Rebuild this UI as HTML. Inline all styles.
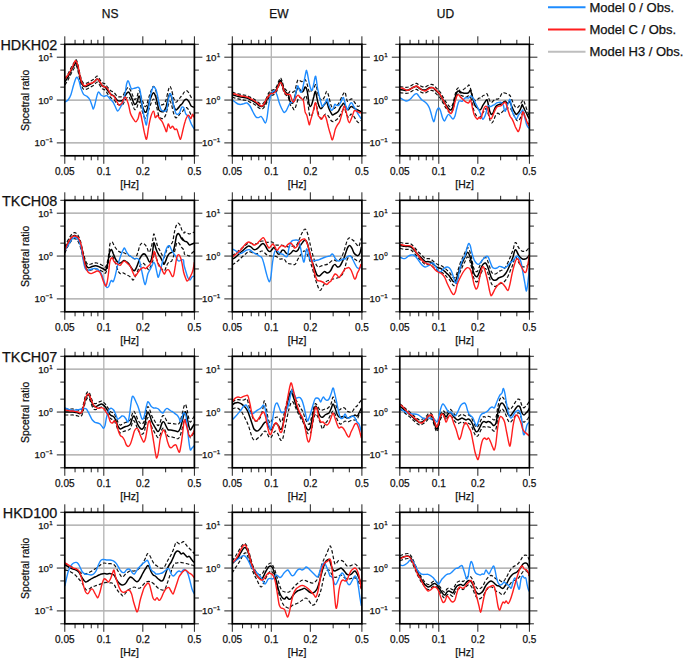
<!DOCTYPE html>
<html><head><meta charset="utf-8"><style>
html,body{margin:0;padding:0;background:#fff;}
svg{display:block;font-family:"Liberation Sans", sans-serif;}
svg text{fill:#111;stroke:#111;stroke-width:0.25px;}
</style></head><body>
<svg width="685" height="658" viewBox="0 0 685 658">
<line x1="64.80" y1="57.20" x2="194.40" y2="57.20" stroke="#a0a0a0" stroke-width="1.2"/>
<line x1="64.80" y1="100.05" x2="194.40" y2="100.05" stroke="#a0a0a0" stroke-width="1.2"/>
<line x1="64.80" y1="142.90" x2="194.40" y2="142.90" stroke="#a0a0a0" stroke-width="1.2"/>
<line x1="103.81" y1="44.30" x2="103.81" y2="155.80" stroke="#b4b4b4" stroke-width="1.3"/>
<clipPath id="cp00"><rect x="64.80" y="44.30" width="129.60" height="111.50"/></clipPath>
<g clip-path="url(#cp00)">
<path d="M64.8,85.0C65.3,84.2 66.8,82.2 68.0,80.0C69.2,77.8 70.8,74.2 72.0,72.0C73.2,69.8 74.3,68.0 75.0,67.0C75.7,66.0 75.9,65.3 76.4,66.0C76.9,66.7 77.3,68.3 78.0,71.0C78.7,73.7 79.6,79.1 80.4,82.0C81.2,84.9 82.1,87.4 83.0,88.6C83.9,89.8 84.8,89.6 86.0,89.4C87.2,89.2 88.7,88.1 90.0,87.4C91.3,86.7 92.8,85.9 94.0,85.0C95.2,84.1 96.2,82.2 97.0,82.0C97.8,81.8 98.2,82.9 99.0,84.0C99.8,85.1 101.0,87.6 102.0,88.6C103.0,89.6 104.0,89.1 105.0,90.1C106.0,91.0 107.0,93.0 108.0,94.3C109.0,95.6 110.0,97.0 111.0,97.9C112.0,98.8 113.0,98.7 114.0,99.7C115.0,100.7 116.0,103.0 117.0,103.9C118.0,104.8 119.0,105.0 120.0,105.1C121.0,105.1 122.2,105.1 123.0,104.3C123.8,103.5 124.1,101.6 125.0,100.3C125.9,99.1 127.3,96.9 128.2,96.8C129.1,96.7 129.6,98.0 130.4,99.6C131.2,101.2 132.4,104.6 133.1,106.3C133.8,108.0 134.1,109.4 134.7,109.6C135.4,109.9 136.2,109.0 136.9,107.6C137.6,106.2 138.3,101.2 139.0,101.3C139.8,101.3 140.5,105.7 141.2,107.9C141.9,110.1 142.7,112.9 143.4,114.5C144.0,116.2 144.4,117.5 145.0,117.9C145.5,118.3 146.0,118.3 146.6,116.9C147.2,115.5 148.0,112.0 148.8,109.5C149.6,107.0 150.7,103.9 151.5,102.1C152.3,100.4 152.9,98.8 153.6,99.0C154.3,99.2 155.2,101.6 155.8,103.5C156.4,105.3 156.9,107.9 157.4,110.1C157.9,112.3 158.4,115.3 159.0,116.7C159.7,118.0 160.4,118.2 161.2,118.4C162.0,118.7 163.1,118.8 163.9,118.1C164.7,117.3 165.3,116.0 166.1,113.9C166.8,111.8 167.6,107.5 168.2,105.4C168.8,103.3 169.3,101.3 169.8,101.2C170.4,101.0 170.8,102.5 171.5,104.5C172.1,106.5 172.9,111.1 173.6,113.3C174.3,115.5 175.1,117.3 175.8,117.8C176.5,118.3 177.2,117.0 177.9,116.3C178.7,115.6 179.4,114.5 180.1,113.7C180.8,113.0 181.5,112.6 182.3,111.7C183.0,110.9 183.7,109.3 184.4,108.6C185.1,108.0 185.9,107.5 186.6,107.7C187.3,107.9 188.0,108.9 188.7,110.0C189.5,111.1 190.3,113.5 190.9,114.5C191.5,115.4 192.0,115.3 192.5,115.6C193.1,115.9 193.9,116.2 194.1,116.3" fill="none" stroke="#111" stroke-width="1.2" stroke-linejoin="round" stroke-dasharray="3.5,2"/>
<path d="M64.8,79.0C65.3,78.2 66.8,76.2 68.0,74.0C69.2,71.8 70.8,68.2 72.0,66.0C73.2,63.8 74.3,62.0 75.0,61.0C75.7,60.0 75.9,59.3 76.4,60.0C76.9,60.7 77.3,62.3 78.0,65.0C78.7,67.7 79.6,73.1 80.4,76.0C81.2,78.9 82.1,81.4 83.0,82.6C83.9,83.8 84.8,83.6 86.0,83.4C87.2,83.2 88.7,82.1 90.0,81.4C91.3,80.7 92.8,79.9 94.0,79.0C95.2,78.1 96.2,76.2 97.0,76.0C97.8,75.8 98.2,76.9 99.0,78.0C99.8,79.1 101.0,81.6 102.0,82.6C103.0,83.6 104.0,83.1 105.0,83.9C106.0,84.8 107.0,86.6 108.0,87.7C109.0,88.9 110.0,90.2 111.0,90.9C112.0,91.7 113.0,91.5 114.0,92.3C115.0,93.2 116.0,95.4 117.0,96.1C118.0,96.9 119.0,97.0 120.0,96.9C121.0,96.9 122.2,96.6 123.0,95.7C123.8,94.8 124.1,92.9 125.0,91.5C125.9,90.1 127.3,87.8 128.2,87.5C129.1,87.3 129.6,88.6 130.4,90.1C131.2,91.5 132.4,94.8 133.1,96.4C133.8,97.9 134.1,99.4 134.7,99.5C135.4,99.6 136.2,98.7 136.9,97.2C137.6,95.7 138.3,90.6 139.0,90.6C139.8,90.5 140.5,94.8 141.2,96.9C141.9,99.0 142.7,101.7 143.4,103.3C144.0,104.8 144.4,106.1 145.0,106.4C145.5,106.7 146.0,106.7 146.6,105.2C147.2,103.7 148.0,100.1 148.8,97.5C149.6,94.9 150.7,91.6 151.5,89.7C152.3,87.9 152.9,86.2 153.6,86.4C154.3,86.5 155.2,88.8 155.8,90.5C156.4,92.3 156.9,94.8 157.4,96.9C157.9,99.0 158.4,102.0 159.0,103.3C159.7,104.6 160.4,104.6 161.2,104.8C162.0,104.9 163.1,104.9 163.9,104.0C164.7,103.2 165.3,101.8 166.1,99.6C166.8,97.4 167.6,93.0 168.2,90.8C168.8,88.6 169.3,86.6 169.8,86.4C170.4,86.1 170.8,87.6 171.5,89.5C172.1,91.4 172.9,95.9 173.6,98.0C174.3,100.1 175.1,101.8 175.8,102.2C176.5,102.6 177.2,101.2 177.9,100.4C178.7,99.6 179.4,98.4 180.1,97.6C180.8,96.7 181.5,96.2 182.3,95.3C183.0,94.3 183.7,92.6 184.4,91.9C185.1,91.1 185.9,90.5 186.6,90.6C187.3,90.8 188.0,91.6 188.7,92.7C189.5,93.7 190.3,96.0 190.9,96.8C191.5,97.7 192.0,97.6 192.5,97.8C193.1,98.1 193.9,98.2 194.1,98.3" fill="none" stroke="#111" stroke-width="1.2" stroke-linejoin="round" stroke-dasharray="3.5,2"/>
<path d="M64.8,82.0C65.3,81.2 66.8,79.2 68.0,77.0C69.2,74.8 70.8,71.2 72.0,69.0C73.2,66.8 74.3,65.0 75.0,64.0C75.7,63.0 75.9,62.3 76.4,63.0C76.9,63.7 77.3,65.3 78.0,68.0C78.7,70.7 79.6,76.1 80.4,79.0C81.2,81.9 82.1,84.4 83.0,85.6C83.9,86.8 84.8,86.6 86.0,86.4C87.2,86.2 88.7,85.1 90.0,84.4C91.3,83.7 92.8,82.9 94.0,82.0C95.2,81.1 96.2,79.2 97.0,79.0C97.8,78.8 98.2,79.9 99.0,81.0C99.8,82.1 101.0,84.6 102.0,85.6C103.0,86.6 104.0,86.1 105.0,87.0C106.0,87.9 107.0,89.8 108.0,91.0C109.0,92.2 110.0,93.6 111.0,94.4C112.0,95.2 113.0,95.1 114.0,96.0C115.0,96.9 116.0,99.2 117.0,100.0C118.0,100.8 119.0,101.0 120.0,101.0C121.0,101.0 122.2,100.8 123.0,100.0C123.8,99.2 124.1,97.2 125.0,95.9C125.9,94.6 127.3,92.3 128.2,92.1C129.1,92.0 129.6,93.3 130.4,94.8C131.2,96.4 132.4,99.7 133.1,101.3C133.8,102.9 134.1,104.4 134.7,104.6C135.4,104.7 136.2,103.8 136.9,102.4C137.6,101.0 138.3,95.9 139.0,95.9C139.8,95.9 140.5,100.2 141.2,102.4C141.9,104.6 142.7,107.3 143.4,108.9C144.0,110.5 144.4,111.8 145.0,112.1C145.5,112.5 146.0,112.5 146.6,111.1C147.2,109.6 148.0,106.0 148.8,103.5C149.6,101.0 150.7,97.7 151.5,95.9C152.3,94.1 152.9,92.5 153.6,92.7C154.3,92.9 155.2,95.2 155.8,97.0C156.4,98.8 156.9,101.3 157.4,103.5C157.9,105.6 158.4,108.6 159.0,110.0C159.7,111.3 160.4,111.4 161.2,111.6C162.0,111.8 163.1,111.9 163.9,111.1C164.7,110.2 165.3,108.9 166.1,106.7C166.8,104.6 167.6,100.2 168.2,98.1C168.8,95.9 169.3,93.9 169.8,93.8C170.4,93.6 170.8,95.0 171.5,97.0C172.1,99.0 172.9,103.5 173.6,105.6C174.3,107.8 175.1,109.5 175.8,110.0C176.5,110.4 177.2,109.1 177.9,108.4C178.7,107.6 179.4,106.5 180.1,105.6C180.8,104.8 181.5,104.4 182.3,103.5C183.0,102.6 183.7,101.0 184.4,100.2C185.1,99.5 185.9,99.0 186.6,99.2C187.3,99.3 188.0,100.2 188.7,101.3C189.5,102.4 190.3,104.7 190.9,105.6C191.5,106.5 192.0,106.5 192.5,106.7C193.1,107.0 193.9,107.2 194.1,107.3" fill="none" stroke="#000" stroke-width="1.5" stroke-linejoin="round"/>
<path d="M64.8,102.0C65.3,101.7 67.0,101.3 68.0,100.0C69.0,98.7 70.1,96.9 71.0,94.4C71.9,91.9 72.8,87.6 73.6,85.0C74.4,82.4 75.0,80.3 75.6,79.0C76.2,77.7 76.4,76.9 77.0,77.2C77.6,77.5 78.3,79.1 79.0,81.0C79.7,82.9 80.2,86.2 81.0,88.4C81.8,90.6 82.6,93.1 83.6,94.4C84.6,95.7 85.9,95.5 87.0,96.4C88.1,97.3 89.2,98.5 90.0,100.0C90.8,101.5 91.4,104.1 92.0,105.6C92.6,107.1 92.9,109.3 93.4,109.0C93.9,108.7 94.4,106.2 95.0,104.0C95.6,101.8 96.4,97.6 97.0,95.6C97.6,93.6 97.9,92.1 98.6,92.0C99.3,91.9 100.1,94.3 101.0,95.0C101.9,95.7 103.0,96.3 104.0,96.4C105.0,96.5 106.0,95.2 107.0,95.6C108.0,96.0 109.0,97.9 110.0,99.0C111.0,100.1 112.2,100.8 113.0,102.0C113.8,103.2 114.2,104.5 115.0,106.0C115.8,107.5 116.8,110.7 117.6,111.0C118.4,111.3 119.1,109.5 120.0,108.0C120.9,106.5 122.2,104.4 123.0,102.0C123.8,99.6 124.4,96.8 125.0,93.8C125.6,90.8 126.1,86.2 126.6,84.0C127.2,81.9 127.7,80.6 128.2,80.8C128.8,81.0 129.3,83.8 129.9,85.1C130.4,86.5 130.9,88.4 131.5,88.9C132.1,89.4 132.8,88.5 133.6,88.4C134.5,88.2 135.5,88.0 136.3,87.8C137.2,87.6 137.9,86.8 138.5,87.3C139.1,87.7 139.6,88.0 140.1,90.5C140.7,93.0 141.2,98.6 141.7,102.4C142.3,106.2 142.7,109.8 143.4,113.2C144.0,116.6 145.0,121.1 145.5,122.9C146.1,124.7 146.2,126.0 146.6,124.0C147.1,122.0 147.6,115.7 148.2,111.1C148.9,106.4 149.7,99.7 150.4,95.9C151.1,92.1 152.0,89.9 152.5,88.4C153.1,86.8 153.1,86.6 153.6,86.7C154.2,86.9 155.2,88.1 155.8,89.4C156.4,90.8 156.9,92.5 157.4,94.8C157.9,97.2 158.4,101.0 159.0,103.5C159.7,106.0 160.4,108.7 161.2,110.0C162.0,111.2 163.0,111.1 163.9,111.1C164.8,111.1 165.9,111.8 166.6,110.0C167.3,108.2 167.7,102.9 168.2,100.2C168.8,97.5 169.3,94.5 169.8,93.8C170.4,93.0 170.8,93.9 171.5,95.9C172.1,97.9 172.9,102.8 173.6,105.6C174.3,108.5 175.1,111.8 175.8,113.2C176.5,114.7 177.3,114.4 177.9,114.3C178.6,114.2 178.9,113.8 179.6,112.7C180.2,111.5 181.0,108.1 181.7,107.3C182.4,106.5 183.2,106.8 183.9,107.8C184.5,108.8 185.0,112.0 185.5,113.2C186.0,114.5 186.6,114.7 187.1,115.4C187.7,116.1 188.1,116.3 188.7,117.5C189.4,118.8 190.3,121.5 190.9,122.9C191.5,124.4 192.0,125.2 192.5,126.2C193.1,127.2 193.9,128.4 194.1,128.9" fill="none" stroke="#1e8cff" stroke-width="1.4" stroke-linejoin="round"/>
<path d="M64.8,79.0C65.3,78.3 66.8,76.8 68.0,75.0C69.2,73.2 70.9,70.2 72.0,68.0C73.1,65.8 73.9,63.2 74.6,62.0C75.3,60.8 75.4,60.3 76.0,61.0C76.6,61.7 77.3,63.5 78.0,66.0C78.7,68.5 79.3,73.2 80.0,76.0C80.7,78.8 81.2,81.3 82.0,83.0C82.8,84.7 84.0,85.8 85.0,86.0C86.0,86.2 86.8,84.5 88.0,84.0C89.2,83.5 90.8,83.5 92.0,83.0C93.2,82.5 94.1,81.7 95.0,81.0C95.9,80.3 96.8,78.8 97.6,79.0C98.4,79.2 99.1,80.8 100.0,82.0C100.9,83.2 102.0,85.6 103.0,86.4C104.0,87.2 105.1,86.4 106.0,87.0C106.9,87.6 107.6,88.7 108.4,90.0C109.2,91.3 110.1,94.0 111.0,95.0C111.9,96.0 112.8,95.2 113.6,96.0C114.4,96.8 115.1,98.5 116.0,100.0C116.9,101.5 118.0,104.5 119.0,105.0C120.0,105.5 121.0,104.3 122.0,103.0C123.0,101.7 124.0,96.9 125.0,97.0C126.0,97.1 127.3,100.8 128.2,103.5C129.1,106.2 129.6,110.7 130.4,113.2C131.2,115.7 132.2,117.2 133.1,118.6C134.0,120.1 135.0,121.9 135.8,121.9C136.6,121.9 137.2,120.2 138.0,118.6C138.7,117.0 139.4,111.6 140.1,112.1C140.8,112.7 141.6,118.4 142.3,121.9C143.0,125.3 143.7,129.8 144.4,132.7C145.2,135.5 145.9,140.2 146.6,139.1C147.3,138.1 148.0,130.0 148.8,126.2C149.5,122.4 150.1,119.0 150.9,116.5C151.7,113.9 152.9,110.9 153.6,111.1C154.3,111.2 154.6,116.8 155.2,117.5C155.9,118.3 156.7,115.2 157.4,115.4C158.1,115.6 158.8,117.5 159.6,118.6C160.4,119.7 161.4,120.2 162.3,121.9C163.2,123.5 164.3,126.7 165.0,128.3C165.7,130.0 166.1,132.3 166.6,131.6C167.1,130.9 167.6,124.6 168.2,124.0C168.8,123.5 169.7,128.0 170.4,128.3C171.1,128.7 171.8,126.0 172.5,126.2C173.3,126.4 174.0,128.9 174.7,129.4C175.4,130.0 176.1,128.3 176.9,129.4C177.6,130.5 178.4,134.3 179.0,135.9C179.6,137.5 180.0,140.0 180.6,139.1C181.3,138.2 182.1,133.4 182.8,130.5C183.5,127.6 184.2,124.2 185.0,121.9C185.7,119.5 186.5,117.5 187.1,116.5C187.7,115.4 188.1,115.0 188.7,115.4C189.4,115.7 190.3,118.8 190.9,118.6C191.5,118.4 192.0,114.5 192.5,114.3C193.1,114.1 193.9,117.0 194.1,117.5" fill="none" stroke="#ff1e1e" stroke-width="1.4" stroke-linejoin="round"/>
</g>
<line x1="64.80" y1="44.30" x2="64.80" y2="36.30" stroke="#222" stroke-width="1"/>
<line x1="64.80" y1="155.80" x2="64.80" y2="163.80" stroke="#222" stroke-width="1"/>
<line x1="75.06" y1="44.30" x2="75.06" y2="39.80" stroke="#222" stroke-width="1"/>
<line x1="75.06" y1="155.80" x2="75.06" y2="160.30" stroke="#222" stroke-width="1"/>
<line x1="83.74" y1="44.30" x2="83.74" y2="39.80" stroke="#222" stroke-width="1"/>
<line x1="83.74" y1="155.80" x2="83.74" y2="160.30" stroke="#222" stroke-width="1"/>
<line x1="91.25" y1="44.30" x2="91.25" y2="39.80" stroke="#222" stroke-width="1"/>
<line x1="91.25" y1="155.80" x2="91.25" y2="160.30" stroke="#222" stroke-width="1"/>
<line x1="97.88" y1="44.30" x2="97.88" y2="39.80" stroke="#222" stroke-width="1"/>
<line x1="97.88" y1="155.80" x2="97.88" y2="160.30" stroke="#222" stroke-width="1"/>
<line x1="103.81" y1="44.30" x2="103.81" y2="36.30" stroke="#222" stroke-width="1"/>
<line x1="103.81" y1="155.80" x2="103.81" y2="163.80" stroke="#222" stroke-width="1"/>
<line x1="142.83" y1="44.30" x2="142.83" y2="36.30" stroke="#222" stroke-width="1"/>
<line x1="142.83" y1="155.80" x2="142.83" y2="163.80" stroke="#222" stroke-width="1"/>
<line x1="165.65" y1="44.30" x2="165.65" y2="39.80" stroke="#222" stroke-width="1"/>
<line x1="165.65" y1="155.80" x2="165.65" y2="160.30" stroke="#222" stroke-width="1"/>
<line x1="181.84" y1="44.30" x2="181.84" y2="39.80" stroke="#222" stroke-width="1"/>
<line x1="181.84" y1="155.80" x2="181.84" y2="160.30" stroke="#222" stroke-width="1"/>
<line x1="194.40" y1="44.30" x2="194.40" y2="36.30" stroke="#222" stroke-width="1"/>
<line x1="194.40" y1="155.80" x2="194.40" y2="163.80" stroke="#222" stroke-width="1"/>
<line x1="64.80" y1="44.30" x2="60.30" y2="44.30" stroke="#222" stroke-width="1"/>
<line x1="194.40" y1="44.30" x2="198.90" y2="44.30" stroke="#222" stroke-width="1"/>
<line x1="64.80" y1="57.20" x2="56.80" y2="57.20" stroke="#222" stroke-width="1"/>
<line x1="194.40" y1="57.20" x2="202.40" y2="57.20" stroke="#222" stroke-width="1"/>
<line x1="64.80" y1="70.10" x2="60.30" y2="70.10" stroke="#222" stroke-width="1"/>
<line x1="194.40" y1="70.10" x2="198.90" y2="70.10" stroke="#222" stroke-width="1"/>
<line x1="64.80" y1="87.15" x2="60.30" y2="87.15" stroke="#222" stroke-width="1"/>
<line x1="194.40" y1="87.15" x2="198.90" y2="87.15" stroke="#222" stroke-width="1"/>
<line x1="64.80" y1="100.05" x2="56.80" y2="100.05" stroke="#222" stroke-width="1"/>
<line x1="194.40" y1="100.05" x2="202.40" y2="100.05" stroke="#222" stroke-width="1"/>
<line x1="64.80" y1="112.95" x2="60.30" y2="112.95" stroke="#222" stroke-width="1"/>
<line x1="194.40" y1="112.95" x2="198.90" y2="112.95" stroke="#222" stroke-width="1"/>
<line x1="64.80" y1="130.00" x2="60.30" y2="130.00" stroke="#222" stroke-width="1"/>
<line x1="194.40" y1="130.00" x2="198.90" y2="130.00" stroke="#222" stroke-width="1"/>
<line x1="64.80" y1="142.90" x2="56.80" y2="142.90" stroke="#222" stroke-width="1"/>
<line x1="194.40" y1="142.90" x2="202.40" y2="142.90" stroke="#222" stroke-width="1"/>
<line x1="64.80" y1="155.80" x2="60.30" y2="155.80" stroke="#222" stroke-width="1"/>
<line x1="194.40" y1="155.80" x2="198.90" y2="155.80" stroke="#222" stroke-width="1"/>
<rect x="64.80" y="44.30" width="129.60" height="111.50" fill="none" stroke="#000" stroke-width="1.7"/>
<text x="64.80" y="174.80" text-anchor="middle" font-size="10">0.05</text>
<text x="103.81" y="174.80" text-anchor="middle" font-size="10">0.1</text>
<text x="142.83" y="174.80" text-anchor="middle" font-size="10">0.2</text>
<text x="194.40" y="174.80" text-anchor="middle" font-size="10">0.5</text>
<text x="129.60" y="187.80" text-anchor="middle" font-size="10.4">[Hz]</text>
<text x="52.80" y="60.70" text-anchor="end" font-size="9.7">10<tspan font-size="6.2" dy="-4.0" dx="0.4">1</tspan></text>
<text x="52.80" y="103.55" text-anchor="end" font-size="9.7">10<tspan font-size="6.2" dy="-4.0" dx="0.4">0</tspan></text>
<text x="52.80" y="146.40" text-anchor="end" font-size="9.7">10<tspan font-size="6.2" dy="-4.0" dx="0.4">−1</tspan></text>
<text transform="translate(28.6,100.35) rotate(-90)" text-anchor="middle" font-size="10.4">Spcetral ratio</text>
<line x1="232.30" y1="57.20" x2="361.90" y2="57.20" stroke="#a0a0a0" stroke-width="1.2"/>
<line x1="232.30" y1="100.05" x2="361.90" y2="100.05" stroke="#a0a0a0" stroke-width="1.2"/>
<line x1="232.30" y1="142.90" x2="361.90" y2="142.90" stroke="#a0a0a0" stroke-width="1.2"/>
<line x1="271.31" y1="44.30" x2="271.31" y2="155.80" stroke="#b4b4b4" stroke-width="1.3"/>
<clipPath id="cp01"><rect x="232.30" y="44.30" width="129.60" height="111.50"/></clipPath>
<g clip-path="url(#cp01)">
<path d="M232.2,96.9C232.7,97.1 234.0,97.8 235.0,98.1C236.0,98.4 237.0,98.7 238.0,98.9C239.0,99.1 240.0,99.3 241.0,99.5C242.0,99.7 243.0,99.9 244.0,100.1C245.0,100.3 246.0,100.2 247.0,100.5C248.0,100.8 249.0,101.6 250.0,102.1C251.0,102.6 252.0,102.9 253.0,103.5C254.0,104.1 255.0,104.7 256.0,105.5C257.0,106.3 258.1,107.5 259.0,108.1C259.9,108.7 260.7,108.9 261.4,108.9C262.1,108.9 262.6,108.9 263.4,108.1C264.2,107.3 265.1,105.8 266.0,104.1C266.9,102.4 267.8,99.5 268.6,98.1C269.4,96.7 270.1,96.1 271.0,95.5C271.9,94.9 273.1,95.2 274.0,94.5C274.9,93.8 275.8,93.0 276.6,91.5C277.4,90.0 278.3,86.9 279.0,85.5C279.7,84.1 280.1,82.7 280.6,82.9C281.1,83.1 281.6,84.9 282.2,86.5C282.8,88.1 283.3,91.0 284.0,92.5C284.7,94.0 285.8,94.6 286.6,95.5C287.4,96.4 288.0,96.6 288.6,98.1C289.2,99.6 289.4,102.9 290.0,104.3C290.6,105.7 291.4,105.6 292.2,106.5C292.9,107.4 293.6,110.1 294.3,109.7C295.0,109.3 295.8,106.3 296.5,104.3C297.2,102.3 297.9,98.9 298.6,97.8C299.4,96.7 300.1,97.5 300.8,97.8C301.5,98.2 302.2,100.3 303.0,100.0C303.8,99.6 304.9,95.1 305.7,95.6C306.5,96.2 307.2,100.2 307.8,103.2C308.5,106.3 308.9,111.9 309.4,114.0C310.0,116.2 310.4,116.5 311.1,116.2C311.7,115.8 312.5,114.0 313.2,111.9C313.9,109.7 314.8,103.9 315.4,103.2C316.0,102.5 316.4,105.4 317.0,107.5C317.6,109.7 318.4,114.4 319.2,116.2C319.9,118.0 320.6,118.3 321.3,118.3C322.0,118.3 322.8,116.9 323.5,116.2C324.2,115.5 324.8,114.0 325.6,114.0C326.5,114.0 327.5,115.1 328.4,116.2C329.3,117.3 330.2,119.6 331.1,120.5C331.9,121.4 332.5,121.6 333.2,121.6C333.9,121.6 334.6,121.0 335.4,120.5C336.2,120.0 337.3,119.2 338.1,118.3C338.9,117.4 339.5,116.4 340.2,115.1C341.0,113.8 341.7,111.9 342.4,110.8C343.1,109.7 343.8,107.9 344.6,108.6C345.3,109.3 346.0,113.7 346.7,115.1C347.4,116.5 348.2,117.4 348.9,117.3C349.6,117.1 350.2,114.2 351.0,114.0C351.8,113.8 352.8,115.1 353.7,116.2C354.6,117.3 355.6,119.4 356.4,120.5C357.2,121.6 357.9,122.7 358.6,122.7C359.3,122.7 360.4,120.9 360.8,120.5" fill="none" stroke="#111" stroke-width="1.2" stroke-linejoin="round" stroke-dasharray="3.5,2"/>
<path d="M232.2,91.9C232.7,92.1 234.0,92.8 235.0,93.1C236.0,93.4 237.0,93.7 238.0,93.9C239.0,94.1 240.0,94.3 241.0,94.5C242.0,94.7 243.0,94.9 244.0,95.1C245.0,95.3 246.0,95.2 247.0,95.5C248.0,95.8 249.0,96.6 250.0,97.1C251.0,97.6 252.0,97.9 253.0,98.5C254.0,99.1 255.0,99.7 256.0,100.5C257.0,101.3 258.1,102.5 259.0,103.1C259.9,103.7 260.7,103.9 261.4,103.9C262.1,103.9 262.6,103.9 263.4,103.1C264.2,102.3 265.1,100.8 266.0,99.1C266.9,97.4 267.8,94.5 268.6,93.1C269.4,91.7 270.1,91.1 271.0,90.5C271.9,89.9 273.1,90.2 274.0,89.5C274.9,88.8 275.8,88.0 276.6,86.5C277.4,85.0 278.3,81.9 279.0,80.5C279.7,79.1 280.1,77.7 280.6,77.9C281.1,78.1 281.6,79.9 282.2,81.5C282.8,83.1 283.3,86.0 284.0,87.5C284.7,89.0 285.8,89.6 286.6,90.5C287.4,91.4 288.0,93.0 288.6,93.1C289.2,93.2 289.4,91.4 290.0,91.3C290.6,91.2 291.4,92.6 292.2,92.4C293.0,92.2 294.0,92.2 294.9,90.2C295.8,88.3 296.8,82.1 297.6,80.5C298.4,78.9 299.0,80.3 299.7,80.5C300.4,80.7 301.0,81.8 301.9,81.6C302.8,81.4 304.2,78.9 305.1,79.4C306.0,80.0 306.6,82.7 307.3,84.8C308.0,87.0 308.7,91.5 309.4,92.4C310.2,93.3 310.9,91.0 311.6,90.2C312.3,89.5 313.0,89.0 313.8,88.1C314.5,87.2 315.2,83.8 315.9,84.8C316.6,85.9 317.4,92.2 318.1,94.6C318.8,96.9 319.5,98.0 320.2,98.9C321.0,99.8 321.7,100.3 322.4,100.0C323.1,99.6 323.8,98.2 324.6,96.7C325.3,95.3 326.0,91.3 326.7,91.3C327.5,91.3 328.2,94.4 328.9,96.7C329.6,99.1 330.3,103.4 331.1,105.4C331.8,107.4 332.5,108.3 333.2,108.6C333.9,109.0 334.6,108.3 335.4,107.5C336.2,106.8 337.2,105.7 338.1,104.3C339.0,102.9 340.0,100.5 340.8,98.9C341.6,97.3 342.2,95.6 342.9,94.6C343.7,93.5 344.4,91.3 345.1,92.4C345.8,93.5 346.5,99.8 347.3,101.1C348.0,102.3 348.7,100.3 349.4,100.0C350.1,99.6 350.9,98.7 351.6,98.9C352.3,99.1 353.0,100.2 353.7,101.1C354.5,102.0 355.2,103.4 355.9,104.3C356.6,105.2 357.3,106.3 358.1,106.5C358.8,106.6 359.6,105.7 360.2,105.4C360.8,105.0 361.6,104.5 361.8,104.3" fill="none" stroke="#111" stroke-width="1.2" stroke-linejoin="round" stroke-dasharray="3.5,2"/>
<path d="M232.2,94.4C232.7,94.6 234.0,95.3 235.0,95.6C236.0,95.9 237.0,96.2 238.0,96.4C239.0,96.6 240.0,96.8 241.0,97.0C242.0,97.2 243.0,97.4 244.0,97.6C245.0,97.8 246.0,97.7 247.0,98.0C248.0,98.3 249.0,99.1 250.0,99.6C251.0,100.1 252.0,100.4 253.0,101.0C254.0,101.6 255.0,102.2 256.0,103.0C257.0,103.8 258.1,105.0 259.0,105.6C259.9,106.2 260.7,106.4 261.4,106.4C262.1,106.4 262.6,106.4 263.4,105.6C264.2,104.8 265.1,103.3 266.0,101.6C266.9,99.9 267.8,97.0 268.6,95.6C269.4,94.2 270.1,93.6 271.0,93.0C271.9,92.4 273.1,92.7 274.0,92.0C274.9,91.3 275.8,90.5 276.6,89.0C277.4,87.5 278.3,84.4 279.0,83.0C279.7,81.6 280.1,80.2 280.6,80.4C281.1,80.6 281.6,82.4 282.2,84.0C282.8,85.6 283.3,88.5 284.0,90.0C284.7,91.5 285.8,92.1 286.6,93.0C287.4,93.9 288.0,94.3 288.6,95.6C289.2,96.9 289.4,99.8 290.0,101.1C290.6,102.3 291.5,103.2 292.2,103.2C292.8,103.2 293.2,102.5 293.8,101.1C294.3,99.6 294.9,96.5 295.4,94.6C295.9,92.6 296.5,90.2 297.0,89.2C297.6,88.1 298.1,87.9 298.6,88.1C299.2,88.3 299.7,89.6 300.3,90.2C300.8,90.9 301.3,91.8 301.9,91.9C302.4,92.0 303.0,91.6 303.5,90.8C304.0,90.0 304.6,87.3 305.1,87.0C305.7,86.7 306.3,87.9 306.7,89.2C307.2,90.4 307.5,92.2 307.8,94.6C308.2,96.9 308.5,101.2 308.9,103.2C309.4,105.2 310.0,106.5 310.5,106.5C311.1,106.5 311.6,104.8 312.1,103.2C312.7,101.6 313.2,98.7 313.8,96.7C314.3,94.7 314.9,91.5 315.4,91.3C315.8,91.1 316.0,93.7 316.5,95.6C316.9,97.6 317.5,101.2 318.1,103.2C318.6,105.2 319.2,106.6 319.7,107.5C320.2,108.4 320.8,108.8 321.3,108.6C321.9,108.4 322.4,107.2 322.9,106.5C323.5,105.7 323.9,105.0 324.6,104.3C325.2,103.6 326.0,101.4 326.7,102.1C327.5,102.9 328.2,106.8 328.9,108.6C329.6,110.4 330.4,111.9 331.1,112.9C331.7,114.0 332.1,114.9 332.7,115.1C333.2,115.3 333.7,114.4 334.3,114.0C334.9,113.7 335.7,113.5 336.5,112.9C337.2,112.4 338.0,111.7 338.6,110.8C339.2,109.9 339.7,108.4 340.2,107.5C340.8,106.6 341.3,106.1 341.9,105.4C342.4,104.7 342.9,103.2 343.5,103.2C344.0,103.2 344.6,104.5 345.1,105.4C345.6,106.3 346.2,107.9 346.7,108.6C347.3,109.3 347.8,109.9 348.3,109.7C348.9,109.5 349.4,108.1 350.0,107.5C350.5,107.0 351.0,106.5 351.6,106.5C352.1,106.5 352.7,107.2 353.2,107.5C353.7,107.9 354.2,108.3 354.8,108.6C355.4,109.0 356.3,109.3 357.0,109.7C357.7,110.1 358.4,110.4 359.1,110.8C359.9,111.1 360.9,111.7 361.3,111.9" fill="none" stroke="#000" stroke-width="1.5" stroke-linejoin="round"/>
<path d="M232.2,100.0C232.7,100.3 234.0,101.3 235.0,102.0C236.0,102.7 237.0,103.6 238.0,104.0C239.0,104.4 240.0,104.5 241.0,104.4C242.0,104.3 243.0,103.8 244.0,103.6C245.0,103.4 246.0,102.6 247.0,103.0C248.0,103.4 249.0,104.5 250.0,106.0C251.0,107.5 252.0,110.2 253.0,112.0C254.0,113.8 255.1,116.1 256.0,117.0C256.9,117.9 257.8,117.7 258.6,117.6C259.4,117.5 260.3,116.2 261.0,116.4C261.7,116.6 262.3,117.9 263.0,119.0C263.7,120.1 264.7,123.2 265.4,123.0C266.1,122.8 266.5,120.8 267.0,118.0C267.5,115.2 268.0,109.7 268.6,106.0C269.2,102.3 269.9,98.3 270.6,96.0C271.3,93.7 271.9,92.8 272.6,92.0C273.3,91.2 274.3,90.5 275.0,91.0C275.7,91.5 276.3,93.2 277.0,95.0C277.7,96.8 278.3,99.8 279.0,102.0C279.7,104.2 280.6,106.3 281.4,108.0C282.2,109.7 283.2,111.9 284.0,112.4C284.8,112.9 285.3,111.9 286.0,111.0C286.7,110.1 287.3,108.3 288.0,107.0C288.7,105.7 289.3,104.0 290.0,103.2C290.7,102.4 291.4,102.7 292.2,102.1C292.9,101.6 293.7,101.6 294.3,100.0C295.0,98.4 295.4,94.7 295.9,92.4C296.5,90.1 297.0,86.5 297.6,85.9C298.1,85.4 298.6,88.1 299.2,89.2C299.7,90.2 300.3,92.4 300.8,92.4C301.3,92.4 301.9,91.0 302.4,89.2C303.0,87.4 303.5,84.3 304.0,81.6C304.6,78.9 305.3,74.9 305.7,73.0C306.1,71.1 306.2,70.3 306.4,70.3C306.7,70.3 306.9,71.1 307.3,73.0C307.7,74.9 308.4,79.1 308.9,81.6C309.4,84.1 310.0,86.6 310.5,88.1C311.1,89.5 311.6,91.0 312.1,90.2C312.7,89.5 313.2,86.1 313.8,83.8C314.3,81.4 314.9,76.7 315.4,76.2C315.8,75.7 316.1,78.5 316.5,80.5C316.8,82.5 317.1,85.6 317.5,88.1C318.0,90.6 318.6,93.3 319.2,95.6C319.7,98.0 320.2,100.3 320.8,102.1C321.3,103.9 321.9,106.1 322.4,106.5C322.9,106.8 323.5,105.0 324.0,104.3C324.6,103.6 325.1,103.0 325.6,102.1C326.2,101.2 326.8,98.7 327.3,98.9C327.7,99.1 327.9,101.8 328.4,103.2C328.8,104.7 329.4,106.4 330.0,107.5C330.5,108.7 331.1,110.1 331.6,110.2C332.1,110.4 332.7,109.6 333.2,108.6C333.8,107.6 334.3,104.8 334.8,104.3C335.4,103.8 335.8,105.2 336.5,105.4C337.1,105.6 337.9,105.9 338.6,105.4C339.3,104.8 340.1,103.4 340.8,102.1C341.5,100.9 342.4,98.4 342.9,97.8C343.5,97.3 343.6,97.6 344.0,98.9C344.5,100.2 345.1,103.6 345.6,105.4C346.2,107.2 346.7,109.5 347.3,109.7C347.8,109.9 348.3,107.5 348.9,106.5C349.4,105.4 350.0,103.8 350.5,103.2C351.0,102.7 351.6,102.7 352.1,103.2C352.7,103.8 353.1,105.4 353.7,106.5C354.4,107.5 355.2,108.4 355.9,109.7C356.6,111.0 357.3,112.8 358.1,114.0C358.8,115.3 359.6,116.4 360.2,117.3C360.8,118.2 361.6,119.1 361.8,119.4" fill="none" stroke="#1e8cff" stroke-width="1.4" stroke-linejoin="round"/>
<path d="M232.2,93.6C232.7,93.7 234.0,93.8 235.0,94.0C236.0,94.2 237.0,94.7 238.0,95.0C239.0,95.3 240.0,95.8 241.0,96.0C242.0,96.2 243.0,96.2 244.0,96.4C245.0,96.6 246.0,96.7 247.0,97.0C248.0,97.3 249.0,97.9 250.0,98.4C251.0,98.9 252.0,99.4 253.0,100.0C254.0,100.6 255.0,101.3 256.0,102.0C257.0,102.7 258.1,103.7 259.0,104.4C259.9,105.1 260.7,105.9 261.4,106.0C262.1,106.1 262.6,106.0 263.4,105.0C264.2,104.0 265.1,101.5 266.0,100.0C266.9,98.5 267.8,97.1 268.6,96.0C269.4,94.9 270.1,94.1 271.0,93.6C271.9,93.1 273.1,93.6 274.0,93.0C274.9,92.4 275.8,91.4 276.6,90.0C277.4,88.6 278.3,85.7 279.0,84.4C279.7,83.1 280.1,82.3 280.6,82.4C281.1,82.5 281.6,83.6 282.2,85.0C282.8,86.4 283.3,89.4 284.0,91.0C284.7,92.6 285.6,93.8 286.6,94.4C287.6,95.0 289.2,93.8 290.0,94.6C290.8,95.3 291.1,97.6 291.6,98.9C292.2,100.2 292.7,102.0 293.2,102.1C293.8,102.3 294.3,100.9 294.9,100.0C295.4,99.1 295.9,97.5 296.5,96.7C297.0,95.9 297.6,95.1 298.1,95.1C298.6,95.1 299.1,96.1 299.7,96.7C300.4,97.4 301.3,98.2 301.9,98.9C302.5,99.6 303.0,98.9 303.5,101.1C304.0,103.2 304.6,109.5 305.1,111.9C305.7,114.2 306.2,113.5 306.7,115.1C307.3,116.7 307.9,120.0 308.4,121.6C308.8,123.2 309.1,125.0 309.4,124.8C309.8,124.6 310.1,122.1 310.5,120.5C311.0,118.9 311.6,117.1 312.1,115.1C312.7,113.1 313.2,110.7 313.8,108.6C314.3,106.5 314.9,103.0 315.4,102.7C315.8,102.3 316.0,104.4 316.5,106.5C316.9,108.5 317.5,113.3 318.1,115.1C318.6,116.9 319.2,116.5 319.7,117.3C320.2,118.0 320.8,119.4 321.3,119.4C321.9,119.4 322.4,118.0 322.9,117.3C323.5,116.5 324.0,114.9 324.6,115.1C325.1,115.3 325.6,116.7 326.2,118.3C326.7,120.0 327.4,123.0 327.8,124.8C328.3,126.6 328.4,127.5 328.9,129.1C329.3,130.8 330.0,132.7 330.5,134.5C331.1,136.3 331.6,139.8 332.1,139.9C332.7,140.1 333.2,137.4 333.8,135.6C334.3,133.8 334.7,130.9 335.4,129.1C336.0,127.3 336.8,126.1 337.5,124.8C338.3,123.6 339.0,123.4 339.7,121.6C340.4,119.8 341.2,116.4 341.9,114.0C342.5,111.7 343.0,108.8 343.5,107.5C343.9,106.3 344.1,105.7 344.6,106.5C345.0,107.2 345.6,109.7 346.2,111.9C346.7,114.0 347.3,117.6 347.8,119.4C348.3,121.2 348.9,122.7 349.4,122.7C350.0,122.7 350.5,120.7 351.0,119.4C351.6,118.2 352.1,116.5 352.7,115.1C353.2,113.7 353.7,111.5 354.3,110.8C354.8,110.1 355.3,110.6 355.9,110.8C356.5,111.0 357.3,111.5 358.1,111.9C358.8,112.2 359.6,112.8 360.2,112.9C360.8,113.0 361.6,112.5 361.8,112.4" fill="none" stroke="#ff1e1e" stroke-width="1.4" stroke-linejoin="round"/>
</g>
<line x1="232.30" y1="44.30" x2="232.30" y2="36.30" stroke="#222" stroke-width="1"/>
<line x1="232.30" y1="155.80" x2="232.30" y2="163.80" stroke="#222" stroke-width="1"/>
<line x1="242.56" y1="44.30" x2="242.56" y2="39.80" stroke="#222" stroke-width="1"/>
<line x1="242.56" y1="155.80" x2="242.56" y2="160.30" stroke="#222" stroke-width="1"/>
<line x1="251.24" y1="44.30" x2="251.24" y2="39.80" stroke="#222" stroke-width="1"/>
<line x1="251.24" y1="155.80" x2="251.24" y2="160.30" stroke="#222" stroke-width="1"/>
<line x1="258.75" y1="44.30" x2="258.75" y2="39.80" stroke="#222" stroke-width="1"/>
<line x1="258.75" y1="155.80" x2="258.75" y2="160.30" stroke="#222" stroke-width="1"/>
<line x1="265.38" y1="44.30" x2="265.38" y2="39.80" stroke="#222" stroke-width="1"/>
<line x1="265.38" y1="155.80" x2="265.38" y2="160.30" stroke="#222" stroke-width="1"/>
<line x1="271.31" y1="44.30" x2="271.31" y2="36.30" stroke="#222" stroke-width="1"/>
<line x1="271.31" y1="155.80" x2="271.31" y2="163.80" stroke="#222" stroke-width="1"/>
<line x1="310.33" y1="44.30" x2="310.33" y2="36.30" stroke="#222" stroke-width="1"/>
<line x1="310.33" y1="155.80" x2="310.33" y2="163.80" stroke="#222" stroke-width="1"/>
<line x1="333.15" y1="44.30" x2="333.15" y2="39.80" stroke="#222" stroke-width="1"/>
<line x1="333.15" y1="155.80" x2="333.15" y2="160.30" stroke="#222" stroke-width="1"/>
<line x1="349.34" y1="44.30" x2="349.34" y2="39.80" stroke="#222" stroke-width="1"/>
<line x1="349.34" y1="155.80" x2="349.34" y2="160.30" stroke="#222" stroke-width="1"/>
<line x1="361.90" y1="44.30" x2="361.90" y2="36.30" stroke="#222" stroke-width="1"/>
<line x1="361.90" y1="155.80" x2="361.90" y2="163.80" stroke="#222" stroke-width="1"/>
<line x1="232.30" y1="44.30" x2="227.80" y2="44.30" stroke="#222" stroke-width="1"/>
<line x1="361.90" y1="44.30" x2="366.40" y2="44.30" stroke="#222" stroke-width="1"/>
<line x1="232.30" y1="57.20" x2="224.30" y2="57.20" stroke="#222" stroke-width="1"/>
<line x1="361.90" y1="57.20" x2="369.90" y2="57.20" stroke="#222" stroke-width="1"/>
<line x1="232.30" y1="70.10" x2="227.80" y2="70.10" stroke="#222" stroke-width="1"/>
<line x1="361.90" y1="70.10" x2="366.40" y2="70.10" stroke="#222" stroke-width="1"/>
<line x1="232.30" y1="87.15" x2="227.80" y2="87.15" stroke="#222" stroke-width="1"/>
<line x1="361.90" y1="87.15" x2="366.40" y2="87.15" stroke="#222" stroke-width="1"/>
<line x1="232.30" y1="100.05" x2="224.30" y2="100.05" stroke="#222" stroke-width="1"/>
<line x1="361.90" y1="100.05" x2="369.90" y2="100.05" stroke="#222" stroke-width="1"/>
<line x1="232.30" y1="112.95" x2="227.80" y2="112.95" stroke="#222" stroke-width="1"/>
<line x1="361.90" y1="112.95" x2="366.40" y2="112.95" stroke="#222" stroke-width="1"/>
<line x1="232.30" y1="130.00" x2="227.80" y2="130.00" stroke="#222" stroke-width="1"/>
<line x1="361.90" y1="130.00" x2="366.40" y2="130.00" stroke="#222" stroke-width="1"/>
<line x1="232.30" y1="142.90" x2="224.30" y2="142.90" stroke="#222" stroke-width="1"/>
<line x1="361.90" y1="142.90" x2="369.90" y2="142.90" stroke="#222" stroke-width="1"/>
<line x1="232.30" y1="155.80" x2="227.80" y2="155.80" stroke="#222" stroke-width="1"/>
<line x1="361.90" y1="155.80" x2="366.40" y2="155.80" stroke="#222" stroke-width="1"/>
<rect x="232.30" y="44.30" width="129.60" height="111.50" fill="none" stroke="#000" stroke-width="1.7"/>
<text x="232.30" y="174.80" text-anchor="middle" font-size="10">0.05</text>
<text x="271.31" y="174.80" text-anchor="middle" font-size="10">0.1</text>
<text x="310.33" y="174.80" text-anchor="middle" font-size="10">0.2</text>
<text x="361.90" y="174.80" text-anchor="middle" font-size="10">0.5</text>
<text x="297.10" y="187.80" text-anchor="middle" font-size="10.4">[Hz]</text>
<text x="220.30" y="60.70" text-anchor="end" font-size="9.7">10<tspan font-size="6.2" dy="-4.0" dx="0.4">1</tspan></text>
<text x="220.30" y="103.55" text-anchor="end" font-size="9.7">10<tspan font-size="6.2" dy="-4.0" dx="0.4">0</tspan></text>
<text x="220.30" y="146.40" text-anchor="end" font-size="9.7">10<tspan font-size="6.2" dy="-4.0" dx="0.4">−1</tspan></text>
<line x1="399.80" y1="57.20" x2="529.40" y2="57.20" stroke="#a0a0a0" stroke-width="1.2"/>
<line x1="399.80" y1="100.05" x2="529.40" y2="100.05" stroke="#a0a0a0" stroke-width="1.2"/>
<line x1="399.80" y1="142.90" x2="529.40" y2="142.90" stroke="#a0a0a0" stroke-width="1.2"/>
<line x1="438.50" y1="44.30" x2="438.50" y2="155.80" stroke="#6e6e6e" stroke-width="1.0"/>
<clipPath id="cp02"><rect x="399.80" y="44.30" width="129.60" height="111.50"/></clipPath>
<g clip-path="url(#cp02)">
<path d="M399.8,92.6C400.3,92.7 402.0,92.9 403.0,93.0C404.0,93.1 405.1,93.4 406.0,93.4C406.9,93.4 407.7,93.3 408.6,93.0C409.5,92.7 410.5,91.9 411.4,91.4C412.3,90.9 413.1,90.3 414.0,90.0C414.9,89.7 415.8,89.2 416.6,89.4C417.4,89.6 418.1,90.5 419.0,91.0C419.9,91.5 421.0,92.3 422.0,92.6C423.0,92.9 424.1,93.1 425.0,93.0C425.9,92.9 426.6,92.2 427.4,91.8C428.2,91.4 429.1,90.8 430.0,90.6C430.9,90.4 431.8,90.3 432.6,90.6C433.4,90.9 434.3,91.9 435.0,92.6C435.7,93.3 436.3,93.9 437.0,94.6C437.7,95.3 438.3,95.8 439.0,96.6C439.7,97.4 440.3,98.3 441.0,99.4C441.7,100.5 442.3,101.8 443.0,103.0C443.7,104.2 444.3,105.5 445.0,106.6C445.7,107.7 446.3,108.5 447.0,109.4C447.7,110.3 448.3,111.4 449.0,112.0C449.7,112.6 450.3,113.4 451.0,113.0C451.7,112.6 452.3,111.4 453.0,109.4C453.7,107.4 454.3,103.4 455.0,101.0C455.7,98.6 456.3,96.2 457.0,95.0C457.7,93.8 458.5,94.0 459.0,94.0C459.5,94.0 459.5,94.5 460.0,94.8C460.5,95.2 461.4,95.7 462.2,95.9C462.9,96.2 463.6,96.3 464.3,96.5C465.0,96.6 465.8,97.1 466.5,97.0C467.2,96.9 467.9,95.7 468.6,95.9C469.4,96.1 470.2,96.8 470.8,98.1C471.4,99.3 471.9,101.3 472.4,103.5C473.0,105.6 473.4,109.1 474.0,111.1C474.7,113.0 475.5,114.3 476.2,115.4C476.9,116.5 477.6,117.4 478.4,117.5C479.1,117.7 479.8,117.2 480.5,116.5C481.2,115.7 482.0,114.3 482.7,113.2C483.4,112.1 484.2,110.7 484.8,110.0C485.5,109.3 485.8,108.0 486.5,108.9C487.1,109.8 488.0,113.4 488.6,115.4C489.3,117.4 489.7,119.5 490.2,120.8C490.8,122.0 491.3,122.9 491.9,122.9C492.4,122.9 492.9,122.0 493.5,120.8C494.1,119.5 494.9,116.6 495.6,115.4C496.4,114.1 497.1,113.4 497.8,113.2C498.5,113.0 499.3,114.5 500.0,114.3C500.7,114.1 501.4,112.9 502.1,112.1C502.9,111.4 503.6,110.5 504.3,110.0C505.0,109.4 505.7,109.3 506.5,108.9C507.2,108.5 507.9,107.8 508.6,107.8C509.3,107.8 510.1,108.0 510.8,108.9C511.5,109.8 512.2,111.8 512.9,113.2C513.7,114.7 514.4,116.3 515.1,117.5C515.8,118.8 516.5,120.4 517.3,120.8C518.0,121.1 518.7,120.6 519.4,119.7C520.1,118.8 520.9,116.8 521.6,115.4C522.2,113.9 522.7,110.9 523.2,111.1C523.7,111.2 524.2,114.7 524.8,116.5C525.4,118.3 526.3,120.6 527.0,121.9C527.7,123.1 528.8,123.7 529.1,124.0" fill="none" stroke="#111" stroke-width="1.2" stroke-linejoin="round" stroke-dasharray="3.5,2"/>
<path d="M399.8,86.6C400.3,86.7 402.0,86.9 403.0,87.0C404.0,87.1 405.1,87.4 406.0,87.4C406.9,87.4 407.7,87.3 408.6,87.0C409.5,86.7 410.5,85.9 411.4,85.4C412.3,84.9 413.1,84.3 414.0,84.0C414.9,83.7 415.8,83.2 416.6,83.4C417.4,83.6 418.1,84.5 419.0,85.0C419.9,85.5 421.0,86.3 422.0,86.6C423.0,86.9 424.1,87.1 425.0,87.0C425.9,86.9 426.6,86.2 427.4,85.8C428.2,85.4 429.1,84.8 430.0,84.6C430.9,84.4 431.8,84.3 432.6,84.6C433.4,84.9 434.3,85.9 435.0,86.6C435.7,87.3 436.3,87.9 437.0,88.6C437.7,89.3 438.3,89.8 439.0,90.6C439.7,91.4 440.3,92.3 441.0,93.4C441.7,94.5 442.3,95.8 443.0,97.0C443.7,98.2 444.3,99.5 445.0,100.6C445.7,101.7 446.3,102.5 447.0,103.4C447.7,104.3 448.3,105.4 449.0,106.0C449.7,106.6 450.3,107.4 451.0,107.0C451.7,106.6 452.3,105.4 453.0,103.4C453.7,101.4 454.3,97.4 455.0,95.0C455.7,92.6 456.3,90.2 457.0,89.0C457.7,87.8 458.5,87.6 459.0,88.0C459.5,88.4 459.5,91.2 460.0,91.6C460.5,92.0 461.4,91.1 462.2,90.5C463.0,90.0 464.0,89.1 464.9,88.4C465.8,87.6 466.8,86.7 467.6,86.2C468.3,85.7 468.6,84.6 469.2,85.1C469.7,85.7 470.3,87.6 470.8,89.4C471.3,91.2 471.8,94.1 472.4,95.9C473.1,97.7 473.9,99.5 474.6,100.2C475.3,101.0 476.0,100.6 476.7,100.2C477.5,99.9 478.2,98.4 478.9,98.1C479.6,97.7 480.4,98.4 481.1,98.1C481.7,97.7 482.1,96.5 482.7,95.9C483.3,95.4 484.1,95.2 484.8,94.8C485.6,94.5 486.4,93.2 487.0,93.8C487.6,94.3 488.0,96.6 488.6,98.1C489.3,99.5 490.1,101.9 490.8,102.4C491.5,102.9 492.2,101.9 492.9,101.3C493.7,100.8 494.4,99.5 495.1,99.2C495.8,98.8 496.5,99.3 497.3,99.2C498.0,99.0 498.7,99.0 499.4,98.1C500.2,97.2 501.0,94.7 501.6,93.8C502.2,92.9 502.6,92.8 503.2,92.7C503.8,92.6 504.6,93.0 505.4,93.2C506.2,93.5 507.3,93.9 508.1,94.3C508.9,94.8 509.4,94.6 510.2,95.9C511.0,97.3 512.1,100.6 512.9,102.4C513.7,104.2 514.4,105.8 515.1,106.7C515.8,107.6 516.5,108.0 517.3,107.8C518.0,107.6 518.7,106.5 519.4,105.6C520.1,104.7 520.9,103.3 521.6,102.4C522.2,101.5 522.7,100.1 523.2,100.2C523.7,100.4 524.2,101.9 524.8,103.5C525.4,105.1 526.3,108.0 527.0,110.0C527.7,112.0 528.8,114.5 529.1,115.4" fill="none" stroke="#111" stroke-width="1.2" stroke-linejoin="round" stroke-dasharray="3.5,2"/>
<path d="M399.8,89.6C400.3,89.7 402.0,89.9 403.0,90.0C404.0,90.1 405.1,90.4 406.0,90.4C406.9,90.4 407.7,90.3 408.6,90.0C409.5,89.7 410.5,88.9 411.4,88.4C412.3,87.9 413.1,87.3 414.0,87.0C414.9,86.7 415.8,86.2 416.6,86.4C417.4,86.6 418.1,87.5 419.0,88.0C419.9,88.5 421.0,89.3 422.0,89.6C423.0,89.9 424.1,90.1 425.0,90.0C425.9,89.9 426.6,89.2 427.4,88.8C428.2,88.4 429.1,87.8 430.0,87.6C430.9,87.4 431.8,87.3 432.6,87.6C433.4,87.9 434.3,88.9 435.0,89.6C435.7,90.3 436.3,90.9 437.0,91.6C437.7,92.3 438.3,92.8 439.0,93.6C439.7,94.4 440.3,95.3 441.0,96.4C441.7,97.5 442.3,98.8 443.0,100.0C443.7,101.2 444.3,102.5 445.0,103.6C445.7,104.7 446.3,105.5 447.0,106.4C447.7,107.3 448.3,108.4 449.0,109.0C449.7,109.6 450.3,110.4 451.0,110.0C451.7,109.6 452.3,108.4 453.0,106.4C453.7,104.4 454.3,100.4 455.0,98.0C455.7,95.6 456.3,93.2 457.0,92.0C457.7,90.8 458.5,90.9 459.0,91.0C459.5,91.1 459.5,92.4 460.0,92.7C460.5,93.0 461.4,92.6 462.2,92.7C462.9,92.8 463.6,93.1 464.3,93.2C465.0,93.3 465.8,93.3 466.5,93.2C467.2,93.1 468.0,93.2 468.6,92.7C469.3,92.1 469.8,90.0 470.3,90.0C470.7,90.0 470.9,91.2 471.3,92.7C471.8,94.2 472.3,97.0 473.0,99.2C473.6,101.3 474.4,104.2 475.1,105.6C475.8,107.1 476.6,107.1 477.3,107.8C478.0,108.5 478.8,109.8 479.4,110.0C480.1,110.2 480.5,109.6 481.1,108.9C481.6,108.2 482.1,106.7 482.7,105.6C483.3,104.6 484.1,103.4 484.8,102.4C485.6,101.4 486.4,99.3 487.0,99.7C487.6,100.1 487.9,102.7 488.3,104.6C488.8,106.5 489.2,109.4 489.7,111.1C490.2,112.7 490.8,113.9 491.3,114.3C491.9,114.7 492.4,114.1 492.9,113.2C493.5,112.3 493.9,110.2 494.6,108.9C495.2,107.6 496.0,106.4 496.7,105.6C497.5,104.9 498.2,104.8 498.9,104.6C499.6,104.3 500.3,104.4 501.1,104.0C501.8,103.7 502.5,102.9 503.2,102.4C503.9,102.0 504.7,101.1 505.4,101.3C506.1,101.5 506.9,103.5 507.5,103.5C508.2,103.5 508.7,101.5 509.2,101.3C509.6,101.1 509.8,101.5 510.2,102.4C510.7,103.3 511.2,105.3 511.9,106.7C512.5,108.2 513.3,109.8 514.0,111.1C514.7,112.3 515.5,113.9 516.2,114.3C516.8,114.7 517.3,113.8 517.8,113.2C518.3,112.7 518.9,112.0 519.4,111.1C520.0,110.2 520.6,108.9 521.0,107.8C521.5,106.7 521.8,104.7 522.1,104.6C522.5,104.4 522.7,105.8 523.2,106.7C523.6,107.6 524.2,108.7 524.8,110.0C525.4,111.2 526.3,112.9 527.0,114.3C527.7,115.7 528.8,117.9 529.1,118.6" fill="none" stroke="#000" stroke-width="1.5" stroke-linejoin="round"/>
<path d="M399.8,97.6C400.3,97.9 402.0,99.0 403.0,99.6C404.0,100.2 405.1,100.9 406.0,101.0C406.9,101.1 407.7,100.9 408.6,100.4C409.5,99.9 410.5,98.9 411.4,98.0C412.3,97.1 413.1,95.7 414.0,95.0C414.9,94.3 415.8,93.4 416.6,93.6C417.4,93.8 418.1,95.3 419.0,96.4C419.9,97.5 421.0,99.1 422.0,100.0C423.0,100.9 424.1,101.3 425.0,102.0C425.9,102.7 426.7,103.4 427.4,104.4C428.1,105.4 428.8,106.6 429.4,108.0C430.0,109.4 430.5,111.2 431.0,113.0C431.5,114.8 432.1,117.6 432.6,119.0C433.1,120.4 433.5,122.1 434.0,121.6C434.5,121.1 434.9,117.9 435.4,116.0C435.9,114.1 436.4,111.3 437.0,110.0C437.6,108.7 438.4,107.8 439.0,108.0C439.6,108.2 440.0,109.3 440.6,111.0C441.2,112.7 441.9,116.3 442.6,118.0C443.3,119.7 443.9,121.2 444.6,121.0C445.3,120.8 445.9,118.1 446.6,117.0C447.3,115.9 447.9,114.5 448.6,114.4C449.3,114.3 449.9,115.6 450.6,116.4C451.3,117.2 452.3,119.1 453.0,119.0C453.7,118.9 454.4,117.7 455.0,116.0C455.6,114.3 456.0,111.3 456.6,109.0C457.2,106.7 458.0,103.4 458.6,102.0C459.2,100.6 459.4,100.9 460.0,100.8C460.6,100.7 461.4,101.7 462.2,101.3C462.9,101.0 463.6,99.3 464.3,98.6C465.0,98.0 465.8,97.6 466.5,97.5C467.2,97.5 467.9,98.4 468.6,98.1C469.4,97.8 470.1,95.9 470.8,95.9C471.5,95.9 472.2,97.0 473.0,98.1C473.7,99.2 474.4,101.0 475.1,102.4C475.8,103.8 476.6,105.3 477.3,106.7C478.0,108.2 478.8,109.6 479.4,111.1C480.1,112.5 480.5,114.0 481.1,115.4C481.6,116.7 482.1,118.8 482.7,119.2C483.2,119.5 483.8,118.5 484.3,117.5C484.8,116.5 485.4,115.0 485.9,113.2C486.5,111.4 487.0,108.0 487.5,106.7C488.1,105.5 488.6,105.6 489.2,105.6C489.7,105.6 490.2,106.7 490.8,106.7C491.3,106.7 491.8,106.0 492.4,105.6C493.0,105.3 493.8,105.0 494.6,104.6C495.3,104.1 496.0,103.3 496.7,102.9C497.5,102.6 498.2,102.5 498.9,102.4C499.6,102.3 500.3,102.0 501.1,102.4C501.8,102.8 502.7,103.3 503.2,104.6C503.8,105.8 503.9,108.9 504.3,110.0C504.7,111.1 505.0,111.4 505.4,111.1C505.7,110.7 506.0,109.1 506.5,107.8C506.9,106.5 507.5,104.9 508.1,103.5C508.6,102.0 509.2,99.3 509.7,99.2C510.1,99.0 510.4,100.6 510.8,102.4C511.1,104.2 511.4,108.0 511.9,110.0C512.3,112.0 512.9,113.0 513.5,114.3C514.0,115.6 514.6,116.8 515.1,117.5C515.6,118.3 516.2,119.0 516.7,118.6C517.3,118.3 517.8,116.3 518.3,115.4C518.9,114.5 519.4,113.8 520.0,113.2C520.5,112.6 521.1,112.1 521.6,111.6C522.0,111.1 522.3,109.7 522.7,110.0C523.0,110.2 523.4,112.0 523.7,113.2C524.1,114.5 524.4,115.7 524.8,117.5C525.3,119.3 525.9,122.4 526.4,124.0C527.0,125.6 527.5,126.5 528.1,127.3C528.6,128.0 529.4,128.2 529.7,128.3" fill="none" stroke="#1e8cff" stroke-width="1.4" stroke-linejoin="round"/>
<path d="M399.8,87.6C400.3,87.7 402.0,88.0 403.0,88.4C404.0,88.8 405.1,89.7 406.0,90.0C406.9,90.3 407.7,90.3 408.6,90.0C409.5,89.7 410.5,88.9 411.4,88.4C412.3,87.9 413.1,87.4 414.0,87.0C414.9,86.6 415.8,85.9 416.6,86.0C417.4,86.1 418.1,86.9 419.0,87.6C419.9,88.3 421.0,89.4 422.0,90.0C423.0,90.6 424.1,91.1 425.0,91.0C425.9,90.9 426.6,90.1 427.4,89.6C428.2,89.1 429.1,88.3 430.0,88.0C430.9,87.7 431.8,87.4 432.6,87.6C433.4,87.8 434.3,88.4 435.0,89.0C435.7,89.6 436.3,90.3 437.0,91.0C437.7,91.7 438.3,92.2 439.0,93.0C439.7,93.8 440.3,94.8 441.0,96.0C441.7,97.2 442.3,98.7 443.0,100.0C443.7,101.3 444.3,102.7 445.0,104.0C445.7,105.3 446.3,106.7 447.0,108.0C447.7,109.3 448.3,110.7 449.0,111.6C449.7,112.5 450.3,113.9 451.0,113.6C451.7,113.3 452.3,111.9 453.0,110.0C453.7,108.1 454.3,104.4 455.0,102.0C455.7,99.6 456.3,96.8 457.0,95.6C457.7,94.4 458.5,94.9 459.0,95.0C459.5,95.1 459.5,95.9 460.0,96.5C460.5,97.1 461.4,97.9 462.2,98.6C462.9,99.3 463.6,100.2 464.3,100.8C465.0,101.4 465.8,102.0 466.5,102.4C467.2,102.8 468.0,103.3 468.6,102.9C469.3,102.6 469.8,100.3 470.3,100.2C470.7,100.2 471.0,101.1 471.3,102.4C471.7,103.7 472.0,105.8 472.4,107.8C472.9,109.8 473.5,112.7 474.0,114.3C474.6,115.9 475.1,116.7 475.7,117.5C476.2,118.3 476.7,119.2 477.3,119.2C477.8,119.2 478.4,117.6 478.9,117.5C479.4,117.4 480.1,118.8 480.5,118.6C481.0,118.4 481.2,117.5 481.6,116.5C482.0,115.4 482.2,113.6 482.7,112.1C483.1,110.7 483.8,108.8 484.3,107.8C484.8,106.8 485.4,106.2 485.9,106.2C486.5,106.2 487.1,106.6 487.5,107.8C488.0,109.0 488.3,111.6 488.6,113.2C489.0,114.8 489.3,116.6 489.7,117.5C490.2,118.4 490.8,119.0 491.3,118.6C491.9,118.3 492.4,116.6 492.9,115.4C493.5,114.1 493.9,112.4 494.6,111.1C495.2,109.7 496.0,108.1 496.7,107.3C497.5,106.5 498.2,106.5 498.9,106.2C499.6,105.9 500.3,106.1 501.1,105.6C501.8,105.2 502.5,104.0 503.2,103.5C503.9,102.9 504.7,101.9 505.4,102.4C506.0,102.9 506.5,105.1 507.0,106.7C507.5,108.4 508.1,110.5 508.6,112.1C509.2,113.8 509.7,115.4 510.2,116.5C510.8,117.5 511.3,117.7 511.9,118.6C512.4,119.5 512.9,120.6 513.5,121.9C514.0,123.1 514.6,124.9 515.1,126.2C515.6,127.4 516.2,128.5 516.7,129.4C517.3,130.3 517.8,131.9 518.3,131.6C518.9,131.2 519.4,129.4 520.0,127.3C520.5,125.1 521.1,121.1 521.6,118.6C522.0,116.1 522.3,113.0 522.7,112.1C523.0,111.2 523.3,112.3 523.7,113.2C524.2,114.1 524.8,116.1 525.4,117.5C525.9,119.0 526.3,120.4 527.0,121.9C527.6,123.3 528.8,125.5 529.1,126.2" fill="none" stroke="#ff1e1e" stroke-width="1.4" stroke-linejoin="round"/>
</g>
<line x1="399.80" y1="44.30" x2="399.80" y2="36.30" stroke="#222" stroke-width="1"/>
<line x1="399.80" y1="155.80" x2="399.80" y2="163.80" stroke="#222" stroke-width="1"/>
<line x1="410.06" y1="44.30" x2="410.06" y2="39.80" stroke="#222" stroke-width="1"/>
<line x1="410.06" y1="155.80" x2="410.06" y2="160.30" stroke="#222" stroke-width="1"/>
<line x1="418.74" y1="44.30" x2="418.74" y2="39.80" stroke="#222" stroke-width="1"/>
<line x1="418.74" y1="155.80" x2="418.74" y2="160.30" stroke="#222" stroke-width="1"/>
<line x1="426.25" y1="44.30" x2="426.25" y2="39.80" stroke="#222" stroke-width="1"/>
<line x1="426.25" y1="155.80" x2="426.25" y2="160.30" stroke="#222" stroke-width="1"/>
<line x1="432.88" y1="44.30" x2="432.88" y2="39.80" stroke="#222" stroke-width="1"/>
<line x1="432.88" y1="155.80" x2="432.88" y2="160.30" stroke="#222" stroke-width="1"/>
<line x1="438.81" y1="44.30" x2="438.81" y2="36.30" stroke="#222" stroke-width="1"/>
<line x1="438.81" y1="155.80" x2="438.81" y2="163.80" stroke="#222" stroke-width="1"/>
<line x1="477.83" y1="44.30" x2="477.83" y2="36.30" stroke="#222" stroke-width="1"/>
<line x1="477.83" y1="155.80" x2="477.83" y2="163.80" stroke="#222" stroke-width="1"/>
<line x1="500.65" y1="44.30" x2="500.65" y2="39.80" stroke="#222" stroke-width="1"/>
<line x1="500.65" y1="155.80" x2="500.65" y2="160.30" stroke="#222" stroke-width="1"/>
<line x1="516.84" y1="44.30" x2="516.84" y2="39.80" stroke="#222" stroke-width="1"/>
<line x1="516.84" y1="155.80" x2="516.84" y2="160.30" stroke="#222" stroke-width="1"/>
<line x1="529.40" y1="44.30" x2="529.40" y2="36.30" stroke="#222" stroke-width="1"/>
<line x1="529.40" y1="155.80" x2="529.40" y2="163.80" stroke="#222" stroke-width="1"/>
<line x1="399.80" y1="44.30" x2="395.30" y2="44.30" stroke="#222" stroke-width="1"/>
<line x1="529.40" y1="44.30" x2="533.90" y2="44.30" stroke="#222" stroke-width="1"/>
<line x1="399.80" y1="57.20" x2="391.80" y2="57.20" stroke="#222" stroke-width="1"/>
<line x1="529.40" y1="57.20" x2="537.40" y2="57.20" stroke="#222" stroke-width="1"/>
<line x1="399.80" y1="70.10" x2="395.30" y2="70.10" stroke="#222" stroke-width="1"/>
<line x1="529.40" y1="70.10" x2="533.90" y2="70.10" stroke="#222" stroke-width="1"/>
<line x1="399.80" y1="87.15" x2="395.30" y2="87.15" stroke="#222" stroke-width="1"/>
<line x1="529.40" y1="87.15" x2="533.90" y2="87.15" stroke="#222" stroke-width="1"/>
<line x1="399.80" y1="100.05" x2="391.80" y2="100.05" stroke="#222" stroke-width="1"/>
<line x1="529.40" y1="100.05" x2="537.40" y2="100.05" stroke="#222" stroke-width="1"/>
<line x1="399.80" y1="112.95" x2="395.30" y2="112.95" stroke="#222" stroke-width="1"/>
<line x1="529.40" y1="112.95" x2="533.90" y2="112.95" stroke="#222" stroke-width="1"/>
<line x1="399.80" y1="130.00" x2="395.30" y2="130.00" stroke="#222" stroke-width="1"/>
<line x1="529.40" y1="130.00" x2="533.90" y2="130.00" stroke="#222" stroke-width="1"/>
<line x1="399.80" y1="142.90" x2="391.80" y2="142.90" stroke="#222" stroke-width="1"/>
<line x1="529.40" y1="142.90" x2="537.40" y2="142.90" stroke="#222" stroke-width="1"/>
<line x1="399.80" y1="155.80" x2="395.30" y2="155.80" stroke="#222" stroke-width="1"/>
<line x1="529.40" y1="155.80" x2="533.90" y2="155.80" stroke="#222" stroke-width="1"/>
<rect x="399.80" y="44.30" width="129.60" height="111.50" fill="none" stroke="#000" stroke-width="1.7"/>
<text x="399.80" y="174.80" text-anchor="middle" font-size="10">0.05</text>
<text x="438.81" y="174.80" text-anchor="middle" font-size="10">0.1</text>
<text x="477.83" y="174.80" text-anchor="middle" font-size="10">0.2</text>
<text x="529.40" y="174.80" text-anchor="middle" font-size="10">0.5</text>
<text x="464.60" y="187.80" text-anchor="middle" font-size="10.4">[Hz]</text>
<text x="387.80" y="60.70" text-anchor="end" font-size="9.7">10<tspan font-size="6.2" dy="-4.0" dx="0.4">1</tspan></text>
<text x="387.80" y="103.55" text-anchor="end" font-size="9.7">10<tspan font-size="6.2" dy="-4.0" dx="0.4">0</tspan></text>
<text x="387.80" y="146.40" text-anchor="end" font-size="9.7">10<tspan font-size="6.2" dy="-4.0" dx="0.4">−1</tspan></text>
<text x="57.2" y="49.60" text-anchor="end" font-size="14.4">HDKH02</text>
<line x1="64.80" y1="213.20" x2="194.40" y2="213.20" stroke="#a0a0a0" stroke-width="1.2"/>
<line x1="64.80" y1="256.05" x2="194.40" y2="256.05" stroke="#a0a0a0" stroke-width="1.2"/>
<line x1="64.80" y1="298.90" x2="194.40" y2="298.90" stroke="#a0a0a0" stroke-width="1.2"/>
<line x1="103.81" y1="200.30" x2="103.81" y2="311.80" stroke="#b4b4b4" stroke-width="1.3"/>
<clipPath id="cp10"><rect x="64.80" y="200.30" width="129.60" height="111.50"/></clipPath>
<g clip-path="url(#cp10)">
<path d="M64.8,253.0C65.2,252.2 66.2,249.6 67.0,248.0C67.8,246.4 68.8,244.7 69.6,243.4C70.4,242.1 71.2,240.8 72.0,240.0C72.8,239.2 73.7,238.7 74.4,238.6C75.1,238.5 75.7,238.8 76.4,239.4C77.1,240.0 77.7,240.7 78.4,242.0C79.1,243.3 79.8,245.1 80.4,247.0C81.0,248.9 81.5,251.2 82.0,253.4C82.5,255.6 83.0,257.7 83.6,260.0C84.2,262.3 84.9,265.2 85.6,267.0C86.3,268.8 87.1,270.1 88.0,270.6C88.9,271.1 90.0,270.3 91.0,270.0C92.0,269.7 93.0,269.2 94.0,269.0C95.0,268.8 96.1,268.8 97.0,269.0C97.9,269.2 98.8,269.7 99.6,270.0C100.4,270.3 100.9,270.7 101.6,271.0C102.3,271.3 102.9,271.7 103.6,272.0C104.3,272.3 104.9,273.8 105.6,273.0C106.3,272.2 107.0,269.7 107.6,267.0C108.2,264.3 108.8,258.7 109.2,257.0C109.6,255.3 109.5,257.0 110.0,256.7C110.5,256.5 111.4,255.1 112.2,255.6C112.9,256.2 113.6,258.2 114.3,260.0C115.0,261.8 115.8,264.5 116.5,266.5C117.2,268.4 117.9,270.6 118.6,271.9C119.4,273.1 120.1,273.8 120.8,274.0C121.5,274.2 122.2,272.9 123.0,272.9C123.7,272.9 124.4,273.7 125.1,274.0C125.8,274.4 126.6,274.7 127.3,275.1C128.0,275.5 128.7,275.6 129.4,276.2C130.2,276.7 131.0,277.7 131.6,278.3C132.2,279.0 132.6,280.3 133.2,280.0C133.9,279.6 134.6,277.9 135.4,276.2C136.2,274.5 137.3,271.5 138.1,269.7C138.9,267.9 139.5,266.5 140.2,265.4C141.0,264.3 141.7,263.4 142.4,263.2C143.1,263.0 143.8,263.6 144.6,264.3C145.3,265.0 146.0,266.6 146.7,267.5C147.5,268.4 148.2,270.1 148.9,269.7C149.6,269.3 150.3,267.2 151.1,265.4C151.8,263.6 152.7,261.1 153.2,258.9C153.8,256.7 153.8,252.8 154.3,252.4C154.7,252.0 155.3,254.9 155.9,256.7C156.5,258.5 157.4,261.6 158.1,263.2C158.8,264.8 159.5,265.4 160.2,266.5C161.0,267.5 161.7,269.0 162.4,269.7C163.1,270.4 163.8,271.5 164.6,270.8C165.3,270.1 166.0,266.8 166.7,265.4C167.4,263.9 168.1,262.9 168.9,262.1C169.7,261.4 170.8,262.1 171.6,261.1C172.4,260.0 173.1,257.8 173.7,255.6C174.4,253.5 174.8,250.2 175.4,248.1C175.9,245.9 176.3,243.5 177.0,242.7C177.6,241.9 178.4,242.5 179.1,243.2C179.9,243.9 180.5,245.8 181.3,247.0C182.1,248.2 183.5,249.1 184.0,250.2C184.5,251.4 183.9,253.2 184.4,254.0C184.9,254.8 186.1,254.7 187.0,255.0C187.9,255.3 188.8,256.3 189.6,256.0C190.4,255.7 191.2,253.8 192.0,253.0C192.8,252.2 194.0,251.3 194.4,251.0" fill="none" stroke="#111" stroke-width="1.2" stroke-linejoin="round" stroke-dasharray="3.5,2"/>
<path d="M64.8,247.0C65.2,246.2 66.2,243.6 67.0,242.0C67.8,240.4 68.8,238.7 69.6,237.4C70.4,236.1 71.2,234.8 72.0,234.0C72.8,233.2 73.7,232.7 74.4,232.6C75.1,232.5 75.7,232.8 76.4,233.4C77.1,234.0 77.7,234.7 78.4,236.0C79.1,237.3 79.8,239.1 80.4,241.0C81.0,242.9 81.5,245.2 82.0,247.4C82.5,249.6 83.0,251.7 83.6,254.0C84.2,256.3 84.9,259.2 85.6,261.0C86.3,262.8 87.1,264.1 88.0,264.6C88.9,265.1 90.0,264.3 91.0,264.0C92.0,263.7 93.0,263.2 94.0,263.0C95.0,262.8 96.1,262.8 97.0,263.0C97.9,263.2 98.8,263.7 99.6,264.0C100.4,264.3 100.9,264.7 101.6,265.0C102.3,265.3 102.9,265.7 103.6,266.0C104.3,266.3 104.9,267.8 105.6,267.0C106.3,266.2 107.0,263.7 107.6,261.0C108.2,258.3 108.8,253.9 109.2,251.0C109.6,248.1 109.5,245.2 110.0,243.8C110.5,242.3 111.4,241.8 112.2,242.1C112.9,242.5 113.6,244.8 114.3,245.9C115.0,247.1 115.8,248.3 116.5,249.2C117.2,250.1 117.9,250.8 118.6,251.3C119.4,251.9 120.1,252.2 120.8,252.4C121.5,252.6 121.9,252.0 123.0,252.4C124.0,252.8 125.8,253.8 127.3,254.6C128.7,255.3 130.3,256.0 131.6,256.7C132.9,257.5 133.9,259.4 134.8,258.9C135.8,258.4 136.7,255.6 137.5,253.5C138.4,251.3 139.0,247.6 139.7,245.9C140.4,244.2 141.1,243.6 141.9,243.2C142.6,242.9 143.2,243.1 144.0,243.8C144.8,244.4 145.9,245.6 146.7,247.0C147.5,248.4 148.2,252.2 148.9,252.4C149.6,252.6 150.4,250.1 151.1,248.1C151.7,246.1 152.2,242.9 152.7,240.5C153.1,238.2 153.3,234.4 153.8,234.0C154.2,233.7 154.7,236.4 155.4,238.4C156.0,240.3 156.8,243.9 157.5,245.9C158.3,247.9 159.0,248.8 159.7,250.2C160.4,251.7 161.1,253.3 161.9,254.6C162.6,255.8 163.3,258.4 164.0,257.8C164.7,257.3 165.5,253.1 166.2,251.3C166.9,249.5 167.6,248.1 168.3,247.0C169.1,245.9 169.8,245.7 170.5,244.8C171.2,243.9 172.0,243.6 172.7,241.6C173.3,239.6 173.7,235.5 174.3,233.0C174.8,230.4 175.3,228.1 175.9,226.5C176.5,224.9 177.3,223.4 178.1,223.2C178.8,223.1 179.6,224.3 180.2,225.4C180.8,226.5 181.2,228.5 181.8,229.7C182.5,231.0 183.6,232.6 184.0,233.0C184.4,233.3 183.9,232.0 184.4,232.0C184.9,232.0 186.1,232.7 187.0,233.0C187.9,233.3 188.8,234.0 189.6,234.0C190.4,234.0 191.2,233.3 192.0,233.0C192.8,232.7 194.0,232.2 194.4,232.0" fill="none" stroke="#111" stroke-width="1.2" stroke-linejoin="round" stroke-dasharray="3.5,2"/>
<path d="M64.8,250.0C65.2,249.2 66.2,246.6 67.0,245.0C67.8,243.4 68.8,241.7 69.6,240.4C70.4,239.1 71.2,237.8 72.0,237.0C72.8,236.2 73.7,235.7 74.4,235.6C75.1,235.5 75.7,235.8 76.4,236.4C77.1,237.0 77.7,237.7 78.4,239.0C79.1,240.3 79.8,242.1 80.4,244.0C81.0,245.9 81.5,248.2 82.0,250.4C82.5,252.6 83.0,254.7 83.6,257.0C84.2,259.3 84.9,262.2 85.6,264.0C86.3,265.8 87.1,267.1 88.0,267.6C88.9,268.1 90.0,267.3 91.0,267.0C92.0,266.7 93.0,266.2 94.0,266.0C95.0,265.8 96.1,265.8 97.0,266.0C97.9,266.2 98.8,266.7 99.6,267.0C100.4,267.3 100.9,267.7 101.6,268.0C102.3,268.3 102.9,268.7 103.6,269.0C104.3,269.3 104.9,270.8 105.6,270.0C106.3,269.2 107.0,266.7 107.6,264.0C108.2,261.3 108.8,256.1 109.2,254.0C109.6,251.9 109.6,252.0 110.0,251.3C110.4,250.6 111.1,249.3 111.6,249.7C112.2,250.1 112.6,252.0 113.2,253.5C113.9,255.0 114.7,257.5 115.4,258.9C116.1,260.3 116.8,261.4 117.6,262.1C118.3,262.9 119.0,263.2 119.7,263.2C120.4,263.2 121.2,262.6 121.9,262.1C122.6,261.7 123.3,260.6 124.0,260.5C124.8,260.4 125.5,261.1 126.2,261.6C126.9,262.0 127.6,262.4 128.4,263.2C129.1,264.0 129.8,265.4 130.5,266.5C131.2,267.5 132.1,269.0 132.7,269.7C133.3,270.4 133.8,271.0 134.3,270.8C134.8,270.6 135.3,269.9 135.9,268.6C136.6,267.4 137.4,265.0 138.1,263.2C138.8,261.4 139.5,259.3 140.2,257.8C141.0,256.4 141.7,255.2 142.4,254.6C143.1,253.9 143.8,253.7 144.6,254.0C145.3,254.4 146.0,255.6 146.7,256.7C147.5,257.9 148.3,260.2 148.9,261.1C149.5,261.9 150.0,262.5 150.5,261.6C151.1,260.7 151.7,258.1 152.1,255.6C152.6,253.2 152.9,249.2 153.2,247.0C153.5,244.8 153.5,243.0 153.8,242.7C154.0,242.3 154.4,243.6 154.8,244.8C155.3,246.1 155.8,248.6 156.5,250.2C157.1,251.9 157.9,253.3 158.6,254.6C159.3,255.8 160.1,256.5 160.8,257.8C161.5,259.1 162.4,261.1 162.9,262.1C163.5,263.2 163.6,264.5 164.0,264.3C164.5,264.1 165.1,262.3 165.6,261.1C166.2,259.8 166.6,258.0 167.3,256.7C167.9,255.5 168.7,254.2 169.4,253.5C170.1,252.8 170.9,252.8 171.6,252.4C172.2,252.0 172.7,252.6 173.2,251.3C173.7,250.1 174.3,247.4 174.8,244.8C175.4,242.3 175.9,238.1 176.4,236.2C177.0,234.3 177.5,233.7 178.1,233.5C178.6,233.3 179.1,234.3 179.7,235.1C180.2,235.9 180.7,237.5 181.3,238.4C181.9,239.3 183.3,240.6 183.5,240.5C183.6,240.5 181.8,237.9 182.0,238.0C182.2,238.1 183.6,240.3 184.4,241.0C185.2,241.7 186.1,241.3 187.0,242.0C187.9,242.7 188.8,244.7 189.6,245.0C190.4,245.3 191.2,244.3 192.0,244.0C192.8,243.7 194.0,243.2 194.4,243.0" fill="none" stroke="#000" stroke-width="1.5" stroke-linejoin="round"/>
<path d="M64.8,251.0C65.2,250.3 66.2,248.3 67.0,247.0C67.8,245.7 68.8,244.3 69.6,243.0C70.4,241.7 71.2,239.9 72.0,239.0C72.8,238.1 73.7,237.8 74.4,237.6C75.1,237.4 75.7,237.6 76.4,238.0C77.1,238.4 77.7,238.8 78.4,240.0C79.1,241.2 79.8,243.0 80.4,245.0C81.0,247.0 81.5,249.2 82.0,252.0C82.5,254.8 83.1,259.3 83.6,262.0C84.1,264.7 84.4,266.6 85.0,268.0C85.6,269.4 86.3,270.1 87.0,270.4C87.7,270.7 88.2,270.2 89.0,270.0C89.8,269.8 91.0,269.3 92.0,269.0C93.0,268.7 94.0,268.3 95.0,268.4C96.0,268.5 97.0,268.8 98.0,269.6C99.0,270.4 100.2,271.6 101.0,273.0C101.8,274.4 102.3,276.2 103.0,278.0C103.7,279.8 104.3,282.4 105.0,284.0C105.7,285.6 106.3,287.3 107.0,287.6C107.7,287.9 108.5,286.8 109.0,286.0C109.5,285.2 109.6,283.6 110.0,282.7C110.4,281.7 111.1,280.7 111.6,280.5C112.2,280.3 112.6,282.5 113.2,281.6C113.9,280.7 114.7,277.8 115.4,275.1C116.1,272.4 116.8,268.1 117.6,265.4C118.3,262.7 119.0,261.1 119.7,258.9C120.4,256.7 121.3,254.0 121.9,252.4C122.5,250.8 123.1,249.9 123.5,249.2C124.0,248.4 124.1,247.7 124.6,248.1C125.0,248.4 125.6,250.2 126.2,251.3C126.8,252.4 127.6,253.8 128.4,254.6C129.1,255.4 129.8,255.6 130.5,256.2C131.2,256.7 132.0,257.4 132.7,257.8C133.4,258.3 134.1,258.8 134.8,258.9C135.6,259.0 136.3,258.2 137.0,258.4C137.7,258.5 138.5,258.6 139.2,260.0C139.8,261.3 140.2,264.1 140.8,266.5C141.3,268.8 141.9,271.5 142.4,274.0C142.9,276.5 143.6,279.8 144.0,281.6C144.5,283.4 144.7,284.8 145.1,284.8C145.5,284.8 145.7,283.4 146.2,281.6C146.6,279.8 147.2,276.0 147.8,274.0C148.4,272.0 149.3,271.1 150.0,269.7C150.7,268.3 151.5,266.6 152.1,265.4C152.8,264.1 153.2,262.1 153.8,262.1C154.3,262.1 154.8,263.6 155.4,265.4C155.9,267.2 156.5,271.0 157.0,272.9C157.4,274.9 157.7,276.9 158.1,277.3C158.4,277.6 158.7,276.5 159.2,275.1C159.6,273.7 160.2,270.8 160.8,268.6C161.3,266.5 161.9,264.1 162.4,262.1C162.9,260.2 163.4,258.9 164.0,256.7C164.6,254.6 165.5,251.0 166.2,249.2C166.9,247.4 167.7,246.4 168.3,245.9C169.0,245.5 169.4,245.7 170.0,246.5C170.5,247.2 170.9,249.1 171.6,250.2C172.2,251.4 173.0,252.4 173.7,253.5C174.5,254.6 175.3,255.6 175.9,256.7C176.5,257.8 177.0,259.3 177.5,260.0C178.1,260.7 178.5,261.1 179.1,261.1C179.8,261.1 180.6,260.2 181.3,260.0C182.0,259.8 183.0,259.1 183.5,260.0C183.9,260.8 183.6,263.0 184.0,265.0C184.4,267.0 185.3,269.8 186.0,272.0C186.7,274.2 187.3,276.7 188.0,278.0C188.7,279.3 189.3,280.2 190.0,280.0C190.7,279.8 191.3,277.7 192.0,277.0C192.7,276.3 194.0,276.2 194.4,276.0" fill="none" stroke="#1e8cff" stroke-width="1.4" stroke-linejoin="round"/>
<path d="M64.8,250.4C65.2,249.5 66.2,246.7 67.0,245.0C67.8,243.3 68.8,241.3 69.6,240.0C70.4,238.7 71.2,237.7 72.0,237.0C72.8,236.3 73.7,236.1 74.4,236.0C75.1,235.9 75.7,236.1 76.4,236.4C77.1,236.7 77.7,237.0 78.4,238.0C79.1,239.0 79.8,240.6 80.4,242.4C81.0,244.2 81.5,246.4 82.0,249.0C82.5,251.6 83.0,255.0 83.6,258.0C84.2,261.0 84.9,264.7 85.6,267.0C86.3,269.3 87.1,270.9 88.0,272.0C88.9,273.1 90.0,273.5 91.0,273.6C92.0,273.7 93.0,272.8 94.0,272.4C95.0,272.0 96.1,271.1 97.0,271.0C97.9,270.9 98.8,271.2 99.6,272.0C100.4,272.8 100.9,274.3 101.6,276.0C102.3,277.7 102.9,280.3 103.6,282.0C104.3,283.7 105.0,285.8 105.6,286.0C106.2,286.2 106.5,285.0 107.0,283.0C107.5,281.0 107.9,277.7 108.4,274.0C108.9,270.3 109.4,263.7 110.0,261.1C110.6,258.4 111.5,257.8 112.2,257.8C112.8,257.8 113.2,260.2 113.8,261.1C114.4,262.0 115.2,262.7 115.9,263.2C116.7,263.8 117.4,263.9 118.1,264.3C118.8,264.7 119.6,265.6 120.3,265.4C120.9,265.2 121.3,263.9 121.9,263.2C122.5,262.5 123.3,261.2 124.0,261.1C124.8,260.9 125.5,261.6 126.2,262.1C126.9,262.7 127.6,263.6 128.4,264.3C129.1,265.0 129.8,265.2 130.5,266.5C131.2,267.7 132.0,270.2 132.7,271.9C133.4,273.5 134.1,275.8 134.8,276.2C135.6,276.5 136.3,274.9 137.0,274.0C137.7,273.1 138.4,271.7 139.2,270.8C139.9,269.9 140.6,269.2 141.3,268.6C142.0,268.1 142.8,267.5 143.5,267.5C144.2,267.5 144.9,268.8 145.6,268.6C146.4,268.4 147.1,267.2 147.8,266.5C148.5,265.7 149.3,265.4 150.0,264.3C150.7,263.2 151.5,262.0 152.1,260.0C152.8,258.0 153.3,253.7 153.8,252.4C154.2,251.1 154.4,251.3 154.8,252.4C155.3,253.5 155.8,256.7 156.5,258.9C157.1,261.1 157.9,263.9 158.6,265.4C159.3,266.8 160.1,266.5 160.8,267.5C161.5,268.6 162.3,270.8 162.9,271.9C163.6,272.9 164.0,274.2 164.6,274.0C165.1,273.8 165.5,271.5 166.2,270.8C166.8,270.1 167.7,269.5 168.3,269.7C169.0,269.9 169.3,270.8 170.0,271.9C170.6,272.9 171.5,275.6 172.1,276.2C172.7,276.7 173.2,276.9 173.7,275.1C174.3,273.3 174.8,268.4 175.4,265.4C175.9,262.3 176.4,258.5 177.0,256.7C177.5,254.9 178.1,254.6 178.6,254.6C179.1,254.6 179.7,255.5 180.2,256.7C180.8,258.0 181.3,259.6 181.8,262.1C182.4,264.7 183.0,269.4 183.6,272.0C184.2,274.6 185.0,276.5 185.6,278.0C186.2,279.5 186.4,280.8 187.0,281.0C187.6,281.2 188.2,280.2 189.0,279.0C189.8,277.8 190.9,275.5 191.6,274.0C192.3,272.5 192.5,272.0 193.0,270.0C193.5,268.0 194.2,263.3 194.4,262.0" fill="none" stroke="#ff1e1e" stroke-width="1.4" stroke-linejoin="round"/>
</g>
<line x1="64.80" y1="200.30" x2="64.80" y2="192.30" stroke="#222" stroke-width="1"/>
<line x1="64.80" y1="311.80" x2="64.80" y2="319.80" stroke="#222" stroke-width="1"/>
<line x1="75.06" y1="200.30" x2="75.06" y2="195.80" stroke="#222" stroke-width="1"/>
<line x1="75.06" y1="311.80" x2="75.06" y2="316.30" stroke="#222" stroke-width="1"/>
<line x1="83.74" y1="200.30" x2="83.74" y2="195.80" stroke="#222" stroke-width="1"/>
<line x1="83.74" y1="311.80" x2="83.74" y2="316.30" stroke="#222" stroke-width="1"/>
<line x1="91.25" y1="200.30" x2="91.25" y2="195.80" stroke="#222" stroke-width="1"/>
<line x1="91.25" y1="311.80" x2="91.25" y2="316.30" stroke="#222" stroke-width="1"/>
<line x1="97.88" y1="200.30" x2="97.88" y2="195.80" stroke="#222" stroke-width="1"/>
<line x1="97.88" y1="311.80" x2="97.88" y2="316.30" stroke="#222" stroke-width="1"/>
<line x1="103.81" y1="200.30" x2="103.81" y2="192.30" stroke="#222" stroke-width="1"/>
<line x1="103.81" y1="311.80" x2="103.81" y2="319.80" stroke="#222" stroke-width="1"/>
<line x1="142.83" y1="200.30" x2="142.83" y2="192.30" stroke="#222" stroke-width="1"/>
<line x1="142.83" y1="311.80" x2="142.83" y2="319.80" stroke="#222" stroke-width="1"/>
<line x1="165.65" y1="200.30" x2="165.65" y2="195.80" stroke="#222" stroke-width="1"/>
<line x1="165.65" y1="311.80" x2="165.65" y2="316.30" stroke="#222" stroke-width="1"/>
<line x1="181.84" y1="200.30" x2="181.84" y2="195.80" stroke="#222" stroke-width="1"/>
<line x1="181.84" y1="311.80" x2="181.84" y2="316.30" stroke="#222" stroke-width="1"/>
<line x1="194.40" y1="200.30" x2="194.40" y2="192.30" stroke="#222" stroke-width="1"/>
<line x1="194.40" y1="311.80" x2="194.40" y2="319.80" stroke="#222" stroke-width="1"/>
<line x1="64.80" y1="200.30" x2="60.30" y2="200.30" stroke="#222" stroke-width="1"/>
<line x1="194.40" y1="200.30" x2="198.90" y2="200.30" stroke="#222" stroke-width="1"/>
<line x1="64.80" y1="213.20" x2="56.80" y2="213.20" stroke="#222" stroke-width="1"/>
<line x1="194.40" y1="213.20" x2="202.40" y2="213.20" stroke="#222" stroke-width="1"/>
<line x1="64.80" y1="226.10" x2="60.30" y2="226.10" stroke="#222" stroke-width="1"/>
<line x1="194.40" y1="226.10" x2="198.90" y2="226.10" stroke="#222" stroke-width="1"/>
<line x1="64.80" y1="243.15" x2="60.30" y2="243.15" stroke="#222" stroke-width="1"/>
<line x1="194.40" y1="243.15" x2="198.90" y2="243.15" stroke="#222" stroke-width="1"/>
<line x1="64.80" y1="256.05" x2="56.80" y2="256.05" stroke="#222" stroke-width="1"/>
<line x1="194.40" y1="256.05" x2="202.40" y2="256.05" stroke="#222" stroke-width="1"/>
<line x1="64.80" y1="268.95" x2="60.30" y2="268.95" stroke="#222" stroke-width="1"/>
<line x1="194.40" y1="268.95" x2="198.90" y2="268.95" stroke="#222" stroke-width="1"/>
<line x1="64.80" y1="286.00" x2="60.30" y2="286.00" stroke="#222" stroke-width="1"/>
<line x1="194.40" y1="286.00" x2="198.90" y2="286.00" stroke="#222" stroke-width="1"/>
<line x1="64.80" y1="298.90" x2="56.80" y2="298.90" stroke="#222" stroke-width="1"/>
<line x1="194.40" y1="298.90" x2="202.40" y2="298.90" stroke="#222" stroke-width="1"/>
<line x1="64.80" y1="311.80" x2="60.30" y2="311.80" stroke="#222" stroke-width="1"/>
<line x1="194.40" y1="311.80" x2="198.90" y2="311.80" stroke="#222" stroke-width="1"/>
<rect x="64.80" y="200.30" width="129.60" height="111.50" fill="none" stroke="#000" stroke-width="1.7"/>
<text x="64.80" y="330.80" text-anchor="middle" font-size="10">0.05</text>
<text x="103.81" y="330.80" text-anchor="middle" font-size="10">0.1</text>
<text x="142.83" y="330.80" text-anchor="middle" font-size="10">0.2</text>
<text x="194.40" y="330.80" text-anchor="middle" font-size="10">0.5</text>
<text x="129.60" y="343.80" text-anchor="middle" font-size="10.4">[Hz]</text>
<text x="52.80" y="216.70" text-anchor="end" font-size="9.7">10<tspan font-size="6.2" dy="-4.0" dx="0.4">1</tspan></text>
<text x="52.80" y="259.55" text-anchor="end" font-size="9.7">10<tspan font-size="6.2" dy="-4.0" dx="0.4">0</tspan></text>
<text x="52.80" y="302.40" text-anchor="end" font-size="9.7">10<tspan font-size="6.2" dy="-4.0" dx="0.4">−1</tspan></text>
<text transform="translate(28.6,256.35) rotate(-90)" text-anchor="middle" font-size="10.4">Spcetral ratio</text>
<line x1="232.30" y1="213.20" x2="361.90" y2="213.20" stroke="#a0a0a0" stroke-width="1.2"/>
<line x1="232.30" y1="256.05" x2="361.90" y2="256.05" stroke="#a0a0a0" stroke-width="1.2"/>
<line x1="232.30" y1="298.90" x2="361.90" y2="298.90" stroke="#a0a0a0" stroke-width="1.2"/>
<line x1="271.31" y1="200.30" x2="271.31" y2="311.80" stroke="#b4b4b4" stroke-width="1.3"/>
<clipPath id="cp11"><rect x="232.30" y="200.30" width="129.60" height="111.50"/></clipPath>
<g clip-path="url(#cp11)">
<path d="M232.2,265.0C233.0,264.4 235.5,262.8 237.0,261.6C238.5,260.4 239.7,259.2 241.0,258.0C242.3,256.8 243.7,255.5 245.0,254.4C246.3,253.3 247.7,251.8 249.0,251.6C250.3,251.4 251.7,252.7 253.0,253.0C254.3,253.3 255.5,253.9 257.0,253.6C258.5,253.3 260.3,250.8 262.0,251.0C263.7,251.2 265.5,254.2 267.0,255.0C268.5,255.8 269.5,255.8 271.0,256.0C272.5,256.2 274.5,255.9 276.0,256.4C277.5,256.9 278.7,258.6 280.0,259.0C281.3,259.4 282.8,258.3 284.0,259.0C285.2,259.7 285.8,262.2 287.0,263.0C288.2,263.8 289.7,263.8 291.0,264.0C292.3,264.2 293.8,265.2 295.0,264.4C296.2,263.6 297.0,260.7 298.0,259.0C299.0,257.3 299.9,255.7 301.0,254.4C302.1,253.1 303.4,250.7 304.6,251.0C305.8,251.3 306.9,253.8 308.0,256.0C309.1,258.2 310.0,261.0 311.0,264.0C312.0,267.0 313.0,270.7 314.0,274.0C315.0,277.3 316.0,281.3 317.0,284.0C318.0,286.7 319.0,290.1 320.0,290.4C321.0,290.7 322.0,287.5 323.0,286.0C324.0,284.5 324.8,282.6 326.0,281.6C327.2,280.6 328.8,280.4 330.0,280.0C331.2,279.6 331.8,279.3 333.0,279.0C334.2,278.7 335.7,278.5 337.0,278.0C338.3,277.5 339.8,277.2 341.0,276.0C342.2,274.8 343.0,273.7 344.0,271.0C345.0,268.3 346.0,262.5 347.0,260.0C348.0,257.5 349.0,256.3 350.0,256.0C351.0,255.7 352.0,257.3 353.0,258.0C354.0,258.7 355.0,259.3 356.0,260.0C357.0,260.7 358.1,262.3 359.0,262.0C359.9,261.7 361.0,258.7 361.4,258.0" fill="none" stroke="#111" stroke-width="1.2" stroke-linejoin="round" stroke-dasharray="3.5,2"/>
<path d="M232.2,256.0C233.0,255.3 235.5,253.2 237.0,252.0C238.5,250.8 239.7,250.1 241.0,249.0C242.3,247.9 243.7,246.6 245.0,245.6C246.3,244.6 247.7,243.3 249.0,243.0C250.3,242.7 251.7,243.5 253.0,243.6C254.3,243.7 255.5,244.0 257.0,243.6C258.5,243.2 260.3,241.2 262.0,241.0C263.7,240.8 265.3,242.2 267.0,242.4C268.7,242.6 270.5,241.6 272.0,242.0C273.5,242.4 274.5,244.5 276.0,245.0C277.5,245.5 279.5,244.8 281.0,245.0C282.5,245.2 283.7,245.7 285.0,246.0C286.3,246.3 287.7,247.0 289.0,247.0C290.3,247.0 291.8,246.2 293.0,246.0C294.2,245.8 295.0,247.0 296.0,246.0C297.0,245.0 298.0,242.2 299.0,240.0C300.0,237.8 301.0,234.8 302.0,233.0C303.0,231.2 304.1,229.0 305.0,229.0C305.9,229.0 306.7,231.0 307.4,233.0C308.1,235.0 308.6,237.8 309.4,241.0C310.2,244.2 311.1,248.5 312.0,252.0C312.9,255.5 314.0,259.5 315.0,262.0C316.0,264.5 317.0,266.3 318.0,267.0C319.0,267.7 320.0,266.3 321.0,266.0C322.0,265.7 322.8,265.3 324.0,265.0C325.2,264.7 326.5,264.8 328.0,264.0C329.5,263.2 331.5,260.5 333.0,260.0C334.5,259.5 335.7,261.3 337.0,261.0C338.3,260.7 339.8,259.7 341.0,258.0C342.2,256.3 343.0,253.8 344.0,251.0C345.0,248.2 346.2,243.2 347.0,241.0C347.8,238.8 348.3,238.3 349.0,238.0C349.7,237.7 350.6,238.5 351.4,239.0C352.2,239.5 353.1,240.0 354.0,241.0C354.9,242.0 356.2,244.2 357.0,245.0C357.8,245.8 358.3,247.2 359.0,246.0C359.7,244.8 361.0,239.3 361.4,238.0" fill="none" stroke="#111" stroke-width="1.2" stroke-linejoin="round" stroke-dasharray="3.5,2"/>
<path d="M232.2,259.0C232.7,258.8 234.0,258.3 235.0,257.6C236.0,256.9 237.1,255.9 238.0,255.0C238.9,254.1 239.8,253.2 240.6,252.4C241.4,251.6 242.1,251.2 243.0,250.4C243.9,249.6 245.1,248.3 246.0,247.6C246.9,246.9 247.8,246.1 248.6,246.0C249.4,245.9 250.1,246.4 251.0,247.0C251.9,247.6 253.1,249.3 254.0,249.6C254.9,249.9 255.8,249.4 256.6,249.0C257.4,248.6 258.2,247.8 259.0,247.0C259.8,246.2 260.7,245.0 261.4,244.4C262.1,243.8 262.7,243.3 263.4,243.6C264.1,243.9 264.6,244.9 265.4,246.0C266.2,247.1 267.2,249.5 268.0,250.4C268.8,251.3 269.3,251.7 270.0,251.6C270.7,251.5 271.3,250.3 272.0,249.6C272.7,248.9 273.3,247.5 274.0,247.6C274.7,247.7 275.3,249.3 276.0,250.4C276.7,251.5 277.3,253.5 278.0,254.0C278.7,254.5 279.3,254.2 280.0,253.6C280.7,253.0 281.3,250.9 282.0,250.4C282.7,249.9 283.3,250.0 284.0,250.4C284.7,250.8 285.2,252.3 286.0,253.0C286.8,253.7 287.8,254.4 288.6,254.4C289.4,254.4 290.2,253.7 291.0,253.0C291.8,252.3 292.6,250.6 293.4,250.4C294.2,250.2 295.2,251.7 296.0,251.6C296.8,251.5 297.3,250.9 298.0,250.0C298.7,249.1 299.2,247.3 300.0,246.0C300.8,244.7 301.8,243.4 302.6,242.4C303.4,241.4 304.3,240.0 305.0,240.0C305.7,240.0 306.3,240.8 307.0,242.4C307.7,244.0 308.3,247.0 309.0,249.6C309.7,252.2 310.3,255.6 311.0,258.0C311.7,260.4 312.3,262.0 313.0,264.0C313.7,266.0 314.3,268.2 315.0,270.0C315.7,271.8 316.3,274.0 317.0,275.0C317.7,276.0 318.6,276.2 319.4,276.0C320.2,275.8 321.1,274.3 322.0,273.6C322.9,272.9 323.8,271.7 324.6,271.6C325.4,271.5 326.3,272.9 327.0,273.0C327.7,273.1 328.3,272.9 329.0,272.4C329.7,271.9 330.3,271.1 331.0,270.0C331.7,268.9 332.3,266.9 333.0,266.0C333.7,265.1 334.3,264.2 335.0,264.4C335.7,264.6 336.6,266.7 337.4,267.0C338.2,267.3 339.2,266.8 340.0,266.0C340.8,265.2 341.3,263.7 342.0,262.4C342.7,261.1 343.3,259.7 344.0,258.0C344.7,256.3 345.3,253.8 346.0,252.0C346.7,250.2 347.3,248.1 348.0,247.0C348.7,245.9 349.3,245.4 350.0,245.6C350.7,245.8 351.3,247.2 352.0,248.4C352.7,249.6 353.3,251.9 354.0,253.0C354.7,254.1 355.3,254.6 356.0,255.0C356.7,255.4 357.3,255.9 358.0,255.6C358.7,255.3 359.4,254.4 360.0,253.0C360.6,251.6 361.2,248.0 361.4,247.0" fill="none" stroke="#000" stroke-width="1.5" stroke-linejoin="round"/>
<path d="M232.2,249.0C232.7,249.2 234.0,249.8 235.0,250.4C236.0,251.0 237.1,251.9 238.0,252.4C238.9,252.9 239.8,253.6 240.6,253.6C241.4,253.6 242.1,252.9 243.0,252.4C243.9,251.9 245.0,250.9 246.0,250.4C247.0,249.9 248.1,249.5 249.0,249.6C249.9,249.7 250.6,250.4 251.4,251.0C252.2,251.6 253.1,252.4 254.0,253.0C254.9,253.6 256.1,253.9 257.0,254.4C257.9,254.9 258.6,255.4 259.4,256.0C260.2,256.6 261.2,256.7 262.0,258.0C262.8,259.3 263.3,261.7 264.0,264.0C264.7,266.3 265.3,269.5 266.0,272.0C266.7,274.5 267.4,277.4 268.0,279.0C268.6,280.6 269.1,282.1 269.6,281.6C270.1,281.1 270.5,279.3 271.0,276.0C271.5,272.7 272.0,266.0 272.6,262.0C273.2,258.0 273.9,253.9 274.6,252.0C275.3,250.1 275.9,250.4 276.6,250.4C277.3,250.4 277.9,251.5 278.6,252.0C279.3,252.5 279.9,253.2 280.6,253.6C281.3,254.0 282.2,253.9 283.0,254.4C283.8,254.9 284.7,256.1 285.4,256.4C286.1,256.7 286.8,257.4 287.4,256.0C288.0,254.6 288.4,250.3 289.0,248.0C289.6,245.7 290.3,243.3 291.0,242.0C291.7,240.7 292.2,240.7 293.0,240.4C293.8,240.1 295.2,240.0 296.0,240.0C296.8,240.0 297.4,239.9 298.0,240.4C298.6,240.9 298.9,241.4 299.4,243.0C299.9,244.6 300.5,247.5 301.0,250.0C301.5,252.5 302.1,256.0 302.6,258.0C303.1,260.0 303.5,262.5 304.0,262.0C304.5,261.5 305.0,257.2 305.4,255.0C305.8,252.8 306.2,249.5 306.6,249.0C307.0,248.5 307.5,250.5 308.0,252.0C308.5,253.5 308.9,256.6 309.4,258.0C309.9,259.4 310.4,259.9 311.0,260.4C311.6,260.9 312.3,261.0 313.0,261.0C313.7,261.0 314.6,260.6 315.4,260.4C316.2,260.2 317.1,260.2 318.0,260.0C318.9,259.8 319.8,259.3 320.6,259.0C321.4,258.7 322.2,258.3 323.0,258.0C323.8,257.7 324.6,257.3 325.4,257.0C326.2,256.7 327.2,256.6 328.0,256.4C328.8,256.2 329.3,256.4 330.0,256.0C330.7,255.6 331.4,254.2 332.0,254.0C332.6,253.8 332.9,254.3 333.4,255.0C333.9,255.7 334.4,257.1 335.0,258.0C335.6,258.9 336.3,259.9 337.0,260.4C337.7,260.9 338.3,261.1 339.0,261.0C339.7,260.9 340.3,260.3 341.0,260.0C341.7,259.7 342.3,259.2 343.0,259.0C343.7,258.8 344.3,259.3 345.0,259.0C345.7,258.7 346.3,257.5 347.0,257.0C347.7,256.5 348.3,256.1 349.0,256.0C349.7,255.9 350.3,255.7 351.0,256.4C351.7,257.1 352.3,258.7 353.0,260.0C353.7,261.3 354.3,262.7 355.0,264.0C355.7,265.3 356.3,266.9 357.0,267.6C357.7,268.3 358.3,268.5 359.0,268.4C359.7,268.3 360.7,267.2 361.0,267.0" fill="none" stroke="#1e8cff" stroke-width="1.4" stroke-linejoin="round"/>
<path d="M232.2,257.0C232.7,256.7 234.0,255.8 235.0,255.0C236.0,254.2 237.1,253.2 238.0,252.4C238.9,251.6 239.8,250.9 240.6,250.0C241.4,249.1 242.1,248.1 243.0,247.0C243.9,245.9 245.1,244.4 246.0,243.6C246.9,242.8 247.8,242.1 248.6,242.0C249.4,241.9 250.1,242.5 251.0,243.0C251.9,243.5 253.1,244.8 254.0,245.0C254.9,245.2 255.8,244.6 256.6,244.0C257.4,243.4 258.2,242.4 259.0,241.6C259.8,240.8 260.7,239.7 261.4,239.0C262.1,238.3 262.8,237.4 263.4,237.6C264.0,237.8 264.4,238.8 265.0,240.0C265.6,241.2 266.3,243.7 267.0,245.0C267.7,246.3 268.3,247.8 269.0,248.0C269.7,248.2 270.3,246.7 271.0,246.0C271.7,245.3 272.3,243.8 273.0,244.0C273.7,244.2 274.3,245.9 275.0,247.0C275.7,248.1 276.3,250.2 277.0,250.4C277.7,250.6 278.3,248.8 279.0,248.0C279.7,247.2 280.7,245.9 281.4,245.6C282.1,245.3 282.7,245.8 283.4,246.0C284.1,246.2 284.6,247.3 285.4,247.0C286.2,246.7 287.1,245.1 288.0,244.4C288.9,243.7 289.8,242.9 290.6,243.0C291.4,243.1 291.9,244.2 292.6,245.0C293.3,245.8 293.9,247.8 294.6,248.0C295.3,248.2 296.2,247.4 297.0,246.4C297.8,245.4 298.6,243.1 299.4,242.0C300.2,240.9 301.1,240.1 302.0,239.6C302.9,239.1 303.8,238.6 304.6,239.0C305.4,239.4 305.9,240.5 306.6,242.0C307.3,243.5 307.9,245.7 308.6,248.0C309.3,250.3 309.9,253.3 310.6,256.0C311.3,258.7 311.9,261.2 312.6,264.0C313.3,266.8 313.9,270.3 314.6,273.0C315.3,275.7 316.1,278.7 317.0,280.0C317.9,281.3 319.1,280.7 320.0,281.0C320.9,281.3 321.8,281.6 322.6,282.0C323.4,282.4 324.3,283.2 325.0,283.6C325.7,284.0 326.3,284.6 327.0,284.4C327.7,284.2 328.3,283.0 329.0,282.4C329.7,281.8 330.3,281.9 331.0,281.0C331.7,280.1 332.3,278.2 333.0,277.0C333.7,275.8 334.3,274.3 335.0,274.0C335.7,273.7 336.3,274.4 337.0,275.0C337.7,275.6 338.3,277.6 339.0,277.6C339.7,277.6 340.3,275.9 341.0,275.0C341.7,274.1 342.3,273.0 343.0,272.0C343.7,271.0 344.3,269.7 345.0,269.0C345.7,268.3 346.3,268.2 347.0,268.0C347.7,267.8 348.3,267.3 349.0,267.6C349.7,267.9 350.3,268.8 351.0,270.0C351.7,271.2 352.4,273.5 353.0,275.0C353.6,276.5 354.1,278.6 354.6,279.0C355.1,279.4 355.5,278.6 356.0,277.6C356.5,276.6 356.9,274.3 357.4,273.0C357.9,271.7 358.4,271.5 359.0,270.0C359.6,268.5 360.7,265.0 361.0,264.0" fill="none" stroke="#ff1e1e" stroke-width="1.4" stroke-linejoin="round"/>
</g>
<line x1="232.30" y1="200.30" x2="232.30" y2="192.30" stroke="#222" stroke-width="1"/>
<line x1="232.30" y1="311.80" x2="232.30" y2="319.80" stroke="#222" stroke-width="1"/>
<line x1="242.56" y1="200.30" x2="242.56" y2="195.80" stroke="#222" stroke-width="1"/>
<line x1="242.56" y1="311.80" x2="242.56" y2="316.30" stroke="#222" stroke-width="1"/>
<line x1="251.24" y1="200.30" x2="251.24" y2="195.80" stroke="#222" stroke-width="1"/>
<line x1="251.24" y1="311.80" x2="251.24" y2="316.30" stroke="#222" stroke-width="1"/>
<line x1="258.75" y1="200.30" x2="258.75" y2="195.80" stroke="#222" stroke-width="1"/>
<line x1="258.75" y1="311.80" x2="258.75" y2="316.30" stroke="#222" stroke-width="1"/>
<line x1="265.38" y1="200.30" x2="265.38" y2="195.80" stroke="#222" stroke-width="1"/>
<line x1="265.38" y1="311.80" x2="265.38" y2="316.30" stroke="#222" stroke-width="1"/>
<line x1="271.31" y1="200.30" x2="271.31" y2="192.30" stroke="#222" stroke-width="1"/>
<line x1="271.31" y1="311.80" x2="271.31" y2="319.80" stroke="#222" stroke-width="1"/>
<line x1="310.33" y1="200.30" x2="310.33" y2="192.30" stroke="#222" stroke-width="1"/>
<line x1="310.33" y1="311.80" x2="310.33" y2="319.80" stroke="#222" stroke-width="1"/>
<line x1="333.15" y1="200.30" x2="333.15" y2="195.80" stroke="#222" stroke-width="1"/>
<line x1="333.15" y1="311.80" x2="333.15" y2="316.30" stroke="#222" stroke-width="1"/>
<line x1="349.34" y1="200.30" x2="349.34" y2="195.80" stroke="#222" stroke-width="1"/>
<line x1="349.34" y1="311.80" x2="349.34" y2="316.30" stroke="#222" stroke-width="1"/>
<line x1="361.90" y1="200.30" x2="361.90" y2="192.30" stroke="#222" stroke-width="1"/>
<line x1="361.90" y1="311.80" x2="361.90" y2="319.80" stroke="#222" stroke-width="1"/>
<line x1="232.30" y1="200.30" x2="227.80" y2="200.30" stroke="#222" stroke-width="1"/>
<line x1="361.90" y1="200.30" x2="366.40" y2="200.30" stroke="#222" stroke-width="1"/>
<line x1="232.30" y1="213.20" x2="224.30" y2="213.20" stroke="#222" stroke-width="1"/>
<line x1="361.90" y1="213.20" x2="369.90" y2="213.20" stroke="#222" stroke-width="1"/>
<line x1="232.30" y1="226.10" x2="227.80" y2="226.10" stroke="#222" stroke-width="1"/>
<line x1="361.90" y1="226.10" x2="366.40" y2="226.10" stroke="#222" stroke-width="1"/>
<line x1="232.30" y1="243.15" x2="227.80" y2="243.15" stroke="#222" stroke-width="1"/>
<line x1="361.90" y1="243.15" x2="366.40" y2="243.15" stroke="#222" stroke-width="1"/>
<line x1="232.30" y1="256.05" x2="224.30" y2="256.05" stroke="#222" stroke-width="1"/>
<line x1="361.90" y1="256.05" x2="369.90" y2="256.05" stroke="#222" stroke-width="1"/>
<line x1="232.30" y1="268.95" x2="227.80" y2="268.95" stroke="#222" stroke-width="1"/>
<line x1="361.90" y1="268.95" x2="366.40" y2="268.95" stroke="#222" stroke-width="1"/>
<line x1="232.30" y1="286.00" x2="227.80" y2="286.00" stroke="#222" stroke-width="1"/>
<line x1="361.90" y1="286.00" x2="366.40" y2="286.00" stroke="#222" stroke-width="1"/>
<line x1="232.30" y1="298.90" x2="224.30" y2="298.90" stroke="#222" stroke-width="1"/>
<line x1="361.90" y1="298.90" x2="369.90" y2="298.90" stroke="#222" stroke-width="1"/>
<line x1="232.30" y1="311.80" x2="227.80" y2="311.80" stroke="#222" stroke-width="1"/>
<line x1="361.90" y1="311.80" x2="366.40" y2="311.80" stroke="#222" stroke-width="1"/>
<rect x="232.30" y="200.30" width="129.60" height="111.50" fill="none" stroke="#000" stroke-width="1.7"/>
<text x="232.30" y="330.80" text-anchor="middle" font-size="10">0.05</text>
<text x="271.31" y="330.80" text-anchor="middle" font-size="10">0.1</text>
<text x="310.33" y="330.80" text-anchor="middle" font-size="10">0.2</text>
<text x="361.90" y="330.80" text-anchor="middle" font-size="10">0.5</text>
<text x="297.10" y="343.80" text-anchor="middle" font-size="10.4">[Hz]</text>
<text x="220.30" y="216.70" text-anchor="end" font-size="9.7">10<tspan font-size="6.2" dy="-4.0" dx="0.4">1</tspan></text>
<text x="220.30" y="259.55" text-anchor="end" font-size="9.7">10<tspan font-size="6.2" dy="-4.0" dx="0.4">0</tspan></text>
<text x="220.30" y="302.40" text-anchor="end" font-size="9.7">10<tspan font-size="6.2" dy="-4.0" dx="0.4">−1</tspan></text>
<line x1="399.80" y1="213.20" x2="529.40" y2="213.20" stroke="#a0a0a0" stroke-width="1.2"/>
<line x1="399.80" y1="256.05" x2="529.40" y2="256.05" stroke="#a0a0a0" stroke-width="1.2"/>
<line x1="399.80" y1="298.90" x2="529.40" y2="298.90" stroke="#a0a0a0" stroke-width="1.2"/>
<line x1="438.50" y1="200.30" x2="438.50" y2="311.80" stroke="#6e6e6e" stroke-width="1.0"/>
<clipPath id="cp12"><rect x="399.80" y="200.30" width="129.60" height="111.50"/></clipPath>
<g clip-path="url(#cp12)">
<path d="M399.8,248.4C400.3,248.5 401.7,248.8 402.6,249.0C403.5,249.2 404.5,249.3 405.4,249.4C406.3,249.5 407.1,249.3 408.0,249.4C408.9,249.5 410.0,249.4 411.0,250.0C412.0,250.6 413.1,252.0 414.0,253.0C414.9,254.0 415.7,255.0 416.6,256.0C417.5,257.0 418.4,258.0 419.4,259.0C420.4,260.0 421.6,261.1 422.6,262.0C423.6,262.9 424.5,264.2 425.4,264.6C426.3,265.0 427.1,264.5 428.0,264.6C428.9,264.7 429.8,264.6 430.6,265.0C431.4,265.4 432.2,266.3 433.0,267.0C433.8,267.7 434.6,268.4 435.4,269.0C436.2,269.6 437.1,270.2 438.0,270.6C438.9,271.0 439.8,271.1 440.6,271.5C441.4,271.9 442.3,272.7 443.0,273.2C443.7,273.8 444.3,274.3 445.0,274.9C445.7,275.6 446.3,276.3 447.0,277.1C447.7,277.8 448.7,278.6 449.4,279.6C450.1,280.5 450.7,281.7 451.4,282.7C452.1,283.7 452.7,285.0 453.4,285.4C454.1,285.8 454.7,285.8 455.4,284.9C456.1,284.0 456.6,282.2 457.4,280.0C458.2,277.9 459.1,274.5 460.0,272.2C460.9,269.9 461.8,268.1 462.6,266.3C463.4,264.5 464.2,263.0 465.0,261.5C465.8,259.9 466.7,257.3 467.4,257.0C468.1,256.7 468.7,258.1 469.4,259.7C470.1,261.3 470.7,263.9 471.4,266.8C472.1,269.7 472.7,274.6 473.4,276.9C474.1,279.3 474.7,280.3 475.4,281.0C476.1,281.8 476.7,282.2 477.4,281.5C478.1,280.9 478.7,278.8 479.4,277.3C480.1,275.7 480.7,273.7 481.4,272.4C482.1,271.1 482.7,270.1 483.4,269.5C484.1,268.8 484.7,268.2 485.4,268.6C486.1,269.0 486.7,270.2 487.4,271.7C488.1,273.2 488.7,275.8 489.4,277.8C490.1,279.8 490.7,282.2 491.4,283.5C492.1,284.9 492.6,285.6 493.4,286.0C494.2,286.5 495.1,286.5 496.0,286.2C496.9,285.9 497.8,284.8 498.6,284.3C499.4,283.9 500.2,283.7 501.0,283.5C501.8,283.2 502.6,283.2 503.4,282.6C504.2,282.0 505.1,281.0 506.0,279.7C506.9,278.4 507.8,276.7 508.6,274.9C509.4,273.1 510.3,270.8 511.0,269.0C511.7,267.2 512.4,265.9 513.0,264.1C513.6,262.3 514.1,259.4 514.6,258.2C515.1,257.1 515.4,256.8 516.0,257.3C516.6,257.8 517.3,260.2 518.0,261.4C518.7,262.6 519.2,263.6 520.0,264.5C520.8,265.4 521.8,266.3 522.6,266.7C523.4,267.0 524.3,266.9 525.0,266.8C525.7,266.7 526.3,266.5 527.0,265.9C527.7,265.3 529.0,263.5 529.4,263.0" fill="none" stroke="#111" stroke-width="1.2" stroke-linejoin="round" stroke-dasharray="3.5,2"/>
<path d="M399.8,242.4C400.3,242.5 401.7,242.8 402.6,243.0C403.5,243.2 404.5,243.3 405.4,243.4C406.3,243.5 407.1,243.3 408.0,243.4C408.9,243.5 410.0,243.4 411.0,244.0C412.0,244.6 413.1,246.0 414.0,247.0C414.9,248.0 415.7,249.0 416.6,250.0C417.5,251.0 418.4,252.0 419.4,253.0C420.4,254.0 421.6,255.1 422.6,256.0C423.6,256.9 424.5,258.2 425.4,258.6C426.3,259.0 427.1,258.5 428.0,258.6C428.9,258.7 429.8,258.6 430.6,259.0C431.4,259.4 432.2,260.3 433.0,261.0C433.8,261.7 434.6,262.4 435.4,263.0C436.2,263.6 437.1,264.2 438.0,264.6C438.9,265.0 439.8,264.9 440.6,265.3C441.4,265.7 442.3,266.3 443.0,266.8C443.7,267.3 444.3,267.7 445.0,268.3C445.7,268.8 446.3,269.5 447.0,270.1C447.7,270.8 448.7,271.6 449.4,272.4C450.1,273.3 450.7,274.4 451.4,275.3C452.1,276.2 452.7,277.5 453.4,277.8C454.1,278.1 454.7,278.0 455.4,277.1C456.1,276.1 456.6,274.2 457.4,272.0C458.2,269.8 459.1,266.2 460.0,263.8C460.9,261.4 461.8,259.6 462.6,257.7C463.4,255.8 464.2,254.2 465.0,252.5C465.8,250.9 466.7,248.2 467.4,247.8C468.1,247.4 468.7,248.7 469.4,250.3C470.1,251.9 470.7,254.4 471.4,257.2C472.1,260.0 472.7,264.8 473.4,267.1C474.1,269.4 474.7,270.3 475.4,271.0C476.1,271.7 476.7,272.0 477.4,271.3C478.1,270.6 478.7,268.3 479.4,266.7C480.1,265.1 480.7,263.0 481.4,261.6C482.1,260.3 482.7,259.2 483.4,258.5C484.1,257.8 484.7,257.1 485.4,257.4C486.1,257.7 486.7,258.8 487.4,260.3C488.1,261.8 488.7,264.3 489.4,266.2C490.1,268.1 490.7,270.4 491.4,271.7C492.1,273.0 492.6,273.6 493.4,274.0C494.2,274.3 495.1,274.2 496.0,273.8C496.9,273.4 497.8,272.2 498.6,271.7C499.4,271.1 500.2,270.9 501.0,270.5C501.8,270.2 502.6,270.1 503.4,269.4C504.2,268.7 505.1,267.6 506.0,266.3C506.9,264.9 507.8,263.0 508.6,261.1C509.4,259.2 510.3,256.9 511.0,255.0C511.7,253.1 512.4,251.7 513.0,249.9C513.6,248.0 514.1,245.0 514.6,243.8C515.1,242.6 515.4,242.2 516.0,242.7C516.6,243.2 517.3,245.5 518.0,246.6C518.7,247.7 519.2,248.7 520.0,249.5C520.8,250.3 521.8,251.1 522.6,251.3C523.4,251.6 524.3,251.4 525.0,251.2C525.7,251.0 526.3,250.8 527.0,250.1C527.7,249.4 529.0,247.5 529.4,247.0" fill="none" stroke="#111" stroke-width="1.2" stroke-linejoin="round" stroke-dasharray="3.5,2"/>
<path d="M399.8,245.4C400.3,245.5 401.7,245.8 402.6,246.0C403.5,246.2 404.5,246.3 405.4,246.4C406.3,246.5 407.1,246.3 408.0,246.4C408.9,246.5 410.0,246.4 411.0,247.0C412.0,247.6 413.1,249.0 414.0,250.0C414.9,251.0 415.7,252.0 416.6,253.0C417.5,254.0 418.4,255.0 419.4,256.0C420.4,257.0 421.6,258.1 422.6,259.0C423.6,259.9 424.5,261.2 425.4,261.6C426.3,262.0 427.1,261.5 428.0,261.6C428.9,261.7 429.8,261.6 430.6,262.0C431.4,262.4 432.2,263.3 433.0,264.0C433.8,264.7 434.6,265.4 435.4,266.0C436.2,266.6 437.1,267.2 438.0,267.6C438.9,268.0 439.8,268.0 440.6,268.4C441.4,268.8 442.3,269.5 443.0,270.0C443.7,270.5 444.3,271.0 445.0,271.6C445.7,272.2 446.3,272.9 447.0,273.6C447.7,274.3 448.7,275.1 449.4,276.0C450.1,276.9 450.7,278.1 451.4,279.0C452.1,279.9 452.7,281.3 453.4,281.6C454.1,281.9 454.7,281.9 455.4,281.0C456.1,280.1 456.6,278.2 457.4,276.0C458.2,273.8 459.1,270.3 460.0,268.0C460.9,265.7 461.8,263.8 462.6,262.0C463.4,260.2 464.2,258.6 465.0,257.0C465.8,255.4 466.7,252.7 467.4,252.4C468.1,252.1 468.7,253.4 469.4,255.0C470.1,256.6 470.7,259.2 471.4,262.0C472.1,264.8 472.7,269.7 473.4,272.0C474.1,274.3 474.7,275.3 475.4,276.0C476.1,276.7 476.7,277.1 477.4,276.4C478.1,275.7 478.7,273.6 479.4,272.0C480.1,270.4 480.7,268.3 481.4,267.0C482.1,265.7 482.7,264.7 483.4,264.0C484.1,263.3 484.7,262.7 485.4,263.0C486.1,263.3 486.7,264.5 487.4,266.0C488.1,267.5 488.7,270.1 489.4,272.0C490.1,273.9 490.7,276.3 491.4,277.6C492.1,278.9 492.6,279.6 493.4,280.0C494.2,280.4 495.1,280.3 496.0,280.0C496.9,279.7 497.8,278.5 498.6,278.0C499.4,277.5 500.2,277.3 501.0,277.0C501.8,276.7 502.6,276.7 503.4,276.0C504.2,275.3 505.1,274.3 506.0,273.0C506.9,271.7 507.8,269.8 508.6,268.0C509.4,266.2 510.3,263.8 511.0,262.0C511.7,260.2 512.4,258.8 513.0,257.0C513.6,255.2 514.1,252.2 514.6,251.0C515.1,249.8 515.4,249.5 516.0,250.0C516.6,250.5 517.3,252.8 518.0,254.0C518.7,255.2 519.2,256.2 520.0,257.0C520.8,257.8 521.8,258.7 522.6,259.0C523.4,259.3 524.3,259.2 525.0,259.0C525.7,258.8 526.3,258.7 527.0,258.0C527.7,257.3 529.0,255.5 529.4,255.0" fill="none" stroke="#000" stroke-width="1.5" stroke-linejoin="round"/>
<path d="M399.8,257.0C400.3,257.2 401.7,258.2 402.6,258.4C403.5,258.6 404.5,258.7 405.4,258.4C406.3,258.1 407.1,257.0 408.0,256.4C408.9,255.8 410.1,255.2 411.0,255.0C411.9,254.8 412.6,254.7 413.4,255.0C414.2,255.3 415.1,256.0 416.0,257.0C416.9,258.0 418.0,259.7 419.0,261.0C420.0,262.3 421.0,264.0 422.0,265.0C423.0,266.0 424.0,266.8 425.0,267.0C426.0,267.2 427.1,266.6 428.0,266.0C428.9,265.4 429.8,264.1 430.6,263.6C431.4,263.1 432.2,262.6 433.0,263.0C433.8,263.4 434.6,264.8 435.4,266.0C436.2,267.2 437.2,269.4 438.0,270.4C438.8,271.4 439.2,272.1 440.0,272.0C440.8,271.9 441.8,270.7 442.6,270.0C443.4,269.3 444.2,268.1 445.0,267.6C445.8,267.1 446.7,266.9 447.4,267.0C448.1,267.1 448.7,267.3 449.4,268.0C450.1,268.7 450.7,269.5 451.4,271.0C452.1,272.5 452.7,275.0 453.4,277.0C454.1,279.0 454.8,282.3 455.4,283.0C456.0,283.7 456.4,282.7 457.0,281.0C457.6,279.3 458.3,275.8 459.0,273.0C459.7,270.2 460.3,266.3 461.0,264.0C461.7,261.7 462.3,260.3 463.0,259.0C463.7,257.7 464.3,257.8 465.0,256.0C465.7,254.2 466.4,250.1 467.0,248.0C467.6,245.9 468.1,244.0 468.6,243.6C469.1,243.2 469.6,243.9 470.2,245.6C470.8,247.3 471.5,251.6 472.2,254.0C472.9,256.4 473.5,258.5 474.2,260.0C474.9,261.5 475.5,262.3 476.2,263.0C476.9,263.7 477.5,264.4 478.2,264.4C478.9,264.4 479.5,263.7 480.2,263.0C480.9,262.3 481.5,261.2 482.2,260.4C482.9,259.6 483.5,258.7 484.2,258.0C484.9,257.3 485.5,256.6 486.2,256.4C486.9,256.2 487.5,256.1 488.2,257.0C488.9,257.9 489.5,260.3 490.2,262.0C490.9,263.7 491.5,265.9 492.2,267.0C492.9,268.1 493.8,268.2 494.6,268.4C495.4,268.6 496.2,268.3 497.0,268.0C497.8,267.7 498.6,266.6 499.4,266.4C500.2,266.2 501.1,266.7 502.0,267.0C502.9,267.3 504.1,268.2 505.0,268.0C505.9,267.8 506.6,266.8 507.4,266.0C508.2,265.2 509.1,263.8 510.0,263.0C510.9,262.2 511.8,261.8 512.6,261.0C513.4,260.2 514.3,258.8 515.0,258.0C515.7,257.2 516.3,256.0 517.0,256.0C517.7,256.0 518.3,257.0 519.0,258.0C519.7,259.0 520.3,259.5 521.0,262.0C521.7,264.5 522.3,269.3 523.0,273.0C523.7,276.7 524.5,281.0 525.0,284.0C525.5,287.0 525.8,290.7 526.2,291.0C526.6,291.3 527.0,288.5 527.4,286.0C527.8,283.5 528.3,279.0 528.6,276.0C528.9,273.0 529.3,269.3 529.4,268.0" fill="none" stroke="#1e8cff" stroke-width="1.4" stroke-linejoin="round"/>
<path d="M399.8,244.4C400.3,244.5 401.7,244.8 402.6,245.0C403.5,245.2 404.5,245.5 405.4,245.6C406.3,245.7 407.1,245.5 408.0,245.6C408.9,245.7 410.0,245.4 411.0,246.0C412.0,246.6 413.1,247.8 414.0,249.0C414.9,250.2 415.7,251.7 416.6,253.0C417.5,254.3 418.4,255.7 419.4,257.0C420.4,258.3 421.6,260.0 422.6,261.0C423.6,262.0 424.5,262.5 425.4,263.0C426.3,263.5 427.1,263.7 428.0,264.0C428.9,264.3 429.8,264.5 430.6,265.0C431.4,265.5 432.2,266.2 433.0,267.0C433.8,267.8 434.6,269.2 435.4,270.0C436.2,270.8 437.1,271.5 438.0,272.0C438.9,272.5 439.8,272.5 440.6,273.0C441.4,273.5 442.3,274.2 443.0,275.0C443.7,275.8 444.3,276.7 445.0,278.0C445.7,279.3 446.3,281.3 447.0,283.0C447.7,284.7 448.7,286.5 449.4,288.0C450.1,289.5 450.7,290.9 451.4,292.0C452.1,293.1 452.7,294.6 453.4,294.6C454.1,294.6 454.7,293.8 455.4,292.0C456.1,290.2 456.6,286.3 457.4,284.0C458.2,281.7 459.1,279.8 460.0,278.0C460.9,276.2 461.8,274.4 462.6,273.0C463.4,271.6 464.2,270.5 465.0,269.6C465.8,268.7 466.6,267.7 467.4,267.6C468.2,267.5 469.2,267.8 470.0,269.0C470.8,270.2 471.3,272.5 472.0,275.0C472.7,277.5 473.3,281.7 474.0,284.0C474.7,286.3 475.3,288.7 476.0,289.0C476.7,289.3 477.3,288.2 478.0,286.0C478.7,283.8 479.3,279.0 480.0,276.0C480.7,273.0 481.4,269.5 482.0,268.0C482.6,266.5 483.0,266.3 483.6,267.0C484.2,267.7 484.8,269.8 485.4,272.0C486.0,274.2 486.7,277.0 487.4,280.0C488.1,283.0 488.8,287.4 489.4,290.0C490.0,292.6 490.4,295.1 491.0,295.6C491.6,296.1 492.3,294.1 493.0,293.0C493.7,291.9 494.3,290.2 495.0,289.0C495.7,287.8 496.3,286.8 497.0,286.0C497.7,285.2 498.3,284.6 499.0,284.0C499.7,283.4 500.3,282.4 501.0,282.4C501.7,282.4 502.3,283.2 503.0,284.0C503.7,284.8 504.6,285.9 505.4,287.0C506.2,288.1 507.2,290.9 508.0,290.4C508.8,289.9 509.3,286.7 510.0,284.0C510.7,281.3 511.3,277.0 512.0,274.0C512.7,271.0 513.3,268.3 514.0,266.0C514.7,263.7 515.3,261.2 516.0,260.0C516.7,258.8 517.3,258.3 518.0,259.0C518.7,259.7 519.3,262.5 520.0,264.0C520.7,265.5 521.3,266.7 522.0,268.0C522.7,269.3 523.3,270.9 524.0,271.6C524.7,272.3 525.3,273.3 526.0,272.0C526.7,270.7 527.4,266.8 528.0,264.0C528.6,261.2 529.2,256.5 529.4,255.0" fill="none" stroke="#ff1e1e" stroke-width="1.4" stroke-linejoin="round"/>
</g>
<line x1="399.80" y1="200.30" x2="399.80" y2="192.30" stroke="#222" stroke-width="1"/>
<line x1="399.80" y1="311.80" x2="399.80" y2="319.80" stroke="#222" stroke-width="1"/>
<line x1="410.06" y1="200.30" x2="410.06" y2="195.80" stroke="#222" stroke-width="1"/>
<line x1="410.06" y1="311.80" x2="410.06" y2="316.30" stroke="#222" stroke-width="1"/>
<line x1="418.74" y1="200.30" x2="418.74" y2="195.80" stroke="#222" stroke-width="1"/>
<line x1="418.74" y1="311.80" x2="418.74" y2="316.30" stroke="#222" stroke-width="1"/>
<line x1="426.25" y1="200.30" x2="426.25" y2="195.80" stroke="#222" stroke-width="1"/>
<line x1="426.25" y1="311.80" x2="426.25" y2="316.30" stroke="#222" stroke-width="1"/>
<line x1="432.88" y1="200.30" x2="432.88" y2="195.80" stroke="#222" stroke-width="1"/>
<line x1="432.88" y1="311.80" x2="432.88" y2="316.30" stroke="#222" stroke-width="1"/>
<line x1="438.81" y1="200.30" x2="438.81" y2="192.30" stroke="#222" stroke-width="1"/>
<line x1="438.81" y1="311.80" x2="438.81" y2="319.80" stroke="#222" stroke-width="1"/>
<line x1="477.83" y1="200.30" x2="477.83" y2="192.30" stroke="#222" stroke-width="1"/>
<line x1="477.83" y1="311.80" x2="477.83" y2="319.80" stroke="#222" stroke-width="1"/>
<line x1="500.65" y1="200.30" x2="500.65" y2="195.80" stroke="#222" stroke-width="1"/>
<line x1="500.65" y1="311.80" x2="500.65" y2="316.30" stroke="#222" stroke-width="1"/>
<line x1="516.84" y1="200.30" x2="516.84" y2="195.80" stroke="#222" stroke-width="1"/>
<line x1="516.84" y1="311.80" x2="516.84" y2="316.30" stroke="#222" stroke-width="1"/>
<line x1="529.40" y1="200.30" x2="529.40" y2="192.30" stroke="#222" stroke-width="1"/>
<line x1="529.40" y1="311.80" x2="529.40" y2="319.80" stroke="#222" stroke-width="1"/>
<line x1="399.80" y1="200.30" x2="395.30" y2="200.30" stroke="#222" stroke-width="1"/>
<line x1="529.40" y1="200.30" x2="533.90" y2="200.30" stroke="#222" stroke-width="1"/>
<line x1="399.80" y1="213.20" x2="391.80" y2="213.20" stroke="#222" stroke-width="1"/>
<line x1="529.40" y1="213.20" x2="537.40" y2="213.20" stroke="#222" stroke-width="1"/>
<line x1="399.80" y1="226.10" x2="395.30" y2="226.10" stroke="#222" stroke-width="1"/>
<line x1="529.40" y1="226.10" x2="533.90" y2="226.10" stroke="#222" stroke-width="1"/>
<line x1="399.80" y1="243.15" x2="395.30" y2="243.15" stroke="#222" stroke-width="1"/>
<line x1="529.40" y1="243.15" x2="533.90" y2="243.15" stroke="#222" stroke-width="1"/>
<line x1="399.80" y1="256.05" x2="391.80" y2="256.05" stroke="#222" stroke-width="1"/>
<line x1="529.40" y1="256.05" x2="537.40" y2="256.05" stroke="#222" stroke-width="1"/>
<line x1="399.80" y1="268.95" x2="395.30" y2="268.95" stroke="#222" stroke-width="1"/>
<line x1="529.40" y1="268.95" x2="533.90" y2="268.95" stroke="#222" stroke-width="1"/>
<line x1="399.80" y1="286.00" x2="395.30" y2="286.00" stroke="#222" stroke-width="1"/>
<line x1="529.40" y1="286.00" x2="533.90" y2="286.00" stroke="#222" stroke-width="1"/>
<line x1="399.80" y1="298.90" x2="391.80" y2="298.90" stroke="#222" stroke-width="1"/>
<line x1="529.40" y1="298.90" x2="537.40" y2="298.90" stroke="#222" stroke-width="1"/>
<line x1="399.80" y1="311.80" x2="395.30" y2="311.80" stroke="#222" stroke-width="1"/>
<line x1="529.40" y1="311.80" x2="533.90" y2="311.80" stroke="#222" stroke-width="1"/>
<rect x="399.80" y="200.30" width="129.60" height="111.50" fill="none" stroke="#000" stroke-width="1.7"/>
<text x="399.80" y="330.80" text-anchor="middle" font-size="10">0.05</text>
<text x="438.81" y="330.80" text-anchor="middle" font-size="10">0.1</text>
<text x="477.83" y="330.80" text-anchor="middle" font-size="10">0.2</text>
<text x="529.40" y="330.80" text-anchor="middle" font-size="10">0.5</text>
<text x="464.60" y="343.80" text-anchor="middle" font-size="10.4">[Hz]</text>
<text x="387.80" y="216.70" text-anchor="end" font-size="9.7">10<tspan font-size="6.2" dy="-4.0" dx="0.4">1</tspan></text>
<text x="387.80" y="259.55" text-anchor="end" font-size="9.7">10<tspan font-size="6.2" dy="-4.0" dx="0.4">0</tspan></text>
<text x="387.80" y="302.40" text-anchor="end" font-size="9.7">10<tspan font-size="6.2" dy="-4.0" dx="0.4">−1</tspan></text>
<text x="57.2" y="205.60" text-anchor="end" font-size="14.4">TKCH08</text>
<line x1="64.80" y1="369.20" x2="194.40" y2="369.20" stroke="#a0a0a0" stroke-width="1.2"/>
<line x1="64.80" y1="412.05" x2="194.40" y2="412.05" stroke="#a0a0a0" stroke-width="1.2"/>
<line x1="64.80" y1="454.90" x2="194.40" y2="454.90" stroke="#a0a0a0" stroke-width="1.2"/>
<line x1="103.81" y1="356.30" x2="103.81" y2="467.80" stroke="#b4b4b4" stroke-width="1.3"/>
<clipPath id="cp20"><rect x="64.80" y="356.30" width="129.60" height="111.50"/></clipPath>
<g clip-path="url(#cp20)">
<path d="M64.8,415.0C65.3,415.0 66.7,415.0 67.6,415.0C68.5,415.0 69.5,415.0 70.4,415.0C71.3,415.0 72.1,414.9 73.0,415.0C73.9,415.1 74.8,415.2 75.6,415.4C76.4,415.6 77.3,415.8 78.0,416.0C78.7,416.2 79.3,416.8 80.0,416.6C80.7,416.4 81.4,416.2 82.0,415.0C82.6,413.8 83.1,411.5 83.6,409.4C84.1,407.3 84.6,404.4 85.2,402.6C85.8,400.8 86.4,399.4 87.0,398.6C87.6,397.8 88.2,397.5 88.8,398.0C89.4,398.5 89.9,400.1 90.4,401.4C90.9,402.7 91.4,404.7 92.0,406.0C92.6,407.3 93.3,408.8 94.0,409.4C94.7,410.0 95.6,409.6 96.4,409.4C97.2,409.2 98.1,408.4 99.0,408.0C99.9,407.6 100.8,406.9 101.6,407.0C102.4,407.1 103.3,407.9 104.0,408.6C104.7,409.3 105.3,410.0 106.0,411.1C106.7,412.2 107.7,414.0 108.4,415.3C109.1,416.5 109.7,417.7 110.4,418.4C111.1,419.1 111.7,419.0 112.4,419.5C113.1,419.9 113.7,420.2 114.4,421.2C115.1,422.2 115.7,424.1 116.4,425.7C117.1,427.3 117.7,429.6 118.4,430.8C119.1,432.0 119.7,432.7 120.4,432.9C121.1,433.1 121.7,432.3 122.4,432.0C123.1,431.7 123.7,431.4 124.4,431.1C125.1,430.9 125.7,430.9 126.4,430.7C127.1,430.5 127.7,430.3 128.4,430.0C129.1,429.6 129.7,429.7 130.4,428.5C131.1,427.2 131.8,423.9 132.4,422.6C133.0,421.3 133.4,420.3 134.0,420.7C134.6,421.0 135.3,423.3 136.0,424.8C136.7,426.3 137.3,428.5 138.0,429.9C138.7,431.3 139.7,432.7 140.4,433.4C141.1,434.1 141.7,434.5 142.4,434.1C143.1,433.8 143.7,433.4 144.4,431.3C145.1,429.1 145.8,423.7 146.4,421.4C147.0,419.1 147.4,417.4 148.0,417.5C148.6,417.5 149.3,419.9 150.0,421.6C150.7,423.3 151.3,426.0 152.0,427.7C152.7,429.3 153.3,430.2 154.0,431.4C154.7,432.6 155.3,433.9 156.0,434.9C156.7,435.9 157.3,437.6 158.0,437.6C158.7,437.6 159.3,436.5 160.0,435.1C160.7,433.7 161.3,430.4 162.0,429.2C162.7,428.1 163.3,427.8 164.0,428.3C164.7,428.9 165.3,431.2 166.0,432.5C166.7,433.8 167.3,435.5 168.0,436.2C168.7,436.9 169.6,436.5 170.4,436.7C171.2,436.9 172.1,437.0 173.0,437.2C173.9,437.5 174.8,437.7 175.6,438.0C176.4,438.2 177.3,439.0 178.0,438.7C178.7,438.4 179.3,437.8 180.0,436.2C180.7,434.7 181.3,431.8 182.0,429.3C182.7,426.9 183.4,423.1 184.0,421.5C184.6,419.8 185.1,418.8 185.6,419.5C186.1,420.2 186.7,423.3 187.2,425.6C187.7,428.0 188.3,431.7 188.8,433.7C189.3,435.8 189.8,437.6 190.4,437.8C191.0,438.0 191.7,435.9 192.4,434.9C193.1,434.0 194.1,432.5 194.4,432.0" fill="none" stroke="#111" stroke-width="1.2" stroke-linejoin="round" stroke-dasharray="3.5,2"/>
<path d="M64.8,409.0C65.3,409.0 66.7,409.0 67.6,409.0C68.5,409.0 69.5,409.0 70.4,409.0C71.3,409.0 72.1,408.9 73.0,409.0C73.9,409.1 74.8,409.2 75.6,409.4C76.4,409.6 77.3,409.8 78.0,410.0C78.7,410.2 79.3,410.8 80.0,410.6C80.7,410.4 81.4,410.2 82.0,409.0C82.6,407.8 83.1,405.5 83.6,403.4C84.1,401.3 84.6,398.4 85.2,396.6C85.8,394.8 86.4,393.4 87.0,392.6C87.6,391.8 88.2,391.5 88.8,392.0C89.4,392.5 89.9,394.1 90.4,395.4C90.9,396.7 91.4,398.7 92.0,400.0C92.6,401.3 93.3,402.8 94.0,403.4C94.7,404.0 95.6,403.6 96.4,403.4C97.2,403.2 98.1,402.4 99.0,402.0C99.9,401.6 100.8,400.9 101.6,401.0C102.4,401.1 103.3,401.9 104.0,402.6C104.7,403.2 105.3,403.9 106.0,404.9C106.7,405.9 107.7,407.6 108.4,408.7C109.1,409.9 109.7,411.0 110.4,411.6C111.1,412.3 111.7,412.1 112.4,412.5C113.1,412.9 113.7,413.0 114.4,414.0C115.1,415.0 115.7,416.8 116.4,418.3C117.1,419.8 117.7,422.1 118.4,423.2C119.1,424.3 119.7,424.9 120.4,425.1C121.1,425.2 121.7,424.3 122.4,424.0C123.1,423.6 123.7,423.2 124.4,422.9C125.1,422.6 125.7,422.4 126.4,422.1C127.1,421.9 127.7,421.7 128.4,421.2C129.1,420.8 129.7,420.8 130.4,419.5C131.1,418.2 131.8,414.8 132.4,413.4C133.0,412.0 133.4,411.0 134.0,411.3C134.6,411.6 135.3,413.7 136.0,415.2C136.7,416.7 137.3,418.7 138.0,420.1C138.7,421.5 139.7,422.7 140.4,423.4C141.1,424.0 141.7,424.3 142.4,423.9C143.1,423.4 143.7,422.9 144.4,420.7C145.1,418.5 145.8,413.0 146.4,410.6C147.0,408.3 147.4,406.6 148.0,406.5C148.6,406.5 149.3,408.8 150.0,410.4C150.7,412.1 151.3,414.8 152.0,416.3C152.7,417.9 153.3,418.7 154.0,419.8C154.7,420.9 155.3,422.1 156.0,423.1C156.7,424.1 157.3,425.6 158.0,425.6C158.7,425.6 159.3,424.3 160.0,422.9C160.7,421.4 161.3,418.0 162.0,416.8C162.7,415.6 163.3,415.2 164.0,415.7C164.7,416.1 165.3,418.3 166.0,419.5C166.7,420.8 167.3,422.4 168.0,423.0C168.7,423.7 169.6,423.2 170.4,423.3C171.2,423.4 172.1,423.4 173.0,423.6C173.9,423.7 174.8,423.9 175.6,424.0C176.4,424.2 177.3,424.9 178.0,424.5C178.7,424.1 179.3,423.4 180.0,421.8C180.7,420.1 181.3,417.2 182.0,414.7C182.7,412.1 183.4,408.2 184.0,406.5C184.6,404.8 185.1,403.8 185.6,404.5C186.1,405.1 186.7,408.1 187.2,410.4C187.7,412.7 188.3,416.3 188.8,418.3C189.3,420.2 189.8,422.1 190.4,422.2C191.0,422.3 191.7,420.1 192.4,419.1C193.1,418.0 194.1,416.5 194.4,416.0" fill="none" stroke="#111" stroke-width="1.2" stroke-linejoin="round" stroke-dasharray="3.5,2"/>
<path d="M64.8,412.0C65.3,412.0 66.7,412.0 67.6,412.0C68.5,412.0 69.5,412.0 70.4,412.0C71.3,412.0 72.1,411.9 73.0,412.0C73.9,412.1 74.8,412.2 75.6,412.4C76.4,412.6 77.3,412.8 78.0,413.0C78.7,413.2 79.3,413.8 80.0,413.6C80.7,413.4 81.4,413.2 82.0,412.0C82.6,410.8 83.1,408.5 83.6,406.4C84.1,404.3 84.6,401.4 85.2,399.6C85.8,397.8 86.4,396.4 87.0,395.6C87.6,394.8 88.2,394.5 88.8,395.0C89.4,395.5 89.9,397.1 90.4,398.4C90.9,399.7 91.4,401.7 92.0,403.0C92.6,404.3 93.3,405.8 94.0,406.4C94.7,407.0 95.6,406.6 96.4,406.4C97.2,406.2 98.1,405.4 99.0,405.0C99.9,404.6 100.8,403.9 101.6,404.0C102.4,404.1 103.3,404.9 104.0,405.6C104.7,406.3 105.3,406.9 106.0,408.0C106.7,409.1 107.7,410.8 108.4,412.0C109.1,413.2 109.7,414.3 110.4,415.0C111.1,415.7 111.7,415.6 112.4,416.0C113.1,416.4 113.7,416.6 114.4,417.6C115.1,418.6 115.7,420.4 116.4,422.0C117.1,423.6 117.7,425.8 118.4,427.0C119.1,428.2 119.7,428.8 120.4,429.0C121.1,429.2 121.7,428.3 122.4,428.0C123.1,427.7 123.7,427.3 124.4,427.0C125.1,426.7 125.7,426.6 126.4,426.4C127.1,426.2 127.7,426.0 128.4,425.6C129.1,425.2 129.7,425.3 130.4,424.0C131.1,422.7 131.8,419.3 132.4,418.0C133.0,416.7 133.4,415.7 134.0,416.0C134.6,416.3 135.3,418.5 136.0,420.0C136.7,421.5 137.3,423.6 138.0,425.0C138.7,426.4 139.7,427.7 140.4,428.4C141.1,429.1 141.7,429.4 142.4,429.0C143.1,428.6 143.7,428.2 144.4,426.0C145.1,423.8 145.8,418.3 146.4,416.0C147.0,413.7 147.4,412.0 148.0,412.0C148.6,412.0 149.3,414.3 150.0,416.0C150.7,417.7 151.3,420.4 152.0,422.0C152.7,423.6 153.3,424.4 154.0,425.6C154.7,426.8 155.3,428.0 156.0,429.0C156.7,430.0 157.3,431.6 158.0,431.6C158.7,431.6 159.3,430.4 160.0,429.0C160.7,427.6 161.3,424.2 162.0,423.0C162.7,421.8 163.3,421.5 164.0,422.0C164.7,422.5 165.3,424.7 166.0,426.0C166.7,427.3 167.3,428.9 168.0,429.6C168.7,430.3 169.6,429.9 170.4,430.0C171.2,430.1 172.1,430.2 173.0,430.4C173.9,430.6 174.8,430.8 175.6,431.0C176.4,431.2 177.3,431.9 178.0,431.6C178.7,431.3 179.3,430.6 180.0,429.0C180.7,427.4 181.3,424.5 182.0,422.0C182.7,419.5 183.4,415.7 184.0,414.0C184.6,412.3 185.1,411.3 185.6,412.0C186.1,412.7 186.7,415.7 187.2,418.0C187.7,420.3 188.3,424.0 188.8,426.0C189.3,428.0 189.8,429.8 190.4,430.0C191.0,430.2 191.7,428.0 192.4,427.0C193.1,426.0 194.1,424.5 194.4,424.0" fill="none" stroke="#000" stroke-width="1.5" stroke-linejoin="round"/>
<path d="M64.8,408.0C65.3,408.2 66.7,408.7 67.6,409.0C68.5,409.3 69.5,409.8 70.4,410.0C71.3,410.2 72.1,410.4 73.0,410.4C73.9,410.4 74.8,410.1 75.6,410.0C76.4,409.9 77.2,409.7 78.0,409.6C78.8,409.5 79.7,409.3 80.4,409.2C81.1,409.1 81.7,408.9 82.4,408.8C83.1,408.7 83.7,408.4 84.4,408.4C85.1,408.4 85.7,408.3 86.4,409.0C87.1,409.7 87.7,411.2 88.4,412.4C89.1,413.6 89.7,415.1 90.4,416.4C91.1,417.7 91.6,419.0 92.4,420.0C93.2,421.0 94.1,421.9 95.0,422.4C95.9,422.9 96.8,422.7 97.6,423.0C98.4,423.3 99.3,423.4 100.0,424.0C100.7,424.6 101.4,425.7 102.0,426.4C102.6,427.1 103.1,428.5 103.6,428.4C104.1,428.3 104.5,427.3 105.0,425.6C105.5,423.9 105.9,420.3 106.4,418.0C106.9,415.7 107.5,413.5 108.0,412.0C108.5,410.5 109.0,409.6 109.6,409.0C110.2,408.4 110.9,408.2 111.6,408.4C112.3,408.6 112.9,409.1 113.6,410.0C114.3,410.9 114.9,412.5 115.6,414.0C116.3,415.5 116.9,418.4 117.6,419.0C118.3,419.6 119.3,418.1 120.0,417.6C120.7,417.1 121.3,416.2 122.0,416.0C122.7,415.8 123.3,415.9 124.0,416.4C124.7,416.9 125.3,418.1 126.0,419.0C126.7,419.9 127.4,422.8 128.0,422.0C128.6,421.2 129.1,417.3 129.6,414.0C130.1,410.7 130.7,404.9 131.2,402.0C131.7,399.1 131.9,397.1 132.4,396.4C132.9,395.7 133.4,396.7 134.0,397.6C134.6,398.5 135.3,400.5 136.0,402.0C136.7,403.5 137.3,404.6 138.0,406.4C138.7,408.2 139.3,410.9 140.0,413.0C140.7,415.1 141.3,418.3 142.0,419.0C142.7,419.7 143.3,418.8 144.0,417.0C144.7,415.2 145.4,410.5 146.0,408.0C146.6,405.5 147.1,402.8 147.6,402.0C148.1,401.2 148.6,402.3 149.2,403.0C149.8,403.7 150.5,405.6 151.2,406.4C151.9,407.2 152.8,407.7 153.6,408.0C154.4,408.3 155.2,407.8 156.0,408.0C156.8,408.2 157.6,408.3 158.4,409.0C159.2,409.7 160.2,411.3 161.0,412.0C161.8,412.7 162.3,413.3 163.0,413.0C163.7,412.7 164.3,410.8 165.0,410.0C165.7,409.2 166.3,408.5 167.0,408.4C167.7,408.3 168.3,409.2 169.0,409.6C169.7,410.0 170.3,410.6 171.0,411.0C171.7,411.4 172.3,411.6 173.0,412.0C173.7,412.4 174.3,413.1 175.0,413.6C175.7,414.1 176.3,414.3 177.0,415.0C177.7,415.7 178.4,416.8 179.0,418.0C179.6,419.2 180.0,421.7 180.4,422.0C180.8,422.3 181.2,421.3 181.6,420.0C182.0,418.7 182.5,415.2 183.0,414.0C183.5,412.8 183.9,412.7 184.4,413.0C184.9,413.3 185.5,413.2 186.0,416.0C186.5,418.8 187.1,425.3 187.6,430.0C188.1,434.7 188.7,440.7 189.2,444.0C189.7,447.3 189.9,449.3 190.4,450.0C190.9,450.7 191.3,448.7 192.0,448.0C192.7,447.3 194.0,446.0 194.4,445.6" fill="none" stroke="#1e8cff" stroke-width="1.4" stroke-linejoin="round"/>
<path d="M64.8,410.0C65.3,410.1 66.7,410.2 67.6,410.4C68.5,410.6 69.5,410.9 70.4,411.0C71.3,411.1 72.1,410.9 73.0,411.0C73.9,411.1 74.8,411.4 75.6,411.6C76.4,411.8 77.3,411.8 78.0,412.0C78.7,412.2 79.3,413.0 80.0,413.0C80.7,413.0 81.4,413.2 82.0,412.0C82.6,410.8 83.1,408.2 83.6,406.0C84.1,403.8 84.6,400.8 85.2,399.0C85.8,397.2 86.4,395.8 87.0,395.0C87.6,394.2 88.2,393.6 88.8,394.0C89.4,394.4 89.9,396.3 90.4,397.6C90.9,398.9 91.4,400.7 92.0,402.0C92.6,403.3 93.3,404.7 94.0,405.6C94.7,406.5 95.6,407.1 96.4,407.6C97.2,408.1 98.1,408.4 99.0,408.4C99.9,408.4 100.8,407.5 101.6,407.6C102.4,407.7 103.3,408.3 104.0,409.0C104.7,409.7 105.3,410.8 106.0,412.0C106.7,413.2 107.7,414.3 108.4,416.0C109.1,417.7 109.7,420.8 110.4,422.0C111.1,423.2 111.7,423.2 112.4,423.0C113.1,422.8 113.7,421.0 114.4,421.0C115.1,421.0 115.7,421.3 116.4,423.0C117.1,424.7 117.7,428.9 118.4,431.0C119.1,433.1 119.7,434.6 120.4,435.6C121.1,436.6 121.7,436.3 122.4,437.0C123.1,437.7 123.7,438.7 124.4,440.0C125.1,441.3 125.7,443.9 126.4,445.0C127.1,446.1 127.7,446.6 128.4,446.4C129.1,446.2 129.7,445.4 130.4,444.0C131.1,442.6 131.7,440.2 132.4,438.0C133.1,435.8 133.7,432.6 134.4,431.0C135.1,429.4 135.7,428.6 136.4,428.4C137.1,428.2 137.7,428.4 138.4,429.6C139.1,430.8 139.7,433.9 140.4,435.6C141.1,437.3 141.8,438.9 142.4,440.0C143.0,441.1 143.5,442.3 144.0,442.0C144.5,441.7 145.1,440.0 145.6,438.0C146.1,436.0 146.5,432.7 147.0,430.0C147.5,427.3 147.9,423.3 148.4,422.0C148.9,420.7 149.4,420.3 150.0,422.0C150.6,423.7 151.3,428.3 152.0,432.0C152.7,435.7 153.4,440.3 154.0,444.0C154.6,447.7 155.1,451.7 155.6,454.0C156.1,456.3 156.3,458.3 156.8,458.0C157.3,457.7 157.9,455.0 158.4,452.0C158.9,449.0 159.5,443.0 160.0,440.0C160.5,437.0 161.0,435.7 161.6,434.0C162.2,432.3 162.9,430.0 163.6,430.0C164.3,430.0 164.9,432.0 165.6,434.0C166.3,436.0 166.9,439.8 167.6,442.0C168.3,444.2 168.9,446.1 169.6,447.0C170.3,447.9 170.9,447.8 171.6,447.6C172.3,447.4 172.9,446.0 173.6,445.6C174.3,445.2 175.3,444.3 176.0,445.0C176.7,445.7 177.4,448.8 178.0,450.0C178.6,451.2 179.1,453.0 179.6,452.0C180.1,451.0 180.6,447.7 181.2,444.0C181.8,440.3 182.5,434.0 183.0,430.0C183.5,426.0 183.9,421.0 184.4,420.0C184.9,419.0 185.5,422.3 186.0,424.0C186.5,425.7 187.1,428.0 187.6,430.0C188.1,432.0 188.6,435.0 189.2,436.0C189.8,437.0 190.4,436.5 191.0,436.0C191.6,435.5 192.4,434.0 193.0,433.0C193.6,432.0 194.2,430.5 194.4,430.0" fill="none" stroke="#ff1e1e" stroke-width="1.4" stroke-linejoin="round"/>
</g>
<line x1="64.80" y1="356.30" x2="64.80" y2="348.30" stroke="#222" stroke-width="1"/>
<line x1="64.80" y1="467.80" x2="64.80" y2="475.80" stroke="#222" stroke-width="1"/>
<line x1="75.06" y1="356.30" x2="75.06" y2="351.80" stroke="#222" stroke-width="1"/>
<line x1="75.06" y1="467.80" x2="75.06" y2="472.30" stroke="#222" stroke-width="1"/>
<line x1="83.74" y1="356.30" x2="83.74" y2="351.80" stroke="#222" stroke-width="1"/>
<line x1="83.74" y1="467.80" x2="83.74" y2="472.30" stroke="#222" stroke-width="1"/>
<line x1="91.25" y1="356.30" x2="91.25" y2="351.80" stroke="#222" stroke-width="1"/>
<line x1="91.25" y1="467.80" x2="91.25" y2="472.30" stroke="#222" stroke-width="1"/>
<line x1="97.88" y1="356.30" x2="97.88" y2="351.80" stroke="#222" stroke-width="1"/>
<line x1="97.88" y1="467.80" x2="97.88" y2="472.30" stroke="#222" stroke-width="1"/>
<line x1="103.81" y1="356.30" x2="103.81" y2="348.30" stroke="#222" stroke-width="1"/>
<line x1="103.81" y1="467.80" x2="103.81" y2="475.80" stroke="#222" stroke-width="1"/>
<line x1="142.83" y1="356.30" x2="142.83" y2="348.30" stroke="#222" stroke-width="1"/>
<line x1="142.83" y1="467.80" x2="142.83" y2="475.80" stroke="#222" stroke-width="1"/>
<line x1="165.65" y1="356.30" x2="165.65" y2="351.80" stroke="#222" stroke-width="1"/>
<line x1="165.65" y1="467.80" x2="165.65" y2="472.30" stroke="#222" stroke-width="1"/>
<line x1="181.84" y1="356.30" x2="181.84" y2="351.80" stroke="#222" stroke-width="1"/>
<line x1="181.84" y1="467.80" x2="181.84" y2="472.30" stroke="#222" stroke-width="1"/>
<line x1="194.40" y1="356.30" x2="194.40" y2="348.30" stroke="#222" stroke-width="1"/>
<line x1="194.40" y1="467.80" x2="194.40" y2="475.80" stroke="#222" stroke-width="1"/>
<line x1="64.80" y1="356.30" x2="60.30" y2="356.30" stroke="#222" stroke-width="1"/>
<line x1="194.40" y1="356.30" x2="198.90" y2="356.30" stroke="#222" stroke-width="1"/>
<line x1="64.80" y1="369.20" x2="56.80" y2="369.20" stroke="#222" stroke-width="1"/>
<line x1="194.40" y1="369.20" x2="202.40" y2="369.20" stroke="#222" stroke-width="1"/>
<line x1="64.80" y1="382.10" x2="60.30" y2="382.10" stroke="#222" stroke-width="1"/>
<line x1="194.40" y1="382.10" x2="198.90" y2="382.10" stroke="#222" stroke-width="1"/>
<line x1="64.80" y1="399.15" x2="60.30" y2="399.15" stroke="#222" stroke-width="1"/>
<line x1="194.40" y1="399.15" x2="198.90" y2="399.15" stroke="#222" stroke-width="1"/>
<line x1="64.80" y1="412.05" x2="56.80" y2="412.05" stroke="#222" stroke-width="1"/>
<line x1="194.40" y1="412.05" x2="202.40" y2="412.05" stroke="#222" stroke-width="1"/>
<line x1="64.80" y1="424.95" x2="60.30" y2="424.95" stroke="#222" stroke-width="1"/>
<line x1="194.40" y1="424.95" x2="198.90" y2="424.95" stroke="#222" stroke-width="1"/>
<line x1="64.80" y1="442.00" x2="60.30" y2="442.00" stroke="#222" stroke-width="1"/>
<line x1="194.40" y1="442.00" x2="198.90" y2="442.00" stroke="#222" stroke-width="1"/>
<line x1="64.80" y1="454.90" x2="56.80" y2="454.90" stroke="#222" stroke-width="1"/>
<line x1="194.40" y1="454.90" x2="202.40" y2="454.90" stroke="#222" stroke-width="1"/>
<line x1="64.80" y1="467.80" x2="60.30" y2="467.80" stroke="#222" stroke-width="1"/>
<line x1="194.40" y1="467.80" x2="198.90" y2="467.80" stroke="#222" stroke-width="1"/>
<rect x="64.80" y="356.30" width="129.60" height="111.50" fill="none" stroke="#000" stroke-width="1.7"/>
<text x="64.80" y="486.80" text-anchor="middle" font-size="10">0.05</text>
<text x="103.81" y="486.80" text-anchor="middle" font-size="10">0.1</text>
<text x="142.83" y="486.80" text-anchor="middle" font-size="10">0.2</text>
<text x="194.40" y="486.80" text-anchor="middle" font-size="10">0.5</text>
<text x="129.60" y="499.80" text-anchor="middle" font-size="10.4">[Hz]</text>
<text x="52.80" y="372.70" text-anchor="end" font-size="9.7">10<tspan font-size="6.2" dy="-4.0" dx="0.4">1</tspan></text>
<text x="52.80" y="415.55" text-anchor="end" font-size="9.7">10<tspan font-size="6.2" dy="-4.0" dx="0.4">0</tspan></text>
<text x="52.80" y="458.40" text-anchor="end" font-size="9.7">10<tspan font-size="6.2" dy="-4.0" dx="0.4">−1</tspan></text>
<text transform="translate(28.6,412.35) rotate(-90)" text-anchor="middle" font-size="10.4">Spcetral ratio</text>
<line x1="232.30" y1="369.20" x2="361.90" y2="369.20" stroke="#a0a0a0" stroke-width="1.2"/>
<line x1="232.30" y1="412.05" x2="361.90" y2="412.05" stroke="#a0a0a0" stroke-width="1.2"/>
<line x1="232.30" y1="454.90" x2="361.90" y2="454.90" stroke="#a0a0a0" stroke-width="1.2"/>
<line x1="271.31" y1="356.30" x2="271.31" y2="467.80" stroke="#b4b4b4" stroke-width="1.3"/>
<clipPath id="cp21"><rect x="232.30" y="356.30" width="129.60" height="111.50"/></clipPath>
<g clip-path="url(#cp21)">
<path d="M232.2,409.0C232.7,408.8 234.0,408.1 235.0,408.0C236.0,407.9 237.0,407.9 238.0,408.4C239.0,408.9 240.1,409.9 241.0,411.0C241.9,412.1 242.6,413.5 243.4,415.0C244.2,416.5 245.1,418.2 246.0,420.0C246.9,421.8 247.8,423.7 248.6,426.0C249.4,428.3 250.3,431.8 251.0,434.0C251.7,436.2 252.3,438.0 253.0,439.0C253.7,440.0 254.6,440.2 255.4,440.0C256.2,439.8 257.1,438.7 258.0,438.0C258.9,437.3 259.8,436.8 260.6,436.0C261.4,435.2 262.3,433.8 263.0,433.0C263.7,432.2 264.3,431.0 265.0,431.0C265.7,431.0 266.3,432.0 267.0,433.0C267.7,434.0 268.3,436.2 269.0,437.0C269.7,437.8 270.3,438.1 271.0,437.6C271.7,437.1 272.3,435.1 273.0,434.0C273.7,432.9 274.6,431.0 275.4,431.0C276.2,431.0 277.1,432.5 278.0,434.0C278.9,435.5 279.8,439.2 280.6,440.0C281.4,440.8 281.9,440.7 282.6,439.0C283.3,437.3 283.9,433.5 284.6,430.0C285.3,426.5 286.3,421.5 287.0,418.0C287.7,414.5 288.3,411.5 289.0,409.0C289.7,406.5 290.3,404.2 291.0,403.0C291.7,401.8 292.3,401.3 293.0,402.0C293.7,402.7 294.6,405.2 295.4,407.0C296.2,408.8 297.1,411.2 298.0,413.0C298.9,414.8 299.8,416.5 300.6,418.0C301.4,419.5 302.2,420.3 303.0,422.0C303.8,423.7 304.7,426.2 305.4,428.0C306.1,429.8 306.7,432.0 307.4,433.0C308.1,434.0 308.7,434.3 309.4,434.0C310.1,433.7 310.7,433.3 311.4,431.0C312.1,428.7 312.7,422.8 313.4,420.0C314.1,417.2 314.7,414.7 315.4,414.0C316.1,413.3 316.6,414.7 317.4,416.0C318.2,417.3 319.1,419.8 320.0,422.0C320.9,424.2 321.8,428.7 322.6,429.0C323.4,429.3 324.1,425.5 325.0,424.0C325.9,422.5 327.0,421.7 328.0,420.0C329.0,418.3 330.2,415.5 331.0,414.0C331.8,412.5 332.3,411.0 333.0,411.0C333.7,411.0 334.3,412.5 335.0,414.0C335.7,415.5 336.6,418.3 337.4,420.0C338.2,421.7 339.1,423.5 340.0,424.0C340.9,424.5 341.8,423.5 342.6,423.0C343.4,422.5 344.2,421.2 345.0,421.0C345.8,420.8 346.6,422.0 347.4,422.0C348.2,422.0 349.1,421.3 350.0,421.0C350.9,420.7 351.8,420.2 352.6,420.0C353.4,419.8 354.2,420.2 355.0,420.0C355.8,419.8 356.7,420.0 357.4,419.0C358.1,418.0 358.7,415.2 359.4,414.0C360.1,412.8 361.1,412.3 361.4,412.0" fill="none" stroke="#111" stroke-width="1.2" stroke-linejoin="round" stroke-dasharray="3.5,2"/>
<path d="M232.2,402.0C232.7,401.7 234.0,400.8 235.0,400.4C236.0,400.0 237.0,399.7 238.0,399.6C239.0,399.5 240.0,399.9 241.0,400.0C242.0,400.1 243.0,400.2 244.0,400.0C245.0,399.8 246.2,398.0 247.0,399.0C247.8,400.0 248.3,403.5 249.0,406.0C249.7,408.5 250.6,411.7 251.4,414.0C252.2,416.3 253.1,418.8 254.0,420.0C254.9,421.2 256.0,421.3 257.0,421.0C258.0,420.7 259.1,419.8 260.0,418.0C260.9,416.2 261.9,412.8 262.6,410.0C263.3,407.2 263.6,401.7 264.2,401.0C264.8,400.3 265.4,403.2 266.0,406.0C266.6,408.8 267.3,415.2 268.0,418.0C268.7,420.8 269.3,422.7 270.0,423.0C270.7,423.3 271.2,420.8 272.0,420.0C272.8,419.2 273.8,418.5 274.6,418.0C275.4,417.5 276.3,417.0 277.0,417.0C277.7,417.0 278.3,417.2 279.0,418.0C279.7,418.8 280.3,422.0 281.0,422.0C281.7,422.0 282.3,420.3 283.0,418.0C283.7,415.7 284.7,411.0 285.4,408.0C286.1,405.0 286.7,402.2 287.4,400.0C288.1,397.8 288.7,396.8 289.4,395.0C290.1,393.2 290.7,389.2 291.4,389.0C292.1,388.8 292.7,392.3 293.4,394.0C294.1,395.7 294.6,397.5 295.4,399.0C296.2,400.5 297.1,401.5 298.0,403.0C298.9,404.5 299.8,406.5 300.6,408.0C301.4,409.5 302.3,410.3 303.0,412.0C303.7,413.7 304.3,416.2 305.0,418.0C305.7,419.8 306.7,422.0 307.4,423.0C308.1,424.0 308.7,424.8 309.4,424.0C310.1,423.2 310.7,420.5 311.4,418.0C312.1,415.5 312.7,411.4 313.4,409.0C314.1,406.6 314.7,404.1 315.4,403.6C316.1,403.1 316.6,404.9 317.4,406.0C318.2,407.1 319.1,409.3 320.0,410.0C320.9,410.7 321.8,410.2 322.6,410.0C323.4,409.8 324.1,409.3 325.0,409.0C325.9,408.7 327.0,408.8 328.0,408.0C329.0,407.2 330.2,405.8 331.0,404.0C331.8,402.2 332.3,397.3 333.0,397.0C333.7,396.7 334.3,400.2 335.0,402.0C335.7,403.8 336.3,406.7 337.0,408.0C337.7,409.3 338.6,410.0 339.4,410.0C340.2,410.0 341.1,408.3 342.0,408.0C342.9,407.7 343.8,407.5 344.6,408.0C345.4,408.5 346.2,410.3 347.0,411.0C347.8,411.7 348.6,411.8 349.4,412.0C350.2,412.2 351.1,412.7 352.0,412.0C352.9,411.3 353.8,409.0 354.6,408.0C355.4,407.0 356.3,406.8 357.0,406.0C357.7,405.2 358.3,404.0 359.0,403.0C359.7,402.0 361.0,400.5 361.4,400.0" fill="none" stroke="#111" stroke-width="1.2" stroke-linejoin="round" stroke-dasharray="3.5,2"/>
<path d="M232.2,405.0C232.7,404.7 234.0,403.4 235.0,403.0C236.0,402.6 237.0,402.3 238.0,402.4C239.0,402.5 240.1,403.1 241.0,403.6C241.9,404.1 242.6,404.8 243.4,405.6C244.2,406.4 245.2,407.3 246.0,408.4C246.8,409.5 247.3,410.5 248.0,412.0C248.7,413.5 249.3,415.7 250.0,417.6C250.7,419.5 251.3,421.7 252.0,423.6C252.7,425.5 253.2,427.8 254.0,429.0C254.8,430.2 255.8,430.8 256.6,431.0C257.4,431.2 258.2,430.7 259.0,430.0C259.8,429.3 260.7,428.0 261.4,427.0C262.1,426.0 262.7,424.8 263.4,424.0C264.1,423.2 264.7,422.1 265.4,422.0C266.1,421.9 266.7,422.6 267.4,423.6C268.1,424.6 268.8,426.9 269.4,428.0C270.0,429.1 270.5,430.0 271.0,430.0C271.5,430.0 272.0,429.0 272.6,428.0C273.2,427.0 273.9,424.7 274.6,424.0C275.3,423.3 275.9,423.3 276.6,423.6C277.3,423.9 278.0,425.1 278.6,426.0C279.2,426.9 279.6,428.7 280.2,429.0C280.8,429.3 281.4,429.5 282.0,428.0C282.6,426.5 283.3,423.0 284.0,420.0C284.7,417.0 285.3,413.3 286.0,410.0C286.7,406.7 287.3,402.7 288.0,400.0C288.7,397.3 289.4,395.3 290.0,394.0C290.6,392.7 290.9,391.7 291.4,392.0C291.9,392.3 292.4,394.3 293.0,396.0C293.6,397.7 294.3,400.0 295.0,402.0C295.7,404.0 296.3,406.3 297.0,408.0C297.7,409.7 298.3,410.7 299.0,412.0C299.7,413.3 300.3,414.7 301.0,416.0C301.7,417.3 302.3,418.5 303.0,420.0C303.7,421.5 304.3,423.5 305.0,425.0C305.7,426.5 306.4,428.2 307.0,429.0C307.6,429.8 308.1,430.2 308.6,430.0C309.1,429.8 309.6,429.7 310.2,428.0C310.8,426.3 311.4,422.8 312.0,420.0C312.6,417.2 313.4,413.3 314.0,411.0C314.6,408.7 314.9,406.9 315.4,406.4C315.9,405.9 316.4,406.7 317.0,408.0C317.6,409.3 318.3,412.5 319.0,414.0C319.7,415.5 320.3,416.5 321.0,417.0C321.7,417.5 322.3,417.3 323.0,417.0C323.7,416.7 324.3,415.5 325.0,415.0C325.7,414.5 326.3,414.3 327.0,414.0C327.7,413.7 328.3,413.8 329.0,413.0C329.7,412.2 330.3,410.5 331.0,409.0C331.7,407.5 332.3,404.2 333.0,404.0C333.7,403.8 334.3,406.3 335.0,408.0C335.7,409.7 336.3,412.5 337.0,414.0C337.7,415.5 338.3,416.5 339.0,417.0C339.7,417.5 340.3,417.1 341.0,417.0C341.7,416.9 342.3,416.4 343.0,416.4C343.7,416.4 344.3,416.7 345.0,417.0C345.7,417.3 346.3,417.9 347.0,418.0C347.7,418.1 348.3,417.9 349.0,417.6C349.7,417.3 350.3,416.7 351.0,416.4C351.7,416.1 352.3,416.2 353.0,416.0C353.7,415.8 354.3,415.0 355.0,415.0C355.7,415.0 356.3,416.3 357.0,416.0C357.7,415.7 358.3,414.3 359.0,413.0C359.7,411.7 361.0,408.8 361.4,408.0" fill="none" stroke="#000" stroke-width="1.5" stroke-linejoin="round"/>
<path d="M232.2,420.0C232.7,419.5 234.0,418.1 235.0,417.0C236.0,415.9 237.0,414.8 238.0,413.6C239.0,412.4 240.1,411.2 241.0,410.0C241.9,408.8 242.6,407.2 243.4,406.4C244.2,405.6 245.2,404.7 246.0,405.0C246.8,405.3 247.3,406.8 248.0,408.0C248.7,409.2 249.3,411.4 250.0,412.4C250.7,413.4 251.2,414.0 252.0,414.0C252.8,414.0 253.8,413.0 254.6,412.4C255.4,411.8 256.2,411.0 257.0,410.4C257.8,409.8 258.7,409.5 259.4,409.0C260.1,408.5 260.7,408.3 261.4,407.6C262.1,406.9 262.8,404.9 263.4,405.0C264.0,405.1 264.4,405.8 265.0,408.0C265.6,410.2 266.3,415.0 267.0,418.0C267.7,421.0 268.4,424.2 269.0,426.0C269.6,427.8 270.1,429.5 270.6,429.0C271.1,428.5 271.5,425.5 272.0,423.0C272.5,420.5 272.9,416.9 273.4,414.0C273.9,411.1 274.4,407.4 275.0,405.6C275.6,403.8 276.3,402.8 277.0,403.0C277.7,403.2 278.3,405.5 279.0,407.0C279.7,408.5 280.3,411.1 281.0,412.0C281.7,412.9 282.3,412.6 283.0,412.4C283.7,412.2 284.3,411.6 285.0,411.0C285.7,410.4 286.3,410.3 287.0,409.0C287.7,407.7 288.3,405.7 289.0,403.0C289.7,400.3 290.4,395.2 291.0,393.0C291.6,390.8 292.1,389.8 292.6,390.0C293.1,390.2 293.6,392.7 294.2,394.0C294.8,395.3 295.4,397.4 296.0,398.0C296.6,398.6 297.3,397.7 298.0,397.6C298.7,397.5 299.3,397.1 300.0,397.6C300.7,398.1 301.3,398.8 302.0,400.4C302.7,402.0 303.3,404.4 304.0,407.0C304.7,409.6 305.4,413.7 306.0,416.0C306.6,418.3 307.1,420.7 307.6,421.0C308.1,421.3 308.4,419.5 309.0,418.0C309.6,416.5 310.3,414.2 311.0,412.0C311.7,409.8 312.3,407.2 313.0,405.0C313.7,402.8 314.3,400.2 315.0,399.0C315.7,397.8 316.3,398.0 317.0,398.0C317.7,398.0 318.4,398.3 319.0,399.0C319.6,399.7 320.1,402.0 320.6,402.0C321.1,402.0 321.5,399.8 322.0,399.0C322.5,398.2 322.9,397.0 323.4,397.0C323.9,397.0 324.4,398.4 325.0,399.0C325.6,399.6 326.3,400.4 327.0,400.4C327.7,400.4 328.3,400.1 329.0,399.0C329.7,397.9 330.3,395.8 331.0,394.0C331.7,392.2 332.4,388.2 333.0,388.0C333.6,387.8 334.0,390.7 334.6,393.0C335.2,395.3 335.9,398.8 336.6,402.0C337.3,405.2 337.9,409.3 338.6,412.0C339.3,414.7 339.9,417.0 340.6,418.0C341.3,419.0 342.3,418.7 343.0,418.0C343.7,417.3 344.3,414.1 345.0,414.0C345.7,413.9 346.3,416.9 347.0,417.6C347.7,418.3 348.3,418.1 349.0,418.0C349.7,417.9 350.3,417.3 351.0,417.0C351.7,416.7 352.3,415.8 353.0,416.0C353.7,416.2 354.3,417.0 355.0,418.0C355.7,419.0 356.3,421.0 357.0,422.0C357.7,423.0 358.5,423.2 359.0,424.0C359.5,424.8 359.6,425.7 360.0,427.0C360.4,428.3 361.2,431.2 361.4,432.0" fill="none" stroke="#1e8cff" stroke-width="1.4" stroke-linejoin="round"/>
<path d="M232.2,402.0C232.7,401.4 234.0,399.2 235.0,398.4C236.0,397.6 237.0,397.1 238.0,397.0C239.0,396.9 240.1,397.7 241.0,397.6C241.9,397.5 242.6,396.7 243.4,396.4C244.2,396.1 245.2,395.7 246.0,395.6C246.8,395.5 247.3,394.6 248.0,396.0C248.7,397.4 249.3,401.0 250.0,404.0C250.7,407.0 251.3,411.5 252.0,414.0C252.7,416.5 253.2,417.8 254.0,419.0C254.8,420.2 255.8,421.2 256.6,421.0C257.4,420.8 258.2,419.2 259.0,418.0C259.8,416.8 260.7,415.0 261.4,414.0C262.1,413.0 262.7,411.7 263.4,412.0C264.1,412.3 264.7,413.7 265.4,416.0C266.1,418.3 266.7,423.1 267.4,426.0C268.1,428.9 268.8,432.3 269.4,433.6C270.0,434.9 270.5,434.8 271.0,434.0C271.5,433.2 272.0,430.7 272.6,429.0C273.2,427.3 273.9,425.0 274.6,424.0C275.3,423.0 275.9,422.5 276.6,423.0C277.3,423.5 278.0,425.5 278.6,427.0C279.2,428.5 279.6,431.3 280.2,432.0C280.8,432.7 281.4,433.0 282.0,431.0C282.6,429.0 283.3,423.8 284.0,420.0C284.7,416.2 285.3,412.0 286.0,408.0C286.7,404.0 287.3,399.7 288.0,396.0C288.7,392.3 289.4,388.2 290.0,386.0C290.6,383.8 290.9,382.5 291.4,383.0C291.9,383.5 292.4,386.7 293.0,389.0C293.6,391.3 294.3,394.3 295.0,397.0C295.7,399.7 296.3,402.7 297.0,405.0C297.7,407.3 298.3,409.3 299.0,411.0C299.7,412.7 300.3,413.7 301.0,415.0C301.7,416.3 302.3,417.0 303.0,419.0C303.7,421.0 304.3,423.8 305.0,427.0C305.7,430.2 306.4,435.5 307.0,438.0C307.6,440.5 308.1,442.0 308.6,442.0C309.1,442.0 309.6,440.7 310.2,438.0C310.8,435.3 311.4,430.0 312.0,426.0C312.6,422.0 313.4,417.1 314.0,414.0C314.6,410.9 314.9,408.4 315.4,407.6C315.9,406.8 316.4,407.3 317.0,409.0C317.6,410.7 318.3,415.8 319.0,418.0C319.7,420.2 320.3,421.3 321.0,422.0C321.7,422.7 322.3,421.7 323.0,422.0C323.7,422.3 324.3,423.5 325.0,424.0C325.7,424.5 326.3,425.2 327.0,425.0C327.7,424.8 328.3,424.2 329.0,423.0C329.7,421.8 330.3,419.7 331.0,418.0C331.7,416.3 332.3,413.0 333.0,413.0C333.7,413.0 334.3,416.2 335.0,418.0C335.7,419.8 336.3,422.3 337.0,424.0C337.7,425.7 338.3,427.5 339.0,428.0C339.7,428.5 340.3,427.0 341.0,427.0C341.7,427.0 342.3,427.3 343.0,428.0C343.7,428.7 344.3,429.8 345.0,431.0C345.7,432.2 346.3,434.0 347.0,435.0C347.7,436.0 348.3,437.5 349.0,437.0C349.7,436.5 350.3,433.5 351.0,432.0C351.7,430.5 352.3,429.3 353.0,428.0C353.7,426.7 354.3,424.7 355.0,424.0C355.7,423.3 356.3,423.2 357.0,424.0C357.7,424.8 358.3,426.7 359.0,429.0C359.7,431.3 361.0,436.5 361.4,438.0" fill="none" stroke="#ff1e1e" stroke-width="1.4" stroke-linejoin="round"/>
</g>
<line x1="232.30" y1="356.30" x2="232.30" y2="348.30" stroke="#222" stroke-width="1"/>
<line x1="232.30" y1="467.80" x2="232.30" y2="475.80" stroke="#222" stroke-width="1"/>
<line x1="242.56" y1="356.30" x2="242.56" y2="351.80" stroke="#222" stroke-width="1"/>
<line x1="242.56" y1="467.80" x2="242.56" y2="472.30" stroke="#222" stroke-width="1"/>
<line x1="251.24" y1="356.30" x2="251.24" y2="351.80" stroke="#222" stroke-width="1"/>
<line x1="251.24" y1="467.80" x2="251.24" y2="472.30" stroke="#222" stroke-width="1"/>
<line x1="258.75" y1="356.30" x2="258.75" y2="351.80" stroke="#222" stroke-width="1"/>
<line x1="258.75" y1="467.80" x2="258.75" y2="472.30" stroke="#222" stroke-width="1"/>
<line x1="265.38" y1="356.30" x2="265.38" y2="351.80" stroke="#222" stroke-width="1"/>
<line x1="265.38" y1="467.80" x2="265.38" y2="472.30" stroke="#222" stroke-width="1"/>
<line x1="271.31" y1="356.30" x2="271.31" y2="348.30" stroke="#222" stroke-width="1"/>
<line x1="271.31" y1="467.80" x2="271.31" y2="475.80" stroke="#222" stroke-width="1"/>
<line x1="310.33" y1="356.30" x2="310.33" y2="348.30" stroke="#222" stroke-width="1"/>
<line x1="310.33" y1="467.80" x2="310.33" y2="475.80" stroke="#222" stroke-width="1"/>
<line x1="333.15" y1="356.30" x2="333.15" y2="351.80" stroke="#222" stroke-width="1"/>
<line x1="333.15" y1="467.80" x2="333.15" y2="472.30" stroke="#222" stroke-width="1"/>
<line x1="349.34" y1="356.30" x2="349.34" y2="351.80" stroke="#222" stroke-width="1"/>
<line x1="349.34" y1="467.80" x2="349.34" y2="472.30" stroke="#222" stroke-width="1"/>
<line x1="361.90" y1="356.30" x2="361.90" y2="348.30" stroke="#222" stroke-width="1"/>
<line x1="361.90" y1="467.80" x2="361.90" y2="475.80" stroke="#222" stroke-width="1"/>
<line x1="232.30" y1="356.30" x2="227.80" y2="356.30" stroke="#222" stroke-width="1"/>
<line x1="361.90" y1="356.30" x2="366.40" y2="356.30" stroke="#222" stroke-width="1"/>
<line x1="232.30" y1="369.20" x2="224.30" y2="369.20" stroke="#222" stroke-width="1"/>
<line x1="361.90" y1="369.20" x2="369.90" y2="369.20" stroke="#222" stroke-width="1"/>
<line x1="232.30" y1="382.10" x2="227.80" y2="382.10" stroke="#222" stroke-width="1"/>
<line x1="361.90" y1="382.10" x2="366.40" y2="382.10" stroke="#222" stroke-width="1"/>
<line x1="232.30" y1="399.15" x2="227.80" y2="399.15" stroke="#222" stroke-width="1"/>
<line x1="361.90" y1="399.15" x2="366.40" y2="399.15" stroke="#222" stroke-width="1"/>
<line x1="232.30" y1="412.05" x2="224.30" y2="412.05" stroke="#222" stroke-width="1"/>
<line x1="361.90" y1="412.05" x2="369.90" y2="412.05" stroke="#222" stroke-width="1"/>
<line x1="232.30" y1="424.95" x2="227.80" y2="424.95" stroke="#222" stroke-width="1"/>
<line x1="361.90" y1="424.95" x2="366.40" y2="424.95" stroke="#222" stroke-width="1"/>
<line x1="232.30" y1="442.00" x2="227.80" y2="442.00" stroke="#222" stroke-width="1"/>
<line x1="361.90" y1="442.00" x2="366.40" y2="442.00" stroke="#222" stroke-width="1"/>
<line x1="232.30" y1="454.90" x2="224.30" y2="454.90" stroke="#222" stroke-width="1"/>
<line x1="361.90" y1="454.90" x2="369.90" y2="454.90" stroke="#222" stroke-width="1"/>
<line x1="232.30" y1="467.80" x2="227.80" y2="467.80" stroke="#222" stroke-width="1"/>
<line x1="361.90" y1="467.80" x2="366.40" y2="467.80" stroke="#222" stroke-width="1"/>
<rect x="232.30" y="356.30" width="129.60" height="111.50" fill="none" stroke="#000" stroke-width="1.7"/>
<text x="232.30" y="486.80" text-anchor="middle" font-size="10">0.05</text>
<text x="271.31" y="486.80" text-anchor="middle" font-size="10">0.1</text>
<text x="310.33" y="486.80" text-anchor="middle" font-size="10">0.2</text>
<text x="361.90" y="486.80" text-anchor="middle" font-size="10">0.5</text>
<text x="297.10" y="499.80" text-anchor="middle" font-size="10.4">[Hz]</text>
<text x="220.30" y="372.70" text-anchor="end" font-size="9.7">10<tspan font-size="6.2" dy="-4.0" dx="0.4">1</tspan></text>
<text x="220.30" y="415.55" text-anchor="end" font-size="9.7">10<tspan font-size="6.2" dy="-4.0" dx="0.4">0</tspan></text>
<text x="220.30" y="458.40" text-anchor="end" font-size="9.7">10<tspan font-size="6.2" dy="-4.0" dx="0.4">−1</tspan></text>
<line x1="399.80" y1="369.20" x2="529.40" y2="369.20" stroke="#a0a0a0" stroke-width="1.2"/>
<line x1="399.80" y1="412.05" x2="529.40" y2="412.05" stroke="#a0a0a0" stroke-width="1.2"/>
<line x1="399.80" y1="454.90" x2="529.40" y2="454.90" stroke="#a0a0a0" stroke-width="1.2"/>
<line x1="438.50" y1="356.30" x2="438.50" y2="467.80" stroke="#6e6e6e" stroke-width="1.0"/>
<clipPath id="cp22"><rect x="399.80" y="356.30" width="129.60" height="111.50"/></clipPath>
<g clip-path="url(#cp22)">
<path d="M399.8,408.9C400.3,409.2 401.7,410.1 402.6,410.9C403.5,411.7 404.5,412.7 405.4,413.5C406.3,414.3 407.1,414.7 408.0,415.5C408.9,416.3 410.0,417.2 411.0,418.1C412.0,419.0 413.0,420.0 414.0,420.9C415.0,421.8 416.1,422.8 417.0,423.5C417.9,424.2 418.6,424.7 419.4,424.9C420.2,425.1 421.0,424.8 421.8,424.5C422.6,424.2 423.4,423.5 424.2,422.9C425.0,422.3 425.9,421.6 426.6,420.9C427.3,420.2 427.9,419.0 428.6,418.5C429.3,418.0 429.9,417.8 430.6,418.1C431.3,418.4 431.9,419.1 432.6,420.5C433.3,421.9 433.9,424.7 434.6,426.5C435.3,428.3 436.0,431.1 436.6,431.5C437.2,431.9 437.6,430.7 438.2,428.9C438.8,427.1 439.4,422.6 440.0,420.6C440.6,418.5 441.3,417.3 442.0,416.7C442.7,416.0 443.3,416.3 444.0,416.8C444.7,417.3 445.3,419.9 446.0,419.9C446.7,419.9 447.3,417.7 448.0,417.0C448.7,416.3 449.3,415.5 450.0,415.5C450.7,415.6 451.3,416.4 452.0,417.2C452.7,418.0 453.3,419.5 454.0,420.3C454.7,421.2 455.3,421.9 456.0,422.5C456.7,423.0 457.3,423.5 458.0,423.6C458.7,423.6 459.3,423.0 460.0,422.7C460.7,422.4 461.3,421.8 462.0,421.8C462.7,421.8 463.3,422.5 464.0,422.9C464.7,423.3 465.3,424.0 466.0,424.0C466.7,424.0 467.3,423.1 468.0,423.1C468.7,423.2 469.3,423.5 470.0,424.2C470.7,424.9 471.3,426.0 472.0,427.3C472.7,428.7 473.3,431.0 474.0,432.5C474.7,433.9 475.3,435.6 476.0,436.2C476.7,436.7 477.3,436.4 478.0,435.7C478.7,434.9 479.3,433.1 480.0,431.8C480.7,430.5 481.3,428.8 482.0,427.9C482.7,427.0 483.3,426.7 484.0,426.6C484.7,426.5 485.3,427.5 486.0,427.5C486.7,427.6 487.3,426.9 488.0,426.8C488.7,426.8 489.3,426.9 490.0,427.3C490.7,427.8 491.3,428.8 492.0,429.5C492.7,430.1 493.3,431.3 494.0,431.2C494.7,431.0 495.3,430.9 496.0,428.7C496.7,426.4 497.3,420.8 498.0,417.8C498.7,414.8 499.3,412.4 500.0,410.9C500.7,409.4 501.3,409.0 502.0,409.0C502.7,409.0 503.3,410.1 504.0,411.1C504.7,412.2 505.3,413.7 506.0,415.2C506.7,416.8 507.3,419.1 508.0,420.3C508.7,421.5 509.3,422.4 510.0,422.5C510.7,422.5 511.3,421.4 512.0,420.6C512.7,419.8 513.3,418.6 514.0,417.7C514.7,416.7 515.3,415.6 516.0,414.8C516.7,414.0 517.3,413.0 518.0,412.9C518.7,412.8 519.3,412.8 520.0,414.0C520.7,415.2 521.3,418.8 522.0,420.1C522.7,421.5 523.3,422.2 524.0,422.2C524.7,422.3 525.3,421.0 526.0,420.3C526.7,419.7 527.4,419.3 528.0,418.5C528.6,417.6 529.2,416.0 529.4,415.5" fill="none" stroke="#111" stroke-width="1.2" stroke-linejoin="round" stroke-dasharray="3.5,2"/>
<path d="M399.8,403.9C400.3,404.2 401.7,405.1 402.6,405.9C403.5,406.7 404.5,407.7 405.4,408.5C406.3,409.3 407.1,409.7 408.0,410.5C408.9,411.3 410.0,412.2 411.0,413.1C412.0,414.0 413.0,415.0 414.0,415.9C415.0,416.8 416.1,417.8 417.0,418.5C417.9,419.2 418.6,419.7 419.4,419.9C420.2,420.1 421.0,419.8 421.8,419.5C422.6,419.2 423.4,418.5 424.2,417.9C425.0,417.3 425.9,416.6 426.6,415.9C427.3,415.2 427.9,414.0 428.6,413.5C429.3,413.0 429.9,412.8 430.6,413.1C431.3,413.4 431.9,414.1 432.6,415.5C433.3,416.9 433.9,419.7 434.6,421.5C435.3,423.3 436.0,426.1 436.6,426.5C437.2,426.9 437.6,425.7 438.2,423.9C438.8,422.1 439.4,417.5 440.0,415.4C440.6,413.3 441.3,412.0 442.0,411.3C442.7,410.6 443.3,410.7 444.0,411.2C444.7,411.7 445.3,414.1 446.0,414.1C446.7,414.1 447.3,411.8 448.0,411.0C448.7,410.2 449.3,409.3 450.0,409.3C450.7,409.2 451.3,410.0 452.0,410.8C452.7,411.5 453.3,412.9 454.0,413.7C454.7,414.5 455.3,415.1 456.0,415.5C456.7,416.0 457.3,416.5 458.0,416.4C458.7,416.4 459.3,415.7 460.0,415.3C460.7,415.0 461.3,414.2 462.0,414.2C462.7,414.2 463.3,414.8 464.0,415.1C464.7,415.4 465.3,416.0 466.0,416.0C466.7,416.0 467.3,414.9 468.0,414.9C468.7,414.8 469.3,415.1 470.0,415.8C470.7,416.4 471.3,417.4 472.0,418.7C472.7,420.0 473.3,422.1 474.0,423.5C474.7,424.9 475.3,426.6 476.0,427.0C476.7,427.5 477.3,427.1 478.0,426.3C478.7,425.5 479.3,423.6 480.0,422.2C480.7,420.8 481.3,419.0 482.0,418.1C482.7,417.2 483.3,416.7 484.0,416.6C484.7,416.5 485.3,417.3 486.0,417.3C486.7,417.2 487.3,416.5 488.0,416.4C488.7,416.3 489.3,416.3 490.0,416.7C490.7,417.0 491.3,418.0 492.0,418.5C492.7,419.1 493.3,420.2 494.0,420.0C494.7,419.8 495.3,419.6 496.0,417.3C496.7,415.0 497.3,409.2 498.0,406.2C498.7,403.2 499.3,400.6 500.0,399.1C500.7,397.6 501.3,397.0 502.0,397.0C502.7,397.0 503.3,397.9 504.0,398.9C504.7,399.8 505.3,401.3 506.0,402.8C506.7,404.2 507.3,406.5 508.0,407.7C508.7,408.8 509.3,409.6 510.0,409.5C510.7,409.5 511.3,408.3 512.0,407.4C512.7,406.6 513.3,405.4 514.0,404.3C514.7,403.3 515.3,402.1 516.0,401.2C516.7,400.3 517.3,399.3 518.0,399.1C518.7,398.9 519.3,398.9 520.0,400.0C520.7,401.1 521.3,404.6 522.0,405.9C522.7,407.2 523.3,407.8 524.0,407.8C524.7,407.7 525.3,406.4 526.0,405.7C526.7,405.0 527.4,404.4 528.0,403.5C528.6,402.7 529.2,401.0 529.4,400.5" fill="none" stroke="#111" stroke-width="1.2" stroke-linejoin="round" stroke-dasharray="3.5,2"/>
<path d="M399.8,406.4C400.3,406.7 401.7,407.6 402.6,408.4C403.5,409.2 404.5,410.2 405.4,411.0C406.3,411.8 407.1,412.2 408.0,413.0C408.9,413.8 410.0,414.7 411.0,415.6C412.0,416.5 413.0,417.5 414.0,418.4C415.0,419.3 416.1,420.3 417.0,421.0C417.9,421.7 418.6,422.2 419.4,422.4C420.2,422.6 421.0,422.3 421.8,422.0C422.6,421.7 423.4,421.0 424.2,420.4C425.0,419.8 425.9,419.1 426.6,418.4C427.3,417.7 427.9,416.5 428.6,416.0C429.3,415.5 429.9,415.3 430.6,415.6C431.3,415.9 431.9,416.6 432.6,418.0C433.3,419.4 433.9,422.2 434.6,424.0C435.3,425.8 436.0,428.6 436.6,429.0C437.2,429.4 437.6,428.2 438.2,426.4C438.8,424.6 439.4,420.1 440.0,418.0C440.6,415.9 441.3,414.7 442.0,414.0C442.7,413.3 443.3,413.5 444.0,414.0C444.7,414.5 445.3,417.0 446.0,417.0C446.7,417.0 447.3,414.8 448.0,414.0C448.7,413.2 449.3,412.4 450.0,412.4C450.7,412.4 451.3,413.2 452.0,414.0C452.7,414.8 453.3,416.2 454.0,417.0C454.7,417.8 455.3,418.5 456.0,419.0C456.7,419.5 457.3,420.0 458.0,420.0C458.7,420.0 459.3,419.3 460.0,419.0C460.7,418.7 461.3,418.0 462.0,418.0C462.7,418.0 463.3,418.7 464.0,419.0C464.7,419.3 465.3,420.0 466.0,420.0C466.7,420.0 467.3,419.0 468.0,419.0C468.7,419.0 469.3,419.3 470.0,420.0C470.7,420.7 471.3,421.7 472.0,423.0C472.7,424.3 473.3,426.6 474.0,428.0C474.7,429.4 475.3,431.1 476.0,431.6C476.7,432.1 477.3,431.8 478.0,431.0C478.7,430.2 479.3,428.3 480.0,427.0C480.7,425.7 481.3,423.9 482.0,423.0C482.7,422.1 483.3,421.7 484.0,421.6C484.7,421.5 485.3,422.4 486.0,422.4C486.7,422.4 487.3,421.7 488.0,421.6C488.7,421.5 489.3,421.6 490.0,422.0C490.7,422.4 491.3,423.4 492.0,424.0C492.7,424.6 493.3,425.8 494.0,425.6C494.7,425.4 495.3,425.3 496.0,423.0C496.7,420.7 497.3,415.0 498.0,412.0C498.7,409.0 499.3,406.5 500.0,405.0C500.7,403.5 501.3,403.0 502.0,403.0C502.7,403.0 503.3,404.0 504.0,405.0C504.7,406.0 505.3,407.5 506.0,409.0C506.7,410.5 507.3,412.8 508.0,414.0C508.7,415.2 509.3,416.0 510.0,416.0C510.7,416.0 511.3,414.8 512.0,414.0C512.7,413.2 513.3,412.0 514.0,411.0C514.7,410.0 515.3,408.8 516.0,408.0C516.7,407.2 517.3,406.2 518.0,406.0C518.7,405.8 519.3,405.8 520.0,407.0C520.7,408.2 521.3,411.7 522.0,413.0C522.7,414.3 523.3,415.0 524.0,415.0C524.7,415.0 525.3,413.7 526.0,413.0C526.7,412.3 527.4,411.8 528.0,411.0C528.6,410.2 529.2,408.5 529.4,408.0" fill="none" stroke="#000" stroke-width="1.5" stroke-linejoin="round"/>
<path d="M399.8,409.0C400.3,409.2 401.7,409.9 402.6,410.4C403.5,410.9 404.5,411.6 405.4,412.0C406.3,412.4 407.1,412.7 408.0,413.0C408.9,413.3 410.0,413.4 411.0,413.6C412.0,413.8 413.0,413.9 414.0,414.0C415.0,414.1 416.0,414.1 417.0,414.4C418.0,414.7 419.1,415.4 420.0,416.0C420.9,416.6 421.8,417.5 422.6,418.0C423.4,418.5 424.3,419.1 425.0,419.0C425.7,418.9 426.3,417.8 427.0,417.6C427.7,417.4 428.3,417.8 429.0,418.0C429.7,418.2 430.3,418.9 431.0,419.0C431.7,419.1 432.3,418.2 433.0,418.4C433.7,418.6 434.3,419.4 435.0,420.0C435.7,420.6 436.4,422.3 437.0,422.0C437.6,421.7 438.0,420.2 438.6,418.0C439.2,415.8 439.9,411.3 440.6,409.0C441.3,406.7 441.9,404.6 442.6,404.0C443.3,403.4 443.9,404.8 444.6,405.6C445.3,406.4 445.9,407.9 446.6,409.0C447.3,410.1 447.9,411.5 448.6,412.0C449.3,412.5 449.9,411.7 450.6,412.0C451.3,412.3 451.9,413.3 452.6,414.0C453.3,414.7 453.9,416.0 454.6,416.0C455.3,416.0 455.9,415.0 456.6,414.0C457.3,413.0 457.9,411.4 458.6,410.0C459.3,408.6 459.9,406.7 460.6,405.6C461.3,404.5 461.9,404.0 462.6,403.6C463.3,403.2 464.0,402.8 464.6,403.0C465.2,403.2 465.5,403.8 466.0,405.0C466.5,406.2 466.9,408.5 467.4,410.0C467.9,411.5 468.4,413.0 469.0,414.0C469.6,415.0 470.3,415.3 471.0,416.0C471.7,416.7 472.3,416.8 473.0,418.0C473.7,419.2 474.4,421.7 475.0,423.0C475.6,424.3 476.1,426.2 476.6,426.0C477.1,425.8 477.6,423.7 478.2,422.0C478.8,420.3 479.5,417.4 480.2,416.0C480.9,414.6 481.5,414.1 482.2,413.6C482.9,413.1 483.5,413.3 484.2,413.0C484.9,412.7 485.5,412.4 486.2,412.0C486.9,411.6 487.5,411.1 488.2,410.4C488.9,409.7 489.5,408.6 490.2,408.0C490.9,407.4 491.5,407.0 492.2,407.0C492.9,407.0 493.6,408.5 494.2,408.0C494.8,407.5 495.4,405.5 496.0,404.0C496.6,402.5 497.3,400.5 498.0,399.0C498.7,397.5 499.3,396.0 500.0,395.0C500.7,394.0 501.4,394.1 502.0,393.0C502.6,391.9 502.9,388.2 503.4,388.4C503.9,388.6 504.5,391.4 505.0,394.0C505.5,396.6 506.0,400.7 506.6,404.0C507.2,407.3 507.9,411.7 508.6,414.0C509.3,416.3 509.9,417.6 510.6,418.0C511.3,418.4 511.9,417.2 512.6,416.4C513.3,415.6 513.9,413.9 514.6,413.0C515.3,412.1 515.9,411.4 516.6,411.0C517.3,410.6 517.9,409.9 518.6,410.4C519.3,410.9 520.0,411.9 520.6,414.0C521.2,416.1 521.7,419.7 522.2,423.0C522.7,426.3 522.9,432.3 523.4,434.0C523.9,435.7 524.4,434.5 525.0,433.0C525.6,431.5 526.3,426.8 527.0,425.0C527.7,423.2 529.0,422.5 529.4,422.0" fill="none" stroke="#1e8cff" stroke-width="1.4" stroke-linejoin="round"/>
<path d="M399.8,404.4C400.3,404.7 401.7,405.5 402.6,406.4C403.5,407.3 404.5,408.6 405.4,409.6C406.3,410.6 407.1,411.5 408.0,412.4C408.9,413.3 410.0,414.1 411.0,415.0C412.0,415.9 413.0,416.8 414.0,417.6C415.0,418.4 416.1,419.2 417.0,420.0C417.9,420.8 418.6,421.9 419.4,422.4C420.2,422.9 421.0,423.2 421.8,423.0C422.6,422.8 423.4,421.8 424.2,421.0C425.0,420.2 425.9,419.2 426.6,418.4C427.3,417.6 427.9,416.6 428.6,416.0C429.3,415.4 429.9,415.0 430.6,415.0C431.3,415.0 431.9,414.8 432.6,416.0C433.3,417.2 433.9,420.2 434.6,422.0C435.3,423.8 436.0,426.7 436.6,427.0C437.2,427.3 437.6,425.7 438.2,424.0C438.8,422.3 439.4,418.7 440.0,417.0C440.6,415.3 441.3,414.2 442.0,414.0C442.7,413.8 443.3,414.7 444.0,416.0C444.7,417.3 445.3,421.7 446.0,422.0C446.7,422.3 447.3,419.2 448.0,418.0C448.7,416.8 449.3,415.0 450.0,415.0C450.7,415.0 451.3,416.5 452.0,418.0C452.7,419.5 453.3,422.2 454.0,424.0C454.7,425.8 455.3,427.0 456.0,429.0C456.7,431.0 457.4,434.2 458.0,436.0C458.6,437.8 458.9,439.6 459.4,439.6C459.9,439.6 460.4,437.9 461.0,436.0C461.6,434.1 462.3,430.2 463.0,428.0C463.7,425.8 464.3,423.7 465.0,423.0C465.7,422.3 466.3,423.2 467.0,424.0C467.7,424.8 468.3,426.7 469.0,428.0C469.7,429.3 470.3,429.7 471.0,432.0C471.7,434.3 472.3,438.7 473.0,442.0C473.7,445.3 474.4,449.5 475.0,452.0C475.6,454.5 476.1,455.7 476.6,457.0C477.1,458.3 477.5,459.9 478.0,459.6C478.5,459.3 478.9,457.3 479.4,455.0C479.9,452.7 480.5,448.5 481.0,446.0C481.5,443.5 482.0,441.3 482.6,440.0C483.2,438.7 483.9,438.1 484.6,438.0C485.3,437.9 485.9,439.6 486.6,439.6C487.3,439.6 487.9,437.6 488.6,438.0C489.3,438.4 489.9,440.5 490.6,442.0C491.3,443.5 492.0,445.7 492.6,447.0C493.2,448.3 493.7,450.5 494.2,450.0C494.7,449.5 495.3,447.3 495.8,444.0C496.3,440.7 496.9,434.0 497.4,430.0C497.9,426.0 498.5,422.3 499.0,420.0C499.5,417.7 500.0,416.7 500.6,416.4C501.2,416.1 501.9,417.1 502.6,418.0C503.3,418.9 503.9,419.7 504.6,422.0C505.3,424.3 505.9,428.7 506.6,432.0C507.3,435.3 508.0,439.7 508.6,442.0C509.2,444.3 509.5,446.7 510.0,446.0C510.5,445.3 510.9,441.3 511.4,438.0C511.9,434.7 512.4,429.5 513.0,426.0C513.6,422.5 514.3,418.8 515.0,417.0C515.7,415.2 516.3,414.8 517.0,415.0C517.7,415.2 518.3,416.7 519.0,418.0C519.7,419.3 520.4,421.2 521.0,423.0C521.6,424.8 522.0,427.5 522.6,429.0C523.2,430.5 523.9,431.2 524.6,432.0C525.3,432.8 525.8,432.9 526.6,433.6C527.4,434.3 528.9,435.6 529.4,436.0" fill="none" stroke="#ff1e1e" stroke-width="1.4" stroke-linejoin="round"/>
</g>
<line x1="399.80" y1="356.30" x2="399.80" y2="348.30" stroke="#222" stroke-width="1"/>
<line x1="399.80" y1="467.80" x2="399.80" y2="475.80" stroke="#222" stroke-width="1"/>
<line x1="410.06" y1="356.30" x2="410.06" y2="351.80" stroke="#222" stroke-width="1"/>
<line x1="410.06" y1="467.80" x2="410.06" y2="472.30" stroke="#222" stroke-width="1"/>
<line x1="418.74" y1="356.30" x2="418.74" y2="351.80" stroke="#222" stroke-width="1"/>
<line x1="418.74" y1="467.80" x2="418.74" y2="472.30" stroke="#222" stroke-width="1"/>
<line x1="426.25" y1="356.30" x2="426.25" y2="351.80" stroke="#222" stroke-width="1"/>
<line x1="426.25" y1="467.80" x2="426.25" y2="472.30" stroke="#222" stroke-width="1"/>
<line x1="432.88" y1="356.30" x2="432.88" y2="351.80" stroke="#222" stroke-width="1"/>
<line x1="432.88" y1="467.80" x2="432.88" y2="472.30" stroke="#222" stroke-width="1"/>
<line x1="438.81" y1="356.30" x2="438.81" y2="348.30" stroke="#222" stroke-width="1"/>
<line x1="438.81" y1="467.80" x2="438.81" y2="475.80" stroke="#222" stroke-width="1"/>
<line x1="477.83" y1="356.30" x2="477.83" y2="348.30" stroke="#222" stroke-width="1"/>
<line x1="477.83" y1="467.80" x2="477.83" y2="475.80" stroke="#222" stroke-width="1"/>
<line x1="500.65" y1="356.30" x2="500.65" y2="351.80" stroke="#222" stroke-width="1"/>
<line x1="500.65" y1="467.80" x2="500.65" y2="472.30" stroke="#222" stroke-width="1"/>
<line x1="516.84" y1="356.30" x2="516.84" y2="351.80" stroke="#222" stroke-width="1"/>
<line x1="516.84" y1="467.80" x2="516.84" y2="472.30" stroke="#222" stroke-width="1"/>
<line x1="529.40" y1="356.30" x2="529.40" y2="348.30" stroke="#222" stroke-width="1"/>
<line x1="529.40" y1="467.80" x2="529.40" y2="475.80" stroke="#222" stroke-width="1"/>
<line x1="399.80" y1="356.30" x2="395.30" y2="356.30" stroke="#222" stroke-width="1"/>
<line x1="529.40" y1="356.30" x2="533.90" y2="356.30" stroke="#222" stroke-width="1"/>
<line x1="399.80" y1="369.20" x2="391.80" y2="369.20" stroke="#222" stroke-width="1"/>
<line x1="529.40" y1="369.20" x2="537.40" y2="369.20" stroke="#222" stroke-width="1"/>
<line x1="399.80" y1="382.10" x2="395.30" y2="382.10" stroke="#222" stroke-width="1"/>
<line x1="529.40" y1="382.10" x2="533.90" y2="382.10" stroke="#222" stroke-width="1"/>
<line x1="399.80" y1="399.15" x2="395.30" y2="399.15" stroke="#222" stroke-width="1"/>
<line x1="529.40" y1="399.15" x2="533.90" y2="399.15" stroke="#222" stroke-width="1"/>
<line x1="399.80" y1="412.05" x2="391.80" y2="412.05" stroke="#222" stroke-width="1"/>
<line x1="529.40" y1="412.05" x2="537.40" y2="412.05" stroke="#222" stroke-width="1"/>
<line x1="399.80" y1="424.95" x2="395.30" y2="424.95" stroke="#222" stroke-width="1"/>
<line x1="529.40" y1="424.95" x2="533.90" y2="424.95" stroke="#222" stroke-width="1"/>
<line x1="399.80" y1="442.00" x2="395.30" y2="442.00" stroke="#222" stroke-width="1"/>
<line x1="529.40" y1="442.00" x2="533.90" y2="442.00" stroke="#222" stroke-width="1"/>
<line x1="399.80" y1="454.90" x2="391.80" y2="454.90" stroke="#222" stroke-width="1"/>
<line x1="529.40" y1="454.90" x2="537.40" y2="454.90" stroke="#222" stroke-width="1"/>
<line x1="399.80" y1="467.80" x2="395.30" y2="467.80" stroke="#222" stroke-width="1"/>
<line x1="529.40" y1="467.80" x2="533.90" y2="467.80" stroke="#222" stroke-width="1"/>
<rect x="399.80" y="356.30" width="129.60" height="111.50" fill="none" stroke="#000" stroke-width="1.7"/>
<text x="399.80" y="486.80" text-anchor="middle" font-size="10">0.05</text>
<text x="438.81" y="486.80" text-anchor="middle" font-size="10">0.1</text>
<text x="477.83" y="486.80" text-anchor="middle" font-size="10">0.2</text>
<text x="529.40" y="486.80" text-anchor="middle" font-size="10">0.5</text>
<text x="464.60" y="499.80" text-anchor="middle" font-size="10.4">[Hz]</text>
<text x="387.80" y="372.70" text-anchor="end" font-size="9.7">10<tspan font-size="6.2" dy="-4.0" dx="0.4">1</tspan></text>
<text x="387.80" y="415.55" text-anchor="end" font-size="9.7">10<tspan font-size="6.2" dy="-4.0" dx="0.4">0</tspan></text>
<text x="387.80" y="458.40" text-anchor="end" font-size="9.7">10<tspan font-size="6.2" dy="-4.0" dx="0.4">−1</tspan></text>
<text x="57.2" y="361.60" text-anchor="end" font-size="14.4">TKCH07</text>
<line x1="64.80" y1="525.20" x2="194.40" y2="525.20" stroke="#a0a0a0" stroke-width="1.2"/>
<line x1="64.80" y1="568.05" x2="194.40" y2="568.05" stroke="#a0a0a0" stroke-width="1.2"/>
<line x1="64.80" y1="610.90" x2="194.40" y2="610.90" stroke="#a0a0a0" stroke-width="1.2"/>
<line x1="103.81" y1="512.30" x2="103.81" y2="623.80" stroke="#b4b4b4" stroke-width="1.3"/>
<clipPath id="cp30"><rect x="64.80" y="512.30" width="129.60" height="111.50"/></clipPath>
<g clip-path="url(#cp30)">
<path d="M64.8,570.0C65.5,570.2 67.5,570.3 69.0,571.0C70.5,571.7 72.5,572.8 74.0,574.0C75.5,575.2 76.7,576.5 78.0,578.0C79.3,579.5 80.7,581.1 82.0,583.0C83.3,584.9 84.8,588.6 86.0,589.6C87.2,590.6 88.0,589.4 89.0,589.0C90.0,588.6 91.0,587.5 92.0,587.0C93.0,586.5 94.0,586.3 95.0,586.0C96.0,585.7 96.8,585.4 98.0,585.0C99.2,584.6 100.7,584.0 102.0,583.6C103.3,583.2 104.8,582.5 106.0,582.4C107.2,582.3 108.0,582.9 109.0,583.0C110.0,583.1 111.1,582.7 112.0,583.0C112.9,583.3 113.7,584.2 114.4,585.0C115.1,585.8 115.2,586.8 116.0,588.0C116.8,589.2 118.2,591.4 119.0,592.4C119.8,593.4 120.3,593.4 121.0,594.0C121.7,594.6 122.2,596.2 123.0,596.0C123.8,595.8 124.8,594.0 125.6,593.0C126.4,592.0 127.1,590.8 128.0,590.0C128.9,589.2 130.0,588.9 131.0,588.4C132.0,587.9 133.0,587.1 134.0,587.0C135.0,586.9 136.0,587.8 137.0,588.0C138.0,588.2 139.0,588.5 140.0,588.0C141.0,587.5 142.0,586.0 143.0,585.0C144.0,584.0 144.8,582.6 146.0,582.0C147.2,581.4 148.7,581.3 150.0,581.6C151.3,581.9 152.7,582.9 154.0,584.0C155.3,585.1 156.7,587.0 158.0,588.0C159.3,589.0 160.8,589.8 162.0,590.0C163.2,590.2 164.2,590.0 165.0,589.0C165.8,588.0 166.3,585.8 167.0,584.0C167.7,582.2 168.3,580.0 169.0,578.0C169.7,576.0 170.2,574.3 171.0,572.0C171.8,569.7 173.0,565.5 174.0,564.0C175.0,562.5 176.0,563.3 177.0,563.0C178.0,562.7 178.8,562.4 180.0,562.4C181.2,562.4 182.7,562.7 184.0,563.0C185.3,563.3 186.7,563.7 188.0,564.0C189.3,564.3 190.9,564.7 192.0,565.0C193.1,565.3 194.0,565.8 194.4,566.0" fill="none" stroke="#111" stroke-width="1.2" stroke-linejoin="round" stroke-dasharray="3.5,2"/>
<path d="M64.8,563.6C65.5,563.9 67.5,564.9 69.0,565.6C70.5,566.3 72.5,567.3 74.0,568.0C75.5,568.7 76.7,569.1 78.0,570.0C79.3,570.9 80.7,573.0 82.0,573.6C83.3,574.2 84.7,573.9 86.0,573.6C87.3,573.3 88.7,572.7 90.0,572.0C91.3,571.3 92.7,570.4 94.0,569.6C95.3,568.8 96.8,567.9 98.0,567.0C99.2,566.1 100.0,565.1 101.0,564.4C102.0,563.7 103.0,563.1 104.0,563.0C105.0,562.9 106.0,563.5 107.0,563.6C108.0,563.7 108.8,563.4 110.0,563.6C111.2,563.8 113.1,563.8 114.4,565.0C115.7,566.2 116.7,569.0 118.0,571.0C119.3,573.0 120.7,576.6 122.0,577.0C123.3,577.4 124.7,574.6 126.0,573.6C127.3,572.6 128.7,571.4 130.0,571.0C131.3,570.6 132.7,571.2 134.0,571.0C135.3,570.8 136.8,570.4 138.0,569.6C139.2,568.8 140.0,567.4 141.0,566.0C142.0,564.6 143.2,562.5 144.0,561.0C144.8,559.5 145.4,558.2 146.0,557.0C146.6,555.8 146.9,553.8 147.6,553.6C148.3,553.4 149.3,554.9 150.0,556.0C150.7,557.1 151.3,558.7 152.0,560.0C152.7,561.3 153.2,562.6 154.0,563.6C154.8,564.6 156.0,565.3 157.0,566.0C158.0,566.7 159.0,567.7 160.0,568.0C161.0,568.3 162.2,568.3 163.0,568.0C163.8,567.7 164.2,567.3 165.0,566.0C165.8,564.7 167.0,561.8 168.0,560.0C169.0,558.2 170.0,557.0 171.0,555.0C172.0,553.0 173.2,550.1 174.0,548.0C174.8,545.9 175.3,543.2 176.0,542.4C176.7,541.6 177.3,542.7 178.0,543.0C178.7,543.3 179.3,544.1 180.0,544.0C180.7,543.9 181.4,542.8 182.0,542.4C182.6,542.0 183.0,541.3 183.6,541.6C184.2,541.9 185.0,543.3 185.6,544.0C186.2,544.7 186.4,545.3 187.0,546.0C187.6,546.7 188.3,547.3 189.0,548.0C189.7,548.7 190.3,549.3 191.0,550.0C191.7,550.7 192.4,551.3 193.0,552.0C193.6,552.7 194.2,553.7 194.4,554.0" fill="none" stroke="#111" stroke-width="1.2" stroke-linejoin="round" stroke-dasharray="3.5,2"/>
<path d="M64.8,565.0C65.3,565.2 66.7,565.9 67.6,566.4C68.5,566.9 69.5,567.6 70.4,568.0C71.3,568.4 72.1,568.7 73.0,569.0C73.9,569.3 75.0,569.4 76.0,570.0C77.0,570.6 78.1,571.2 79.0,572.4C79.9,573.6 80.8,575.7 81.6,577.0C82.4,578.3 82.9,579.2 83.6,580.0C84.3,580.8 84.9,581.8 85.6,582.0C86.3,582.2 87.1,581.5 88.0,581.0C88.9,580.5 90.1,579.6 91.0,579.0C91.9,578.4 92.7,578.0 93.6,577.6C94.5,577.2 95.5,576.8 96.4,576.4C97.3,576.0 98.1,575.4 99.0,575.0C99.9,574.6 100.7,574.2 101.6,574.0C102.5,573.8 103.5,573.6 104.4,573.6C105.3,573.6 106.1,574.0 107.0,574.0C107.9,574.0 108.8,573.6 109.6,573.6C110.4,573.6 111.2,573.7 112.0,574.0C112.8,574.3 113.6,574.5 114.4,575.6C115.2,576.7 116.1,579.1 117.0,580.4C117.9,581.7 118.8,582.8 119.6,583.6C120.4,584.4 121.2,584.9 122.0,585.0C122.8,585.1 123.7,584.8 124.4,584.4C125.1,584.0 125.7,583.3 126.4,582.4C127.1,581.5 127.7,579.9 128.4,579.0C129.1,578.1 129.7,577.2 130.4,577.0C131.1,576.8 131.7,577.5 132.4,578.0C133.1,578.5 133.7,579.4 134.4,580.0C135.1,580.6 135.7,581.4 136.4,581.6C137.1,581.8 137.7,581.6 138.4,581.0C139.1,580.4 139.7,579.2 140.4,578.0C141.1,576.8 141.7,575.3 142.4,574.0C143.1,572.7 143.8,571.4 144.4,570.4C145.0,569.4 145.5,568.8 146.0,568.0C146.5,567.2 147.1,565.8 147.6,565.6C148.1,565.4 148.6,565.9 149.2,567.0C149.8,568.1 150.5,570.7 151.2,572.0C151.9,573.3 152.5,574.3 153.2,575.0C153.9,575.7 154.5,575.5 155.2,576.0C155.9,576.5 156.5,577.4 157.2,578.0C157.9,578.6 158.5,579.1 159.2,579.6C159.9,580.1 160.5,580.9 161.2,581.0C161.9,581.1 162.5,581.0 163.2,580.0C163.9,579.0 164.5,576.8 165.2,575.0C165.9,573.2 166.5,570.7 167.2,569.0C167.9,567.3 168.5,566.2 169.2,565.0C169.9,563.8 170.5,563.2 171.2,562.0C171.9,560.8 172.5,559.1 173.2,557.6C173.9,556.1 174.5,554.1 175.2,553.0C175.9,551.9 176.5,551.2 177.2,551.0C177.9,550.8 178.5,551.1 179.2,551.6C179.9,552.1 180.5,553.8 181.2,554.0C181.9,554.2 182.5,552.8 183.2,553.0C183.9,553.2 184.5,554.3 185.2,555.0C185.9,555.7 186.5,556.8 187.2,557.0C187.9,557.2 188.5,556.1 189.2,556.4C189.9,556.7 190.5,558.1 191.2,559.0C191.9,559.9 192.7,561.0 193.2,561.6C193.7,562.2 194.2,562.3 194.4,562.4" fill="none" stroke="#000" stroke-width="1.5" stroke-linejoin="round"/>
<path d="M64.8,586.0C65.1,584.8 65.8,581.5 66.4,579.0C67.0,576.5 67.6,573.2 68.4,571.0C69.2,568.8 70.1,566.9 71.0,565.6C71.9,564.3 72.7,563.5 73.6,563.0C74.5,562.5 75.6,562.2 76.4,562.4C77.2,562.6 77.7,563.1 78.4,564.0C79.1,564.9 79.7,566.7 80.4,568.0C81.1,569.3 81.6,571.0 82.4,572.0C83.2,573.0 84.1,573.6 85.0,574.0C85.9,574.4 87.0,574.2 88.0,574.4C89.0,574.6 90.1,575.1 91.0,575.0C91.9,574.9 92.8,574.7 93.6,574.0C94.4,573.3 95.3,572.3 96.0,571.0C96.7,569.7 97.3,567.6 98.0,566.0C98.7,564.4 99.3,562.7 100.0,561.6C100.7,560.5 101.3,559.9 102.0,559.6C102.7,559.3 103.6,559.5 104.4,559.6C105.2,559.7 106.1,559.9 107.0,560.0C107.9,560.1 108.8,559.9 109.6,560.0C110.4,560.1 111.2,560.1 112.0,560.4C112.8,560.7 113.7,561.1 114.4,561.6C115.1,562.1 115.7,562.7 116.4,563.6C117.1,564.5 117.7,565.9 118.4,567.0C119.1,568.1 119.7,569.5 120.4,570.4C121.1,571.3 121.7,572.1 122.4,572.4C123.1,572.7 123.7,572.8 124.4,572.4C125.1,572.0 125.7,570.6 126.4,570.0C127.1,569.4 127.7,569.0 128.4,569.0C129.1,569.0 129.7,569.3 130.4,570.0C131.1,570.7 131.7,572.3 132.4,573.0C133.1,573.7 133.7,574.3 134.4,574.0C135.1,573.7 135.7,572.0 136.4,571.0C137.1,570.0 137.7,568.8 138.4,568.0C139.1,567.2 139.7,566.7 140.4,566.0C141.1,565.3 141.7,564.6 142.4,564.0C143.1,563.4 143.8,562.9 144.4,562.4C145.0,561.9 145.5,561.3 146.0,561.0C146.5,560.7 147.1,559.9 147.6,560.4C148.1,560.9 148.7,562.6 149.2,564.0C149.7,565.4 150.3,567.8 150.8,569.0C151.3,570.2 151.9,570.5 152.4,571.0C152.9,571.5 153.4,571.5 154.0,572.0C154.6,572.5 155.3,573.7 156.0,574.0C156.7,574.3 157.3,574.1 158.0,574.0C158.7,573.9 159.3,573.8 160.0,573.6C160.7,573.4 161.3,573.3 162.0,573.0C162.7,572.7 163.3,572.1 164.0,571.6C164.7,571.1 165.3,570.5 166.0,570.0C166.7,569.5 167.4,568.4 168.0,568.4C168.6,568.4 169.1,569.1 169.6,570.0C170.1,570.9 170.6,573.0 171.2,574.0C171.8,575.0 172.5,575.9 173.2,576.0C173.9,576.1 174.5,575.1 175.2,574.4C175.9,573.7 176.5,572.6 177.2,572.0C177.9,571.4 178.5,571.0 179.2,571.0C179.9,571.0 180.5,572.2 181.2,572.0C181.9,571.8 182.6,570.4 183.2,570.0C183.8,569.6 184.3,569.4 184.8,569.6C185.3,569.8 185.9,570.3 186.4,571.0C186.9,571.7 187.4,572.3 188.0,574.0C188.6,575.7 189.3,578.5 190.0,581.0C190.7,583.5 191.3,586.8 192.0,589.0C192.7,591.2 194.0,593.2 194.4,594.0" fill="none" stroke="#1e8cff" stroke-width="1.4" stroke-linejoin="round"/>
<path d="M64.8,563.0C65.3,563.2 66.7,563.8 67.6,564.4C68.5,565.0 69.5,565.8 70.4,566.4C71.3,567.0 72.1,567.6 73.0,568.0C73.9,568.4 75.0,568.5 76.0,569.0C77.0,569.5 78.1,569.5 79.0,571.0C79.9,572.5 80.8,575.5 81.6,578.0C82.4,580.5 82.9,583.7 83.6,586.0C84.3,588.3 84.9,590.7 85.6,592.0C86.3,593.3 87.2,593.9 88.0,593.6C88.8,593.3 89.7,590.8 90.4,590.0C91.1,589.2 91.7,588.6 92.4,589.0C93.1,589.4 93.7,591.2 94.4,592.4C95.1,593.6 95.8,595.1 96.4,596.0C97.0,596.9 97.4,598.3 98.0,597.6C98.6,596.9 99.3,594.3 100.0,592.0C100.7,589.7 101.3,586.2 102.0,584.0C102.7,581.8 103.3,579.7 104.0,579.0C104.7,578.3 105.7,579.5 106.4,580.0C107.1,580.5 107.7,582.2 108.4,582.0C109.1,581.8 109.7,580.4 110.4,579.0C111.1,577.6 111.8,575.1 112.4,573.6C113.0,572.1 113.5,569.4 114.0,570.0C114.5,570.6 115.0,574.8 115.6,577.0C116.2,579.2 116.9,581.1 117.6,583.0C118.3,584.9 118.9,587.0 119.6,588.4C120.3,589.8 120.9,590.9 121.6,591.6C122.3,592.3 122.9,592.4 123.6,592.4C124.3,592.4 124.9,591.9 125.6,591.6C126.3,591.3 126.9,590.6 127.6,590.4C128.3,590.2 128.9,589.8 129.6,590.4C130.3,591.0 130.9,592.1 131.6,594.0C132.3,595.9 132.9,599.6 133.6,602.0C134.3,604.4 135.0,606.7 135.6,608.4C136.2,610.1 136.5,611.9 137.0,612.0C137.5,612.1 137.9,610.8 138.4,609.0C138.9,607.2 139.4,603.5 140.0,601.0C140.6,598.5 141.3,596.2 142.0,594.0C142.7,591.8 143.3,589.5 144.0,588.0C144.7,586.5 145.3,585.8 146.0,585.0C146.7,584.2 147.4,583.0 148.0,583.0C148.6,583.0 149.1,583.7 149.6,585.0C150.1,586.3 150.6,588.8 151.2,591.0C151.8,593.2 152.4,596.5 153.0,598.0C153.6,599.5 154.3,600.1 155.0,600.0C155.7,599.9 156.3,597.5 157.0,597.6C157.7,597.7 158.3,600.3 159.0,600.4C159.7,600.5 160.3,599.5 161.0,598.4C161.7,597.3 162.3,595.4 163.0,594.0C163.7,592.6 164.3,591.0 165.0,590.0C165.7,589.0 166.3,588.4 167.0,588.0C167.7,587.6 168.3,587.1 169.0,587.6C169.7,588.1 170.3,589.9 171.0,591.0C171.7,592.1 172.3,594.3 173.0,594.0C173.7,593.7 174.3,590.8 175.0,589.0C175.7,587.2 176.3,585.0 177.0,583.0C177.7,581.0 178.3,578.5 179.0,577.0C179.7,575.5 180.3,574.9 181.0,574.0C181.7,573.1 182.3,572.3 183.0,571.6C183.7,570.9 184.3,570.1 185.0,570.0C185.7,569.9 186.3,570.5 187.0,571.0C187.7,571.5 188.3,572.5 189.0,573.0C189.7,573.5 190.3,573.5 191.0,574.0C191.7,574.5 192.4,575.3 193.0,576.0C193.6,576.7 194.2,577.7 194.4,578.0" fill="none" stroke="#ff1e1e" stroke-width="1.4" stroke-linejoin="round"/>
</g>
<line x1="64.80" y1="512.30" x2="64.80" y2="504.30" stroke="#222" stroke-width="1"/>
<line x1="64.80" y1="623.80" x2="64.80" y2="631.80" stroke="#222" stroke-width="1"/>
<line x1="75.06" y1="512.30" x2="75.06" y2="507.80" stroke="#222" stroke-width="1"/>
<line x1="75.06" y1="623.80" x2="75.06" y2="628.30" stroke="#222" stroke-width="1"/>
<line x1="83.74" y1="512.30" x2="83.74" y2="507.80" stroke="#222" stroke-width="1"/>
<line x1="83.74" y1="623.80" x2="83.74" y2="628.30" stroke="#222" stroke-width="1"/>
<line x1="91.25" y1="512.30" x2="91.25" y2="507.80" stroke="#222" stroke-width="1"/>
<line x1="91.25" y1="623.80" x2="91.25" y2="628.30" stroke="#222" stroke-width="1"/>
<line x1="97.88" y1="512.30" x2="97.88" y2="507.80" stroke="#222" stroke-width="1"/>
<line x1="97.88" y1="623.80" x2="97.88" y2="628.30" stroke="#222" stroke-width="1"/>
<line x1="103.81" y1="512.30" x2="103.81" y2="504.30" stroke="#222" stroke-width="1"/>
<line x1="103.81" y1="623.80" x2="103.81" y2="631.80" stroke="#222" stroke-width="1"/>
<line x1="142.83" y1="512.30" x2="142.83" y2="504.30" stroke="#222" stroke-width="1"/>
<line x1="142.83" y1="623.80" x2="142.83" y2="631.80" stroke="#222" stroke-width="1"/>
<line x1="165.65" y1="512.30" x2="165.65" y2="507.80" stroke="#222" stroke-width="1"/>
<line x1="165.65" y1="623.80" x2="165.65" y2="628.30" stroke="#222" stroke-width="1"/>
<line x1="181.84" y1="512.30" x2="181.84" y2="507.80" stroke="#222" stroke-width="1"/>
<line x1="181.84" y1="623.80" x2="181.84" y2="628.30" stroke="#222" stroke-width="1"/>
<line x1="194.40" y1="512.30" x2="194.40" y2="504.30" stroke="#222" stroke-width="1"/>
<line x1="194.40" y1="623.80" x2="194.40" y2="631.80" stroke="#222" stroke-width="1"/>
<line x1="64.80" y1="512.30" x2="60.30" y2="512.30" stroke="#222" stroke-width="1"/>
<line x1="194.40" y1="512.30" x2="198.90" y2="512.30" stroke="#222" stroke-width="1"/>
<line x1="64.80" y1="525.20" x2="56.80" y2="525.20" stroke="#222" stroke-width="1"/>
<line x1="194.40" y1="525.20" x2="202.40" y2="525.20" stroke="#222" stroke-width="1"/>
<line x1="64.80" y1="538.10" x2="60.30" y2="538.10" stroke="#222" stroke-width="1"/>
<line x1="194.40" y1="538.10" x2="198.90" y2="538.10" stroke="#222" stroke-width="1"/>
<line x1="64.80" y1="555.15" x2="60.30" y2="555.15" stroke="#222" stroke-width="1"/>
<line x1="194.40" y1="555.15" x2="198.90" y2="555.15" stroke="#222" stroke-width="1"/>
<line x1="64.80" y1="568.05" x2="56.80" y2="568.05" stroke="#222" stroke-width="1"/>
<line x1="194.40" y1="568.05" x2="202.40" y2="568.05" stroke="#222" stroke-width="1"/>
<line x1="64.80" y1="580.95" x2="60.30" y2="580.95" stroke="#222" stroke-width="1"/>
<line x1="194.40" y1="580.95" x2="198.90" y2="580.95" stroke="#222" stroke-width="1"/>
<line x1="64.80" y1="598.00" x2="60.30" y2="598.00" stroke="#222" stroke-width="1"/>
<line x1="194.40" y1="598.00" x2="198.90" y2="598.00" stroke="#222" stroke-width="1"/>
<line x1="64.80" y1="610.90" x2="56.80" y2="610.90" stroke="#222" stroke-width="1"/>
<line x1="194.40" y1="610.90" x2="202.40" y2="610.90" stroke="#222" stroke-width="1"/>
<line x1="64.80" y1="623.80" x2="60.30" y2="623.80" stroke="#222" stroke-width="1"/>
<line x1="194.40" y1="623.80" x2="198.90" y2="623.80" stroke="#222" stroke-width="1"/>
<rect x="64.80" y="512.30" width="129.60" height="111.50" fill="none" stroke="#000" stroke-width="1.7"/>
<text x="64.80" y="642.80" text-anchor="middle" font-size="10">0.05</text>
<text x="103.81" y="642.80" text-anchor="middle" font-size="10">0.1</text>
<text x="142.83" y="642.80" text-anchor="middle" font-size="10">0.2</text>
<text x="194.40" y="642.80" text-anchor="middle" font-size="10">0.5</text>
<text x="129.60" y="655.80" text-anchor="middle" font-size="10.4">[Hz]</text>
<text x="52.80" y="528.70" text-anchor="end" font-size="9.7">10<tspan font-size="6.2" dy="-4.0" dx="0.4">1</tspan></text>
<text x="52.80" y="571.55" text-anchor="end" font-size="9.7">10<tspan font-size="6.2" dy="-4.0" dx="0.4">0</tspan></text>
<text x="52.80" y="614.40" text-anchor="end" font-size="9.7">10<tspan font-size="6.2" dy="-4.0" dx="0.4">−1</tspan></text>
<text transform="translate(28.6,568.35) rotate(-90)" text-anchor="middle" font-size="10.4">Spcetral ratio</text>
<line x1="232.30" y1="525.20" x2="361.90" y2="525.20" stroke="#a0a0a0" stroke-width="1.2"/>
<line x1="232.30" y1="568.05" x2="361.90" y2="568.05" stroke="#a0a0a0" stroke-width="1.2"/>
<line x1="232.30" y1="610.90" x2="361.90" y2="610.90" stroke="#a0a0a0" stroke-width="1.2"/>
<line x1="271.31" y1="512.30" x2="271.31" y2="623.80" stroke="#b4b4b4" stroke-width="1.3"/>
<clipPath id="cp31"><rect x="232.30" y="512.30" width="129.60" height="111.50"/></clipPath>
<g clip-path="url(#cp31)">
<path d="M232.2,573.0C232.7,572.2 234.0,569.9 235.0,568.4C236.0,566.9 237.0,565.6 238.0,564.0C239.0,562.4 240.2,560.5 241.0,559.0C241.8,557.5 242.2,556.0 243.0,555.0C243.8,554.0 245.0,552.2 246.0,553.0C247.0,553.8 247.8,556.8 249.0,560.0C250.2,563.2 251.7,568.7 253.0,572.0C254.3,575.3 255.7,577.5 257.0,580.0C258.3,582.5 259.8,586.7 261.0,587.0C262.2,587.3 263.0,583.8 264.0,582.0C265.0,580.2 265.8,577.8 267.0,576.0C268.2,574.2 269.7,570.7 271.0,571.0C272.3,571.3 273.7,574.2 275.0,578.0C276.3,581.8 277.7,589.7 279.0,594.0C280.3,598.3 281.8,601.8 283.0,604.0C284.2,606.2 285.0,606.3 286.0,607.0C287.0,607.7 287.8,608.3 289.0,608.0C290.2,607.7 291.5,605.8 293.0,605.0C294.5,604.2 296.3,603.9 298.0,603.0C299.7,602.1 301.7,600.4 303.0,599.6C304.3,598.8 305.0,597.8 306.0,598.0C307.0,598.2 308.0,599.8 309.0,601.0C310.0,602.2 311.0,604.5 312.0,605.0C313.0,605.5 314.0,605.2 315.0,604.0C316.0,602.8 317.0,600.3 318.0,598.0C319.0,595.7 320.1,593.2 321.0,590.0C321.9,586.8 322.6,582.0 323.4,579.0C324.2,576.0 325.1,573.5 326.0,572.0C326.9,570.5 328.2,569.8 329.0,570.0C329.8,570.2 330.2,571.8 331.0,573.0C331.8,574.2 333.0,576.3 334.0,577.0C335.0,577.7 335.8,577.3 337.0,577.0C338.2,576.7 339.7,574.8 341.0,575.0C342.3,575.2 343.7,577.3 345.0,578.0C346.3,578.7 347.7,579.0 349.0,579.0C350.3,579.0 351.7,578.0 353.0,578.0C354.3,578.0 355.6,577.2 357.0,579.0C358.4,580.8 360.7,587.3 361.4,589.0" fill="none" stroke="#111" stroke-width="1.2" stroke-linejoin="round" stroke-dasharray="3.5,2"/>
<path d="M232.2,561.0C232.7,560.3 234.0,558.5 235.0,557.0C236.0,555.5 237.0,553.7 238.0,552.0C239.0,550.3 240.2,548.3 241.0,547.0C241.8,545.7 242.3,545.0 243.0,544.4C243.7,543.8 244.3,543.3 245.0,543.6C245.7,543.9 246.3,545.0 247.0,546.4C247.7,547.8 248.0,548.7 249.0,552.0C250.0,555.3 251.5,562.3 253.0,566.0C254.5,569.7 256.5,572.7 258.0,574.0C259.5,575.3 260.8,574.8 262.0,574.0C263.2,573.2 264.2,570.3 265.0,569.0C265.8,567.7 266.1,567.0 267.0,566.0C267.9,565.0 269.4,562.7 270.6,563.0C271.8,563.3 272.9,565.7 274.0,568.0C275.1,570.3 275.8,573.5 277.0,577.0C278.2,580.5 279.7,586.5 281.0,589.0C282.3,591.5 283.7,591.5 285.0,592.0C286.3,592.5 287.7,592.7 289.0,592.0C290.3,591.3 291.5,589.5 293.0,588.0C294.5,586.5 296.3,584.3 298.0,583.0C299.7,581.7 301.3,580.2 303.0,580.0C304.7,579.8 306.3,581.1 308.0,581.6C309.7,582.1 311.3,583.6 313.0,583.0C314.7,582.4 316.5,581.2 318.0,578.0C319.5,574.8 320.8,567.5 322.0,564.0C323.2,560.5 324.2,558.8 325.0,557.0C325.8,555.2 326.2,554.8 327.0,553.0C327.8,551.2 329.2,546.3 330.0,546.0C330.8,545.7 331.2,548.0 332.0,551.0C332.8,554.0 334.0,562.3 335.0,564.0C336.0,565.7 337.0,561.6 338.0,561.0C339.0,560.4 340.0,560.2 341.0,560.4C342.0,560.6 343.0,561.1 344.0,562.0C345.0,562.9 345.8,565.4 347.0,566.0C348.2,566.6 349.7,565.9 351.0,565.6C352.3,565.3 353.7,563.6 355.0,564.0C356.3,564.4 357.9,566.7 359.0,568.0C360.1,569.3 361.0,571.3 361.4,572.0" fill="none" stroke="#111" stroke-width="1.2" stroke-linejoin="round" stroke-dasharray="3.5,2"/>
<path d="M232.2,563.6C232.7,563.2 234.0,562.0 235.0,561.0C236.0,560.0 237.1,558.9 238.0,557.6C238.9,556.3 239.8,554.4 240.6,553.0C241.4,551.6 242.3,549.9 243.0,549.0C243.7,548.1 244.3,547.5 245.0,547.6C245.7,547.7 246.3,548.4 247.0,549.6C247.7,550.8 248.3,552.9 249.0,555.0C249.7,557.1 250.3,559.8 251.0,562.0C251.7,564.2 252.3,566.1 253.0,568.0C253.7,569.9 254.6,572.1 255.4,573.6C256.2,575.1 257.1,576.1 258.0,577.0C258.9,577.9 259.8,578.8 260.6,579.0C261.4,579.2 261.9,578.8 262.6,578.0C263.3,577.2 263.9,575.3 264.6,574.0C265.3,572.7 265.9,571.2 266.6,570.0C267.3,568.8 267.9,567.7 268.6,567.0C269.3,566.3 269.9,565.8 270.6,566.0C271.3,566.2 271.9,566.7 272.6,568.0C273.3,569.3 273.9,571.7 274.6,574.0C275.3,576.3 275.9,579.3 276.6,582.0C277.3,584.7 277.9,587.8 278.6,590.0C279.3,592.2 279.9,593.7 280.6,595.0C281.3,596.3 281.9,597.3 282.6,598.0C283.3,598.7 283.9,599.2 284.6,599.0C285.3,598.8 285.9,597.0 286.6,597.0C287.3,597.0 287.9,598.7 288.6,599.0C289.3,599.3 289.9,599.5 290.6,599.0C291.3,598.5 291.9,597.0 292.6,596.0C293.3,595.0 294.2,593.8 295.0,593.0C295.8,592.2 296.6,591.5 297.4,591.0C298.2,590.5 299.1,590.3 300.0,590.0C300.9,589.7 301.8,589.3 302.6,589.0C303.4,588.7 303.9,588.2 304.6,588.4C305.3,588.6 306.2,589.4 307.0,590.0C307.8,590.6 308.6,591.5 309.4,592.0C310.2,592.5 311.1,593.0 312.0,593.0C312.9,593.0 313.8,592.7 314.6,592.0C315.4,591.3 316.2,590.7 317.0,589.0C317.8,587.3 318.7,584.5 319.4,582.0C320.1,579.5 320.7,576.5 321.4,574.0C322.1,571.5 322.7,569.0 323.4,567.0C324.1,565.0 324.7,563.2 325.4,562.0C326.1,560.8 326.7,560.4 327.4,560.0C328.1,559.6 328.8,558.8 329.4,559.6C330.0,560.4 330.4,563.3 331.0,565.0C331.6,566.7 332.3,569.0 333.0,570.0C333.7,571.0 334.3,571.0 335.0,571.0C335.7,571.0 336.3,570.3 337.0,570.0C337.7,569.7 338.3,569.3 339.0,569.0C339.7,568.7 340.3,567.9 341.0,568.0C341.7,568.1 342.3,568.9 343.0,569.6C343.7,570.3 344.3,571.2 345.0,572.0C345.7,572.8 346.3,573.9 347.0,574.4C347.7,574.9 348.3,575.0 349.0,575.0C349.7,575.0 350.3,574.8 351.0,574.4C351.7,574.0 352.3,573.0 353.0,572.4C353.7,571.8 354.3,570.8 355.0,571.0C355.7,571.2 356.3,572.4 357.0,573.6C357.7,574.8 358.3,576.3 359.0,578.0C359.7,579.7 361.0,583.0 361.4,584.0" fill="none" stroke="#000" stroke-width="1.5" stroke-linejoin="round"/>
<path d="M232.2,562.4C232.7,562.2 234.0,561.6 235.0,561.0C236.0,560.4 237.0,559.7 238.0,559.0C239.0,558.3 240.1,557.6 241.0,557.0C241.9,556.4 242.7,555.7 243.4,555.6C244.1,555.5 244.7,555.8 245.4,556.4C246.1,557.0 246.7,557.9 247.4,559.0C248.1,560.1 248.7,561.7 249.4,563.0C250.1,564.3 250.6,565.8 251.4,567.0C252.2,568.2 253.1,569.1 254.0,570.0C254.9,570.9 255.8,571.6 256.6,572.4C257.4,573.2 258.2,574.1 259.0,575.0C259.8,575.9 260.7,576.8 261.4,578.0C262.1,579.2 262.8,581.0 263.4,582.0C264.0,583.0 264.5,584.0 265.0,584.0C265.5,584.0 266.1,582.8 266.6,582.0C267.1,581.2 267.6,579.6 268.2,579.0C268.8,578.4 269.4,578.4 270.0,578.4C270.6,578.4 271.3,579.1 272.0,579.0C272.7,578.9 273.3,578.7 274.0,578.0C274.7,577.3 275.3,575.3 276.0,575.0C276.7,574.7 277.3,575.6 278.0,576.0C278.7,576.4 279.3,577.6 280.0,577.6C280.7,577.6 281.3,576.8 282.0,576.0C282.7,575.2 283.3,573.8 284.0,573.0C284.7,572.2 285.3,571.5 286.0,571.0C286.7,570.5 287.3,569.7 288.0,570.0C288.7,570.3 289.3,572.1 290.0,573.0C290.7,573.9 291.3,575.3 292.0,575.6C292.7,575.9 293.3,575.6 294.0,575.0C294.7,574.4 295.3,572.9 296.0,572.0C296.7,571.1 297.3,570.1 298.0,569.6C298.7,569.1 299.3,568.9 300.0,569.0C300.7,569.1 301.3,570.0 302.0,570.0C302.7,570.0 303.3,569.5 304.0,569.0C304.7,568.5 305.3,567.2 306.0,567.0C306.7,566.8 307.3,567.5 308.0,568.0C308.7,568.5 309.3,569.3 310.0,570.0C310.7,570.7 311.3,571.3 312.0,572.0C312.7,572.7 313.3,573.3 314.0,574.0C314.7,574.7 315.4,575.5 316.0,576.0C316.6,576.5 317.1,577.3 317.6,577.0C318.1,576.7 318.5,575.3 319.0,574.0C319.5,572.7 320.1,570.5 320.6,569.0C321.1,567.5 321.7,566.0 322.2,565.0C322.7,564.0 323.3,563.1 323.8,563.0C324.3,562.9 324.9,563.6 325.4,564.4C325.9,565.2 326.5,566.7 327.0,568.0C327.5,569.3 328.1,570.7 328.6,572.0C329.1,573.3 329.5,575.3 330.0,576.0C330.5,576.7 330.9,575.9 331.4,576.4C331.9,576.9 332.5,577.7 333.0,579.0C333.5,580.3 334.1,583.2 334.6,584.0C335.1,584.8 335.6,584.6 336.2,584.0C336.8,583.4 337.4,581.7 338.0,580.4C338.6,579.1 339.3,577.2 340.0,576.0C340.7,574.8 341.3,573.2 342.0,573.0C342.7,572.8 343.3,573.8 344.0,575.0C344.7,576.2 345.3,578.5 346.0,580.0C346.7,581.5 347.3,583.3 348.0,584.0C348.7,584.7 349.3,584.9 350.0,584.4C350.7,583.9 351.3,582.2 352.0,581.0C352.7,579.8 353.4,577.8 354.0,577.0C354.6,576.2 354.9,575.7 355.4,576.0C355.9,576.3 356.5,577.0 357.0,579.0C357.5,581.0 358.1,584.8 358.6,588.0C359.1,591.2 359.5,595.0 360.0,598.0C360.5,601.0 361.2,604.7 361.4,606.0" fill="none" stroke="#1e8cff" stroke-width="1.4" stroke-linejoin="round"/>
<path d="M232.2,562.4C232.7,562.0 234.0,561.1 235.0,560.0C236.0,558.9 237.1,557.3 238.0,555.6C238.9,553.9 239.8,551.6 240.6,550.0C241.4,548.4 242.3,546.8 243.0,546.0C243.7,545.2 244.3,544.7 245.0,545.0C245.7,545.3 246.3,546.5 247.0,548.0C247.7,549.5 248.3,551.7 249.0,554.0C249.7,556.3 250.3,559.7 251.0,562.0C251.7,564.3 252.3,566.2 253.0,568.0C253.7,569.8 254.6,571.5 255.4,573.0C256.2,574.5 257.1,575.9 258.0,577.0C258.9,578.1 259.8,579.1 260.6,579.6C261.4,580.1 261.9,580.3 262.6,580.0C263.3,579.7 263.9,578.8 264.6,578.0C265.3,577.2 265.9,575.8 266.6,575.0C267.3,574.2 267.9,573.2 268.6,573.0C269.3,572.8 270.2,573.1 271.0,573.6C271.8,574.1 272.7,574.6 273.4,576.0C274.1,577.4 274.7,579.0 275.4,582.0C276.1,585.0 276.8,590.3 277.4,594.0C278.0,597.7 278.5,601.7 279.0,604.0C279.5,606.3 280.0,606.9 280.6,607.6C281.2,608.3 281.9,608.1 282.6,608.4C283.3,608.7 284.0,608.7 284.6,609.6C285.2,610.5 285.7,612.8 286.2,614.0C286.7,615.2 287.3,617.3 287.8,617.0C288.3,616.7 288.8,614.5 289.4,612.0C290.0,609.5 290.7,605.0 291.4,602.0C292.1,599.0 292.6,596.2 293.4,594.0C294.2,591.8 295.1,590.2 296.0,589.0C296.9,587.8 297.8,587.6 298.6,587.0C299.4,586.4 300.2,585.8 301.0,585.6C301.8,585.4 302.6,585.4 303.4,585.6C304.2,585.8 305.1,586.4 306.0,587.0C306.9,587.6 307.7,588.2 308.6,589.0C309.5,589.8 310.5,591.0 311.4,592.0C312.3,593.0 313.2,594.2 314.0,595.0C314.8,595.8 315.3,597.7 316.0,597.0C316.7,596.3 317.3,593.8 318.0,591.0C318.7,588.2 319.3,583.7 320.0,580.0C320.7,576.3 321.3,571.7 322.0,569.0C322.7,566.3 323.3,565.2 324.0,564.0C324.7,562.8 325.3,562.5 326.0,562.0C326.7,561.5 327.3,561.5 328.0,561.0C328.7,560.5 329.4,558.5 330.0,559.0C330.6,559.5 330.9,560.8 331.4,564.0C331.9,567.2 332.5,572.7 333.0,578.0C333.5,583.3 334.1,591.0 334.6,596.0C335.1,601.0 335.5,606.7 336.0,608.0C336.5,609.3 336.9,607.0 337.4,604.0C337.9,601.0 338.4,593.7 339.0,590.0C339.6,586.3 340.3,583.7 341.0,582.0C341.7,580.3 342.3,580.2 343.0,580.0C343.7,579.8 344.3,581.0 345.0,581.0C345.7,581.0 346.3,581.0 347.0,580.0C347.7,579.0 348.3,576.5 349.0,575.0C349.7,573.5 350.3,572.0 351.0,571.0C351.7,570.0 352.3,569.5 353.0,569.0C353.7,568.5 354.3,567.8 355.0,568.0C355.7,568.2 356.3,568.7 357.0,570.0C357.7,571.3 358.3,572.8 359.0,576.0C359.7,579.2 361.0,586.8 361.4,589.0" fill="none" stroke="#ff1e1e" stroke-width="1.4" stroke-linejoin="round"/>
</g>
<line x1="232.30" y1="512.30" x2="232.30" y2="504.30" stroke="#222" stroke-width="1"/>
<line x1="232.30" y1="623.80" x2="232.30" y2="631.80" stroke="#222" stroke-width="1"/>
<line x1="242.56" y1="512.30" x2="242.56" y2="507.80" stroke="#222" stroke-width="1"/>
<line x1="242.56" y1="623.80" x2="242.56" y2="628.30" stroke="#222" stroke-width="1"/>
<line x1="251.24" y1="512.30" x2="251.24" y2="507.80" stroke="#222" stroke-width="1"/>
<line x1="251.24" y1="623.80" x2="251.24" y2="628.30" stroke="#222" stroke-width="1"/>
<line x1="258.75" y1="512.30" x2="258.75" y2="507.80" stroke="#222" stroke-width="1"/>
<line x1="258.75" y1="623.80" x2="258.75" y2="628.30" stroke="#222" stroke-width="1"/>
<line x1="265.38" y1="512.30" x2="265.38" y2="507.80" stroke="#222" stroke-width="1"/>
<line x1="265.38" y1="623.80" x2="265.38" y2="628.30" stroke="#222" stroke-width="1"/>
<line x1="271.31" y1="512.30" x2="271.31" y2="504.30" stroke="#222" stroke-width="1"/>
<line x1="271.31" y1="623.80" x2="271.31" y2="631.80" stroke="#222" stroke-width="1"/>
<line x1="310.33" y1="512.30" x2="310.33" y2="504.30" stroke="#222" stroke-width="1"/>
<line x1="310.33" y1="623.80" x2="310.33" y2="631.80" stroke="#222" stroke-width="1"/>
<line x1="333.15" y1="512.30" x2="333.15" y2="507.80" stroke="#222" stroke-width="1"/>
<line x1="333.15" y1="623.80" x2="333.15" y2="628.30" stroke="#222" stroke-width="1"/>
<line x1="349.34" y1="512.30" x2="349.34" y2="507.80" stroke="#222" stroke-width="1"/>
<line x1="349.34" y1="623.80" x2="349.34" y2="628.30" stroke="#222" stroke-width="1"/>
<line x1="361.90" y1="512.30" x2="361.90" y2="504.30" stroke="#222" stroke-width="1"/>
<line x1="361.90" y1="623.80" x2="361.90" y2="631.80" stroke="#222" stroke-width="1"/>
<line x1="232.30" y1="512.30" x2="227.80" y2="512.30" stroke="#222" stroke-width="1"/>
<line x1="361.90" y1="512.30" x2="366.40" y2="512.30" stroke="#222" stroke-width="1"/>
<line x1="232.30" y1="525.20" x2="224.30" y2="525.20" stroke="#222" stroke-width="1"/>
<line x1="361.90" y1="525.20" x2="369.90" y2="525.20" stroke="#222" stroke-width="1"/>
<line x1="232.30" y1="538.10" x2="227.80" y2="538.10" stroke="#222" stroke-width="1"/>
<line x1="361.90" y1="538.10" x2="366.40" y2="538.10" stroke="#222" stroke-width="1"/>
<line x1="232.30" y1="555.15" x2="227.80" y2="555.15" stroke="#222" stroke-width="1"/>
<line x1="361.90" y1="555.15" x2="366.40" y2="555.15" stroke="#222" stroke-width="1"/>
<line x1="232.30" y1="568.05" x2="224.30" y2="568.05" stroke="#222" stroke-width="1"/>
<line x1="361.90" y1="568.05" x2="369.90" y2="568.05" stroke="#222" stroke-width="1"/>
<line x1="232.30" y1="580.95" x2="227.80" y2="580.95" stroke="#222" stroke-width="1"/>
<line x1="361.90" y1="580.95" x2="366.40" y2="580.95" stroke="#222" stroke-width="1"/>
<line x1="232.30" y1="598.00" x2="227.80" y2="598.00" stroke="#222" stroke-width="1"/>
<line x1="361.90" y1="598.00" x2="366.40" y2="598.00" stroke="#222" stroke-width="1"/>
<line x1="232.30" y1="610.90" x2="224.30" y2="610.90" stroke="#222" stroke-width="1"/>
<line x1="361.90" y1="610.90" x2="369.90" y2="610.90" stroke="#222" stroke-width="1"/>
<line x1="232.30" y1="623.80" x2="227.80" y2="623.80" stroke="#222" stroke-width="1"/>
<line x1="361.90" y1="623.80" x2="366.40" y2="623.80" stroke="#222" stroke-width="1"/>
<rect x="232.30" y="512.30" width="129.60" height="111.50" fill="none" stroke="#000" stroke-width="1.7"/>
<text x="232.30" y="642.80" text-anchor="middle" font-size="10">0.05</text>
<text x="271.31" y="642.80" text-anchor="middle" font-size="10">0.1</text>
<text x="310.33" y="642.80" text-anchor="middle" font-size="10">0.2</text>
<text x="361.90" y="642.80" text-anchor="middle" font-size="10">0.5</text>
<text x="297.10" y="655.80" text-anchor="middle" font-size="10.4">[Hz]</text>
<text x="220.30" y="528.70" text-anchor="end" font-size="9.7">10<tspan font-size="6.2" dy="-4.0" dx="0.4">1</tspan></text>
<text x="220.30" y="571.55" text-anchor="end" font-size="9.7">10<tspan font-size="6.2" dy="-4.0" dx="0.4">0</tspan></text>
<text x="220.30" y="614.40" text-anchor="end" font-size="9.7">10<tspan font-size="6.2" dy="-4.0" dx="0.4">−1</tspan></text>
<line x1="399.80" y1="525.20" x2="529.40" y2="525.20" stroke="#a0a0a0" stroke-width="1.2"/>
<line x1="399.80" y1="568.05" x2="529.40" y2="568.05" stroke="#a0a0a0" stroke-width="1.2"/>
<line x1="399.80" y1="610.90" x2="529.40" y2="610.90" stroke="#a0a0a0" stroke-width="1.2"/>
<line x1="438.50" y1="512.30" x2="438.50" y2="623.80" stroke="#6e6e6e" stroke-width="1.0"/>
<clipPath id="cp32"><rect x="399.80" y="512.30" width="129.60" height="111.50"/></clipPath>
<g clip-path="url(#cp32)">
<path d="M399.8,560.9C400.3,560.7 401.7,560.0 402.6,559.7C403.5,559.4 404.5,559.1 405.4,558.9C406.3,558.7 407.2,558.4 408.0,558.5C408.8,558.6 409.3,558.8 410.0,559.5C410.7,560.2 411.3,561.3 412.0,562.5C412.7,563.7 413.3,565.4 414.0,566.9C414.7,568.4 415.3,570.0 416.0,571.5C416.7,573.0 417.2,574.5 418.0,576.1C418.8,577.7 419.8,579.5 420.6,580.9C421.4,582.3 422.2,583.4 423.0,584.5C423.8,585.6 424.6,586.7 425.4,587.5C426.2,588.3 427.1,589.3 428.0,589.5C428.9,589.7 429.8,589.0 430.6,588.5C431.4,588.0 432.3,586.9 433.0,586.5C433.7,586.1 434.3,585.9 435.0,586.1C435.7,586.3 436.3,586.8 437.0,587.5C437.7,588.2 438.3,589.5 439.0,590.5C439.7,591.5 440.3,592.6 441.0,593.6C441.7,594.7 442.3,596.0 443.0,596.8C443.7,597.5 444.3,598.2 445.0,597.9C445.7,597.6 446.3,595.6 447.0,595.0C447.7,594.4 448.3,594.1 449.0,594.1C449.7,594.2 450.3,594.9 451.0,595.2C451.7,595.6 452.3,596.8 453.0,596.4C453.7,595.9 454.3,593.6 455.0,592.5C455.7,591.4 456.3,590.2 457.0,589.6C457.7,589.0 458.3,589.0 459.0,588.7C459.7,588.5 460.3,588.1 461.0,588.3C461.7,588.4 462.3,589.6 463.0,589.6C463.7,589.6 464.3,588.7 465.0,588.1C465.7,587.5 466.3,586.4 467.0,585.8C467.7,585.3 468.3,584.7 469.0,584.7C469.7,584.8 470.3,585.3 471.0,586.1C471.7,586.9 472.3,588.1 473.0,589.6C473.7,591.0 474.3,593.3 475.0,594.7C475.7,596.1 476.3,597.1 477.0,597.8C477.7,598.5 478.3,598.9 479.0,599.0C479.7,599.0 480.3,598.5 481.0,598.1C481.7,597.6 482.3,597.2 483.0,596.2C483.7,595.2 484.3,593.4 485.0,592.3C485.7,591.2 486.3,590.2 487.0,589.4C487.7,588.7 488.3,588.0 489.0,587.6C489.7,587.1 490.3,586.6 491.0,586.7C491.7,586.7 492.3,587.3 493.0,587.8C493.7,588.4 494.3,589.3 495.0,589.9C495.7,590.6 496.3,591.3 497.0,591.7C497.7,592.0 498.3,591.8 499.0,592.2C499.7,592.6 500.3,593.5 501.0,593.9C501.7,594.3 502.3,595.0 503.0,594.8C503.7,594.6 504.3,593.4 505.0,592.5C505.7,591.7 506.3,590.8 507.0,589.7C507.7,588.5 508.3,586.9 509.0,585.8C509.7,584.7 510.3,583.7 511.0,582.9C511.7,582.1 512.3,581.5 513.0,581.0C513.7,580.6 514.3,580.4 515.0,580.2C515.7,579.9 516.3,579.7 517.0,579.3C517.7,578.8 518.3,578.2 519.0,577.4C519.7,576.6 520.3,575.5 521.0,574.5C521.7,573.6 522.3,572.3 523.0,571.6C523.7,571.0 524.3,570.8 525.0,570.8C525.7,570.7 526.3,570.6 527.0,571.5C527.7,572.4 529.0,575.2 529.4,576.0" fill="none" stroke="#111" stroke-width="1.2" stroke-linejoin="round" stroke-dasharray="3.5,2"/>
<path d="M399.8,555.9C400.3,555.7 401.7,555.0 402.6,554.7C403.5,554.4 404.5,554.1 405.4,553.9C406.3,553.7 407.2,553.4 408.0,553.5C408.8,553.6 409.3,553.8 410.0,554.5C410.7,555.2 411.3,556.3 412.0,557.5C412.7,558.7 413.3,560.4 414.0,561.9C414.7,563.4 415.3,565.0 416.0,566.5C416.7,568.0 417.2,569.5 418.0,571.1C418.8,572.7 419.8,574.5 420.6,575.9C421.4,577.3 422.2,578.4 423.0,579.5C423.8,580.6 424.6,581.7 425.4,582.5C426.2,583.3 427.1,584.3 428.0,584.5C428.9,584.7 429.8,584.0 430.6,583.5C431.4,583.0 432.3,581.9 433.0,581.5C433.7,581.1 434.3,580.9 435.0,581.1C435.7,581.3 436.3,581.8 437.0,582.5C437.7,583.2 438.3,584.5 439.0,585.5C439.7,586.5 440.3,587.4 441.0,588.4C441.7,589.3 442.3,590.6 443.0,591.2C443.7,591.9 444.3,592.5 445.0,592.1C445.7,591.7 446.3,589.7 447.0,589.0C447.7,588.3 448.3,587.9 449.0,587.9C449.7,587.8 450.3,588.5 451.0,588.8C451.7,589.0 452.3,590.2 453.0,589.6C453.7,589.1 454.3,586.7 455.0,585.5C455.7,584.3 456.3,583.1 457.0,582.4C457.7,581.7 458.3,581.6 459.0,581.3C459.7,581.0 460.3,580.5 461.0,580.5C461.7,580.6 462.3,581.7 463.0,581.6C463.7,581.5 464.3,580.6 465.0,579.9C465.7,579.2 466.3,578.0 467.0,577.4C467.7,576.7 468.3,576.1 469.0,576.1C469.7,576.0 470.3,576.4 471.0,577.1C471.7,577.9 472.3,579.1 473.0,580.4C473.7,581.8 474.3,584.0 475.0,585.3C475.7,586.6 476.3,587.5 477.0,588.2C477.7,588.8 478.3,589.1 479.0,589.0C479.7,589.0 480.3,588.5 481.0,587.9C481.7,587.4 482.3,586.8 483.0,585.8C483.7,584.8 484.3,582.9 485.0,581.7C485.7,580.5 486.3,579.4 487.0,578.6C487.7,577.7 488.3,577.0 489.0,576.4C489.7,575.9 490.3,575.4 491.0,575.3C491.7,575.3 492.3,575.7 493.0,576.2C493.7,576.6 494.3,577.5 495.0,578.1C495.7,578.6 496.3,579.3 497.0,579.5C497.7,579.8 498.3,579.5 499.0,579.8C499.7,580.1 500.3,580.9 501.0,581.3C501.7,581.7 502.3,582.3 503.0,582.0C503.7,581.7 504.3,580.4 505.0,579.5C505.7,578.5 506.3,577.5 507.0,576.3C507.7,575.1 508.3,573.4 509.0,572.2C509.7,571.0 510.3,570.0 511.0,569.1C511.7,568.2 512.3,567.5 513.0,567.0C513.7,566.4 514.3,566.2 515.0,565.8C515.7,565.5 516.3,565.3 517.0,564.7C517.7,564.2 518.3,563.5 519.0,562.6C519.7,561.7 520.3,560.5 521.0,559.5C521.7,558.4 522.3,557.1 523.0,556.4C523.7,555.6 524.3,555.3 525.0,555.2C525.7,555.1 526.3,554.9 527.0,555.7C527.7,556.5 529.0,559.3 529.4,560.0" fill="none" stroke="#111" stroke-width="1.2" stroke-linejoin="round" stroke-dasharray="3.5,2"/>
<path d="M399.8,558.4C400.3,558.2 401.7,557.5 402.6,557.2C403.5,556.9 404.5,556.6 405.4,556.4C406.3,556.2 407.2,555.9 408.0,556.0C408.8,556.1 409.3,556.3 410.0,557.0C410.7,557.7 411.3,558.8 412.0,560.0C412.7,561.2 413.3,562.9 414.0,564.4C414.7,565.9 415.3,567.5 416.0,569.0C416.7,570.5 417.2,572.0 418.0,573.6C418.8,575.2 419.8,577.0 420.6,578.4C421.4,579.8 422.2,580.9 423.0,582.0C423.8,583.1 424.6,584.2 425.4,585.0C426.2,585.8 427.1,586.8 428.0,587.0C428.9,587.2 429.8,586.5 430.6,586.0C431.4,585.5 432.3,584.4 433.0,584.0C433.7,583.6 434.3,583.4 435.0,583.6C435.7,583.8 436.3,584.3 437.0,585.0C437.7,585.7 438.3,587.0 439.0,588.0C439.7,589.0 440.3,590.0 441.0,591.0C441.7,592.0 442.3,593.3 443.0,594.0C443.7,594.7 444.3,595.3 445.0,595.0C445.7,594.7 446.3,592.7 447.0,592.0C447.7,591.3 448.3,591.0 449.0,591.0C449.7,591.0 450.3,591.7 451.0,592.0C451.7,592.3 452.3,593.5 453.0,593.0C453.7,592.5 454.3,590.2 455.0,589.0C455.7,587.8 456.3,586.7 457.0,586.0C457.7,585.3 458.3,585.3 459.0,585.0C459.7,584.7 460.3,584.3 461.0,584.4C461.7,584.5 462.3,585.7 463.0,585.6C463.7,585.5 464.3,584.7 465.0,584.0C465.7,583.3 466.3,582.2 467.0,581.6C467.7,581.0 468.3,580.4 469.0,580.4C469.7,580.4 470.3,580.8 471.0,581.6C471.7,582.4 472.3,583.6 473.0,585.0C473.7,586.4 474.3,588.7 475.0,590.0C475.7,591.3 476.3,592.3 477.0,593.0C477.7,593.7 478.3,594.0 479.0,594.0C479.7,594.0 480.3,593.5 481.0,593.0C481.7,592.5 482.3,592.0 483.0,591.0C483.7,590.0 484.3,588.2 485.0,587.0C485.7,585.8 486.3,584.8 487.0,584.0C487.7,583.2 488.3,582.5 489.0,582.0C489.7,581.5 490.3,581.0 491.0,581.0C491.7,581.0 492.3,581.5 493.0,582.0C493.7,582.5 494.3,583.4 495.0,584.0C495.7,584.6 496.3,585.3 497.0,585.6C497.7,585.9 498.3,585.7 499.0,586.0C499.7,586.3 500.3,587.2 501.0,587.6C501.7,588.0 502.3,588.7 503.0,588.4C503.7,588.1 504.3,586.9 505.0,586.0C505.7,585.1 506.3,584.2 507.0,583.0C507.7,581.8 508.3,580.2 509.0,579.0C509.7,577.8 510.3,576.8 511.0,576.0C511.7,575.2 512.3,574.5 513.0,574.0C513.7,573.5 514.3,573.3 515.0,573.0C515.7,572.7 516.3,572.5 517.0,572.0C517.7,571.5 518.3,570.8 519.0,570.0C519.7,569.2 520.3,568.0 521.0,567.0C521.7,566.0 522.3,564.7 523.0,564.0C523.7,563.3 524.3,563.1 525.0,563.0C525.7,562.9 526.3,562.8 527.0,563.6C527.7,564.4 529.0,567.3 529.4,568.0" fill="none" stroke="#000" stroke-width="1.5" stroke-linejoin="round"/>
<path d="M399.8,565.0C400.3,565.1 401.7,565.7 402.6,565.6C403.5,565.5 404.5,564.9 405.4,564.4C406.3,563.9 407.2,563.1 408.0,562.4C408.8,561.7 409.3,560.4 410.0,560.0C410.7,559.6 411.3,559.5 412.0,560.0C412.7,560.5 413.3,561.8 414.0,563.0C414.7,564.2 415.3,565.7 416.0,567.0C416.7,568.3 417.2,569.9 418.0,571.0C418.8,572.1 419.8,573.0 420.6,573.6C421.4,574.2 422.2,574.3 423.0,574.4C423.8,574.5 424.6,574.4 425.4,574.4C426.2,574.4 427.1,574.2 428.0,574.4C428.9,574.6 429.8,575.1 430.6,575.6C431.4,576.1 432.3,576.9 433.0,577.6C433.7,578.3 434.3,579.2 435.0,580.0C435.7,580.8 436.4,581.7 437.0,582.4C437.6,583.1 438.1,584.5 438.6,584.4C439.1,584.3 439.6,582.9 440.2,582.0C440.8,581.1 441.4,579.8 442.0,579.0C442.6,578.2 443.3,577.7 444.0,577.0C444.7,576.3 445.3,575.5 446.0,575.0C446.7,574.5 447.3,574.2 448.0,574.0C448.7,573.8 449.3,573.9 450.0,573.6C450.7,573.3 451.3,572.6 452.0,572.0C452.7,571.4 453.3,570.6 454.0,570.0C454.7,569.4 455.3,568.7 456.0,568.4C456.7,568.1 457.3,568.3 458.0,568.0C458.7,567.7 459.3,566.8 460.0,566.4C460.7,566.0 461.4,565.2 462.0,565.6C462.6,566.0 462.9,567.6 463.4,569.0C463.9,570.4 464.5,572.3 465.0,574.0C465.5,575.7 466.1,578.7 466.6,579.0C467.1,579.3 467.7,577.8 468.2,576.0C468.7,574.2 468.9,570.4 469.4,568.0C469.9,565.6 470.5,562.3 471.0,561.6C471.5,560.9 472.1,562.6 472.6,564.0C473.1,565.4 473.6,568.4 474.2,570.0C474.8,571.6 475.5,572.9 476.2,573.6C476.9,574.3 477.5,574.2 478.2,574.4C478.9,574.6 479.5,575.1 480.2,575.0C480.9,574.9 481.5,574.2 482.2,574.0C482.9,573.8 483.6,574.7 484.2,574.0C484.8,573.3 485.3,570.3 485.8,570.0C486.3,569.7 486.9,571.3 487.4,572.0C487.9,572.7 488.5,574.2 489.0,574.0C489.5,573.8 490.1,572.0 490.6,571.0C491.1,570.0 491.7,568.8 492.2,568.0C492.7,567.2 493.3,565.7 493.8,566.0C494.3,566.3 494.5,568.0 495.0,570.0C495.5,572.0 496.1,575.8 496.6,578.0C497.1,580.2 497.6,581.8 498.2,583.0C498.8,584.2 499.5,584.8 500.2,585.0C500.9,585.2 501.5,584.5 502.2,584.0C502.9,583.5 503.5,582.0 504.2,582.0C504.9,582.0 505.5,583.5 506.2,584.0C506.9,584.5 507.6,584.5 508.2,585.0C508.8,585.5 509.3,586.5 509.8,587.0C510.3,587.5 510.9,588.8 511.4,588.0C511.9,587.2 512.5,583.7 513.0,582.0C513.5,580.3 514.1,578.3 514.6,578.0C515.1,577.7 515.7,578.7 516.2,580.0C516.7,581.3 517.3,584.5 517.8,586.0C518.3,587.5 518.9,590.2 519.4,589.0C519.9,587.8 520.5,581.2 521.0,579.0C521.5,576.8 522.1,576.2 522.6,576.0C523.1,575.8 523.7,577.7 524.2,578.0C524.7,578.3 525.3,577.0 525.8,578.0C526.3,579.0 526.6,582.2 527.0,584.0C527.4,585.8 527.8,587.7 528.2,589.0C528.6,590.3 529.2,591.2 529.4,591.6" fill="none" stroke="#1e8cff" stroke-width="1.4" stroke-linejoin="round"/>
<path d="M399.8,559.0C400.3,558.8 401.7,558.0 402.6,557.6C403.5,557.2 404.5,556.6 405.4,556.4C406.3,556.2 407.2,556.2 408.0,556.4C408.8,556.6 409.3,556.8 410.0,557.6C410.7,558.4 411.3,559.8 412.0,561.0C412.7,562.2 413.3,563.5 414.0,565.0C414.7,566.5 415.3,568.3 416.0,570.0C416.7,571.7 417.2,573.5 418.0,575.0C418.8,576.5 419.8,577.5 420.6,579.0C421.4,580.5 422.2,582.5 423.0,584.0C423.8,585.5 424.6,586.8 425.4,588.0C426.2,589.2 427.1,590.7 428.0,591.0C428.9,591.3 429.8,590.6 430.6,590.0C431.4,589.4 432.3,588.1 433.0,587.6C433.7,587.1 434.3,586.9 435.0,587.0C435.7,587.1 436.3,587.6 437.0,588.4C437.7,589.2 438.3,590.4 439.0,592.0C439.7,593.6 440.3,596.3 441.0,598.0C441.7,599.7 442.3,601.9 443.0,602.4C443.7,602.9 444.3,602.1 445.0,601.0C445.7,599.9 446.3,596.5 447.0,596.0C447.7,595.5 448.3,597.2 449.0,598.0C449.7,598.8 450.3,600.3 451.0,601.0C451.7,601.7 452.3,602.2 453.0,602.0C453.7,601.8 454.4,601.3 455.0,600.0C455.6,598.7 456.1,595.8 456.6,594.0C457.1,592.2 457.7,590.2 458.2,589.0C458.7,587.8 459.3,587.2 459.8,587.0C460.3,586.8 460.9,587.4 461.4,587.6C461.9,587.8 462.4,588.5 463.0,588.4C463.6,588.3 464.3,587.7 465.0,587.0C465.7,586.3 466.3,584.8 467.0,584.0C467.7,583.2 468.3,582.6 469.0,582.0C469.7,581.4 470.3,580.1 471.0,580.4C471.7,580.7 472.3,582.4 473.0,584.0C473.7,585.6 474.3,587.7 475.0,590.0C475.7,592.3 476.3,595.3 477.0,598.0C477.7,600.7 478.4,603.6 479.0,606.0C479.6,608.4 480.1,612.4 480.6,612.4C481.1,612.4 481.7,608.4 482.2,606.0C482.7,603.6 483.3,600.3 483.8,598.0C484.3,595.7 484.8,593.7 485.4,592.0C486.0,590.3 486.7,588.8 487.4,588.0C488.1,587.2 488.7,587.3 489.4,587.0C490.1,586.7 490.7,586.2 491.4,586.0C492.1,585.8 492.8,585.1 493.4,585.6C494.0,586.1 494.5,586.9 495.0,589.0C495.5,591.1 496.1,595.0 496.6,598.0C497.1,601.0 497.7,605.0 498.2,607.0C498.7,609.0 499.3,610.2 499.8,610.0C500.3,609.8 500.9,606.9 501.4,605.6C501.9,604.3 502.5,602.4 503.0,602.0C503.5,601.6 504.1,603.2 504.6,603.0C505.1,602.8 505.6,600.9 506.2,601.0C506.8,601.1 507.5,603.8 508.2,603.6C508.9,603.4 509.5,601.6 510.2,600.0C510.9,598.4 511.5,596.2 512.2,594.0C512.9,591.8 513.5,589.3 514.2,587.0C514.9,584.7 515.5,582.2 516.2,580.0C516.9,577.8 517.5,575.6 518.2,573.6C518.9,571.6 519.5,569.3 520.2,568.0C520.9,566.7 521.5,565.8 522.2,566.0C522.9,566.2 523.5,568.4 524.2,569.0C524.9,569.6 525.6,569.1 526.2,569.6C526.8,570.1 527.5,570.9 528.0,572.0C528.5,573.1 529.2,575.3 529.4,576.0" fill="none" stroke="#ff1e1e" stroke-width="1.4" stroke-linejoin="round"/>
</g>
<line x1="399.80" y1="512.30" x2="399.80" y2="504.30" stroke="#222" stroke-width="1"/>
<line x1="399.80" y1="623.80" x2="399.80" y2="631.80" stroke="#222" stroke-width="1"/>
<line x1="410.06" y1="512.30" x2="410.06" y2="507.80" stroke="#222" stroke-width="1"/>
<line x1="410.06" y1="623.80" x2="410.06" y2="628.30" stroke="#222" stroke-width="1"/>
<line x1="418.74" y1="512.30" x2="418.74" y2="507.80" stroke="#222" stroke-width="1"/>
<line x1="418.74" y1="623.80" x2="418.74" y2="628.30" stroke="#222" stroke-width="1"/>
<line x1="426.25" y1="512.30" x2="426.25" y2="507.80" stroke="#222" stroke-width="1"/>
<line x1="426.25" y1="623.80" x2="426.25" y2="628.30" stroke="#222" stroke-width="1"/>
<line x1="432.88" y1="512.30" x2="432.88" y2="507.80" stroke="#222" stroke-width="1"/>
<line x1="432.88" y1="623.80" x2="432.88" y2="628.30" stroke="#222" stroke-width="1"/>
<line x1="438.81" y1="512.30" x2="438.81" y2="504.30" stroke="#222" stroke-width="1"/>
<line x1="438.81" y1="623.80" x2="438.81" y2="631.80" stroke="#222" stroke-width="1"/>
<line x1="477.83" y1="512.30" x2="477.83" y2="504.30" stroke="#222" stroke-width="1"/>
<line x1="477.83" y1="623.80" x2="477.83" y2="631.80" stroke="#222" stroke-width="1"/>
<line x1="500.65" y1="512.30" x2="500.65" y2="507.80" stroke="#222" stroke-width="1"/>
<line x1="500.65" y1="623.80" x2="500.65" y2="628.30" stroke="#222" stroke-width="1"/>
<line x1="516.84" y1="512.30" x2="516.84" y2="507.80" stroke="#222" stroke-width="1"/>
<line x1="516.84" y1="623.80" x2="516.84" y2="628.30" stroke="#222" stroke-width="1"/>
<line x1="529.40" y1="512.30" x2="529.40" y2="504.30" stroke="#222" stroke-width="1"/>
<line x1="529.40" y1="623.80" x2="529.40" y2="631.80" stroke="#222" stroke-width="1"/>
<line x1="399.80" y1="512.30" x2="395.30" y2="512.30" stroke="#222" stroke-width="1"/>
<line x1="529.40" y1="512.30" x2="533.90" y2="512.30" stroke="#222" stroke-width="1"/>
<line x1="399.80" y1="525.20" x2="391.80" y2="525.20" stroke="#222" stroke-width="1"/>
<line x1="529.40" y1="525.20" x2="537.40" y2="525.20" stroke="#222" stroke-width="1"/>
<line x1="399.80" y1="538.10" x2="395.30" y2="538.10" stroke="#222" stroke-width="1"/>
<line x1="529.40" y1="538.10" x2="533.90" y2="538.10" stroke="#222" stroke-width="1"/>
<line x1="399.80" y1="555.15" x2="395.30" y2="555.15" stroke="#222" stroke-width="1"/>
<line x1="529.40" y1="555.15" x2="533.90" y2="555.15" stroke="#222" stroke-width="1"/>
<line x1="399.80" y1="568.05" x2="391.80" y2="568.05" stroke="#222" stroke-width="1"/>
<line x1="529.40" y1="568.05" x2="537.40" y2="568.05" stroke="#222" stroke-width="1"/>
<line x1="399.80" y1="580.95" x2="395.30" y2="580.95" stroke="#222" stroke-width="1"/>
<line x1="529.40" y1="580.95" x2="533.90" y2="580.95" stroke="#222" stroke-width="1"/>
<line x1="399.80" y1="598.00" x2="395.30" y2="598.00" stroke="#222" stroke-width="1"/>
<line x1="529.40" y1="598.00" x2="533.90" y2="598.00" stroke="#222" stroke-width="1"/>
<line x1="399.80" y1="610.90" x2="391.80" y2="610.90" stroke="#222" stroke-width="1"/>
<line x1="529.40" y1="610.90" x2="537.40" y2="610.90" stroke="#222" stroke-width="1"/>
<line x1="399.80" y1="623.80" x2="395.30" y2="623.80" stroke="#222" stroke-width="1"/>
<line x1="529.40" y1="623.80" x2="533.90" y2="623.80" stroke="#222" stroke-width="1"/>
<rect x="399.80" y="512.30" width="129.60" height="111.50" fill="none" stroke="#000" stroke-width="1.7"/>
<text x="399.80" y="642.80" text-anchor="middle" font-size="10">0.05</text>
<text x="438.81" y="642.80" text-anchor="middle" font-size="10">0.1</text>
<text x="477.83" y="642.80" text-anchor="middle" font-size="10">0.2</text>
<text x="529.40" y="642.80" text-anchor="middle" font-size="10">0.5</text>
<text x="464.60" y="655.80" text-anchor="middle" font-size="10.4">[Hz]</text>
<text x="387.80" y="528.70" text-anchor="end" font-size="9.7">10<tspan font-size="6.2" dy="-4.0" dx="0.4">1</tspan></text>
<text x="387.80" y="571.55" text-anchor="end" font-size="9.7">10<tspan font-size="6.2" dy="-4.0" dx="0.4">0</tspan></text>
<text x="387.80" y="614.40" text-anchor="end" font-size="9.7">10<tspan font-size="6.2" dy="-4.0" dx="0.4">−1</tspan></text>
<text x="57.2" y="517.60" text-anchor="end" font-size="14.4">HKD100</text>
<text x="110.10" y="17.9" text-anchor="middle" font-size="12">NS</text>
<text x="278.80" y="17.9" text-anchor="middle" font-size="12">EW</text>
<text x="445.40" y="17.9" text-anchor="middle" font-size="12">UD</text>
<line x1="548" y1="7.20" x2="585.5" y2="7.20" stroke="#1e8cff" stroke-width="2"/>
<text x="589.5" y="11.70" font-size="13">Model 0 / Obs.</text>
<line x1="548" y1="29.50" x2="585.5" y2="29.50" stroke="#ff1e1e" stroke-width="2"/>
<text x="589.5" y="34.00" font-size="13">Model C / Obs.</text>
<line x1="548" y1="51.80" x2="585.5" y2="51.80" stroke="#bebebe" stroke-width="2"/>
<text x="589.5" y="56.30" font-size="13">Model H3 / Obs.</text>
</svg>
</body></html>
